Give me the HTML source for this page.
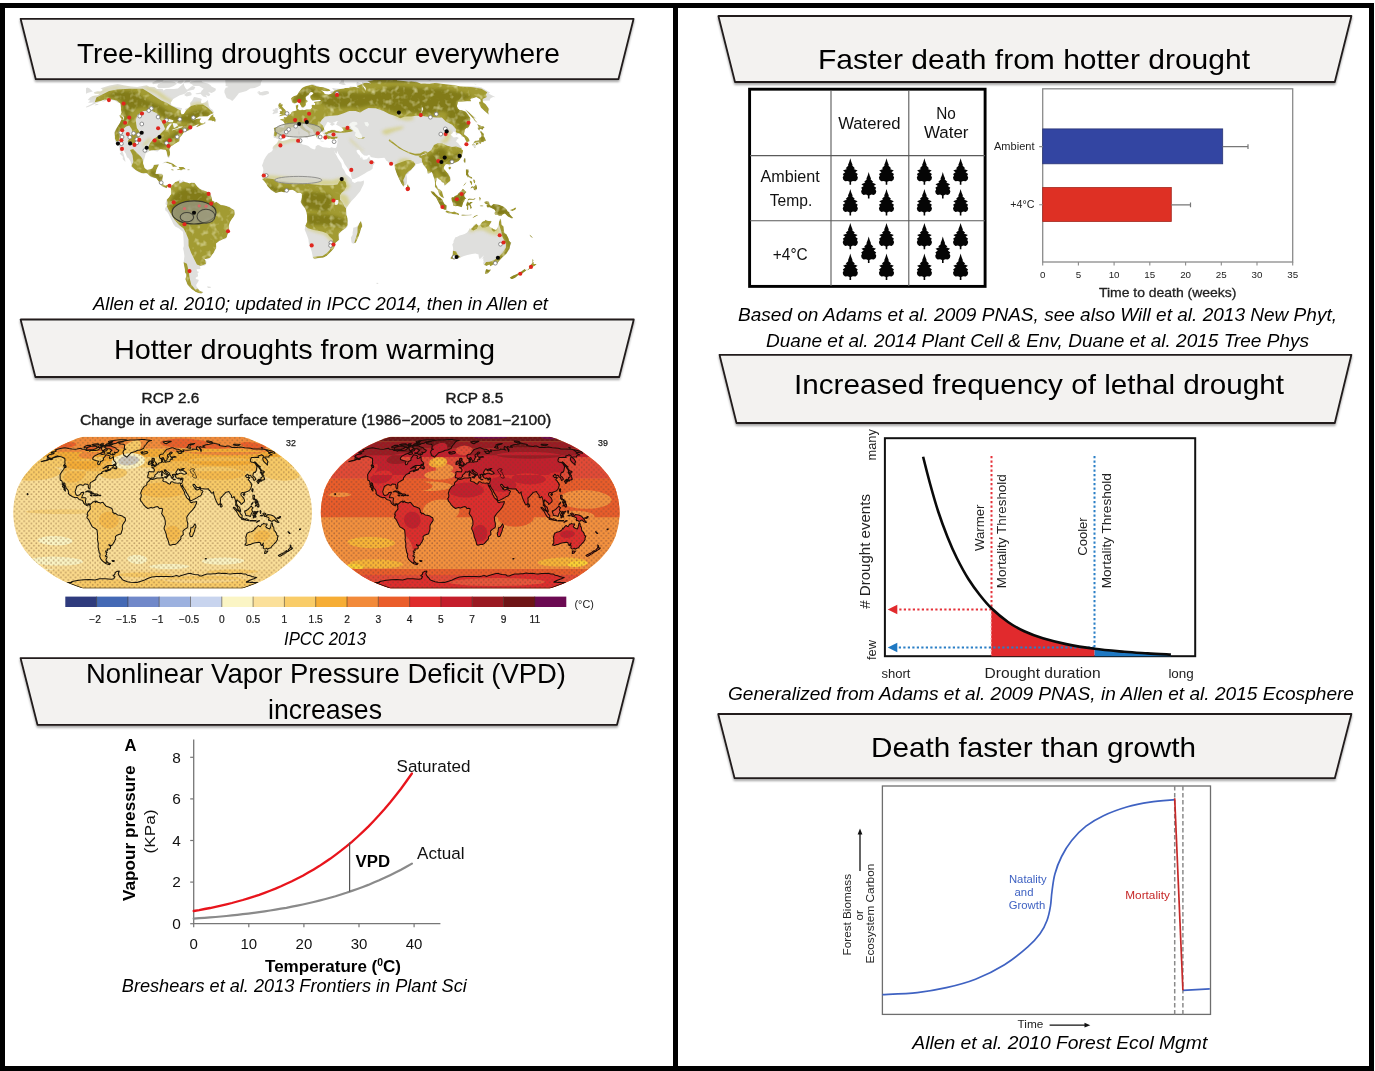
<!DOCTYPE html>
<html lang="en"><head><meta charset="utf-8"><title>Hotter drought and tree mortality</title>
<style>
html,body{margin:0;padding:0;background:#fff;}
body{width:1375px;height:1071px;overflow:hidden;font-family:"Liberation Sans",sans-serif;}
svg{display:block;font-family:"Liberation Sans",sans-serif;}
</style></head><body>
<svg width="1375" height="1071" viewBox="0 0 1375 1071">
<defs>
<filter id="sh" x="-5%" y="-20%" width="110%" height="150%"><feDropShadow dx="0" dy="2" stdDeviation="1.2" flood-color="#000" flood-opacity="0.35"/></filter>
<clipPath id="m1land"><path d="M100.5 88.3L109.5 85.6L117.7 84.1L124.8 85.4L131.1 86.4L137.2 86.9L139.7 86.6L146.7 85.2L149.3 86.7L154.5 87L157 89L162.6 88.9L163.5 90.5L166 88.9L173.6 89L177.9 88.4L183.8 83.3L184.2 85.8L185.4 88L187 89.7L192.2 86.1L195.4 87L194.1 89.5L187.9 90.9L184.8 93.8L179.3 95.6L173.2 99.1L170.8 102.5L171.4 105.3L176.3 106.9L182.2 108.3L180.5 111.7L181.6 114.6L183.8 114L185.6 110.4L185.1 109.1L188 108L190.5 106.1L190.1 103L192.2 100.6L194 96.9L196 97.3L199.8 98.2L201.7 99.1L200.9 102.2L201.8 103.3L205 102.5L207.9 100L208.9 106.1L210.2 108.2L212.8 110.1L214.2 113L210.1 114.5L207.6 116.2L199.3 116.2L195.9 118.2L191.4 121.6L196.3 119L201.3 118.4L199.9 120.2L199.7 121.5L200.4 122.8L203.5 123.6L205.7 121.6L205.6 123.5L200.3 125.4L197 127.3L196.4 126.4L199.3 124.3L197.2 124.4L195.7 125.3L192.6 126.4L190.8 127.1L189.1 129.3L190.2 130.1L188.4 130.6L184.1 132.1L182.1 135L179.7 138.1L179.6 141.2L175.8 143.2L172.4 145.4L170.6 146.6L169.3 149.4L170.1 152.6L169.9 157L168.4 158.2L167.5 156.5L166.7 153.6L166.6 151.4L165.5 149.8L163 149.8L161 149.3L159.8 149.4L157.7 151.4L155.8 151.3L153.8 150.6L151.2 150.4L149.6 151.1L145.6 153.6L144.9 156.8L143.1 162.9L144.8 168.1L147.1 169.8L150.8 169.1L153.3 167L153.7 165.1L154.9 164.6L158.8 164.1L159 164.9L157.6 167.6L156.7 169.3L156.2 171L155.3 173.7L156.9 173.9L159.2 173.7L162.1 173.7L163.2 175.2L162.5 178.6L161.9 182L162.9 183.6L164 185.3L165.8 185.7L167.5 184.7L169.6 184.7L171.2 185.8L170.3 188.4L169.9 186.5L168 185.5L166.6 188.2L164.6 187.7L162.9 186.7L161.8 186.2L160.3 184.3L158.7 183.5L158.9 181.8L156.8 178.9L156.2 178.2L153.9 177.9L150.7 176.9L149.6 175.9L147.3 173.4L145.5 173.2L143.5 174L138.7 172.2L135.8 170.3L132.7 168.3L130.9 166.1L131.6 165.6L130.6 161.4L128.8 158.4L127 157.3L125.7 153.5L124.3 151.6L124 148.2L122 146.9L121.4 149.1L122.8 152L123.8 155L125.2 159.7L125.4 161.9L122.7 158.9L122.9 156.7L120.9 154.7L119.7 153.6L121.2 152.3L119.6 150.3L119.2 146.9L119 145.4L117.9 143.5L115.4 142.3L114.8 138.8L114.9 136.8L114.2 132.4L116.2 128.4L120.1 122.8L121.3 119.2L123.9 119.8L124.2 117.7L123.1 115.7L120.5 114.9L121.6 112.5L120.9 109.6L120.9 107.7L120.5 105.3L120 103.2L118 102.7L116.4 101.4L114.4 100.6L110.8 99.9L108.5 99.4L105.1 101L101.4 101.9L106.8 98.8L103.3 99.9L99.5 101.7L93.5 104.6L88 106.9L83.5 108.2L77.7 109.1L82.5 107.4L86.6 106.4L91.6 104.1L93.7 102.7L92.8 102.4L90 102.7L88 102.8L90.4 100.6L87.7 99.9L89.9 97.6L92.6 96.1L97.9 95.3L99.7 93.8L94.6 93.8L93.8 92.2L97.4 91.2L100.4 91.5L102.7 90.2L102.2 89.3ZM171.2 185.8L174.1 183L175.3 182L176.2 181.5L180 179.6L180.6 180.6L180 182.3L182.2 180.9L182.6 179.9L184.8 182.1L186.9 182.6L189.8 183.5L191.4 182.6L194.4 182.5L195.8 184.5L197.2 186.2L199.9 189L204.3 190.6L208.6 192.2L210.3 193.1L212 197.5L212 200.5L214.3 201.3L214.3 202.9L216.5 201.7L220.6 204.7L224.1 205.2L229.4 206.7L231.6 208.6L234.4 209.8L235 212.5L234.9 214.2L233.7 216.9L231.8 219L229.7 222.4L229 225.4L229.2 228.1L229 230.7L227.5 234.7L226.7 237.6L225.3 239.3L223.5 239.3L219.1 241L216 243.5L216.4 247L216.1 248.7L214.9 249.9L214.1 252.8L212.1 254.8L210.6 257.3L208.7 259.3L206.9 259.3L204.5 258.7L203.5 257.8L203.7 258.8L205.7 260.3L206.6 261.7L206 264.5L204.6 265.5L200.1 266L200.4 268.9L196.6 269.2L197.2 271.2L199.3 272.1L197.6 272.9L198.1 276.2L195.6 277.7L195.9 278.9L198.6 279.8L198.7 280.8L197.2 283.3L196.1 284.9L196.7 287L197.9 288.2L198.5 289.3L200.1 290.9L203.4 292L201.5 293.9L199.1 293.3L196.2 292.2L192.8 290.1L189.9 287.7L187.2 284.5L186.1 281.2L185.2 279.2L186.3 276.2L186.3 273.7L185.1 272.9L184.7 270.9L185 270.4L184.6 267.7L183.6 262.9L183.9 260.3L184.4 256.1L183.7 251.1L183.1 248.5L183.8 246L183.6 240.3L183.3 234.5L182.9 231.7L181.2 230.2L179.1 228.6L175.2 226.5L173.3 223.9L171.9 220.7L169.4 215.8L168.7 214.2L167.3 212.1L165.4 210.6L165 208.4L166.2 206.4L167.1 204.9L166.5 205.1L165.4 204.2L165.8 202.2L166.7 199.3L167.3 198.8L168.7 197.5L171.3 193.9L170.8 191.2L171.2 189.4L170.3 188.4ZM278.3 140.2L279.2 140L282.4 141L285.8 140.3L290.8 138.5L293.6 138.5L297.6 138.3L300.3 137.6L302.1 138.1L301.1 138.5L301.6 139.2L302 142L301.1 143.4L302.6 144.5L305.6 145L308.4 145.9L310.7 147.9L312.8 149.1L314.6 149.4L315.6 148.2L315.6 146.4L317.7 145L319.1 145.2L321.2 146.4L323 147.2L325.9 147.6L329.9 147.9L331.4 147.2L333.3 147.7L333.8 149.9L334.3 151.6L336.2 154.7L338.1 158.4L339.3 160.2L341.4 163.4L342.2 167.5L344.2 170.2L346 174.2L348.3 175.9L351 178.6L351.9 179.3L351.9 180.9L352.2 181.5L354.6 183L357.6 181.6L360.9 181.5L363.9 180.6L363.9 183L363.4 184.7L362 187.4L360.2 191.2L355.4 197.1L351.3 201.2L349 204.2L347 207.2L346.1 209.1L346.3 212L346.5 214.8L347.5 217.9L347.9 220.7L347.7 222.4L347.8 225.8L346.7 227.8L342 230.7L338.7 233.9L339.1 236.7L339.2 240.1L336.1 242.6L334.6 244.3L334.8 246.9L333.4 249L331.7 250.9L326.6 256.1L323.2 257.8L319.5 258L315.1 259.2L312.9 258.1L312.5 255.6L311.8 251.9L310.8 248.7L309.1 245.3L308.4 239.3L306.9 235.1L304.7 229.7L305.2 226.1L307.2 221.7L307 215.3L305.7 210.6L305 208.6L302.3 205.2L300.4 201.7L301.4 199.8L301.9 197.3L301.9 193.8L300.7 192.9L299.8 192.7L297.8 193.1L296.3 193.3L294.8 190.9L292.4 189.7L290.9 189.9L289.1 190.2L287 191.2L284.3 192.4L281.3 191.6L278.3 192.2L275.7 193.1L271 189.9L269.2 188L267.4 186.2L266.7 184.5L265.1 182.3L263.6 180.6L262.3 179.6L262.4 177.9L261.1 175.7L262.6 173.5L263.4 170L263 167.8L262 165.4L263.5 161.7L263.7 160.6L265.8 156.7L268.2 153.5L270.9 152.1L272.1 150.9L273 149.3L272.6 148.9L272.7 147.4L273.6 146.1L275.9 143.9L277 143.2ZM333.8 149.9L335.1 152.5L336.7 153.8L337.5 150.8L338.1 153.3L340.3 156.7L342.8 160L344.7 164.3L347 167.6L349.6 171.8L350.3 172L351.1 175.6L351.7 178.1L352.2 179.1L354.4 178.9L358.8 176.9L360.4 176.1L364.8 173.5L367.4 171.8L369.1 171L370.7 170.2L372.7 168.5L372.8 166.1L375.1 162.6L373.1 160.7L370.2 159.4L369.6 158.2L369.2 156.2L368.8 157L367.9 157.9L366.8 159.2L364.2 159.7L362.7 159.5L362.6 158.4L361.9 156.5L361.3 157.5L361.5 158.7L360.4 157.5L360.1 156L359.2 155L357.9 153.8L356.4 151.1L357 149.9L358.4 149.8L359.4 149.9L360.5 151.8L361.8 153.6L364.2 155.5L367 155.7L368.9 154.7L370.1 155.5L370.7 157L371.5 157.3L375.7 157.9L378.2 158.2L381.4 158L384.3 157.7L385.2 158.7L386.1 160.4L387.7 161.4L388.7 162.9L390.4 165.1L391.9 165.6L393.7 164.3L394.1 163.1L394.4 164.9L394.9 168.5L397.1 174.5L399 178.8L401.4 183.6L403.5 186.8L404.5 185.5L406.1 184.8L406.9 183.1L407.1 178.4L406.5 174.4L408 173.9L409.4 171.8L410.8 170.7L412.9 168L414 167.1L415.5 165.4L415.5 164.3L417 164.1L419 163.8L420.3 163.1L422.2 162.9L422.8 164.4L424.5 166.6L427 169.8L427.4 173.5L429 173.9L430.4 172.7L431.3 171.8L432.3 172.9L433.6 176.9L434.6 179.6L435 183.6L434.8 187L436.7 188.7L438 190.4L438 191.4L438.9 193.8L439.7 195.4L441.1 196.8L443.5 198.3L444.3 198.1L443.6 196.3L442.8 194.1L442.2 191.6L440.8 190L439.4 188.9L438.3 188.4L437.3 186.2L436.1 184.8L435.8 182.8L436.5 180.6L436.5 178.1L437.4 177.7L438 179.1L439.7 179.8L441 180.6L442.2 182.6L443.8 183L444.4 186L445.5 185.3L447.2 184L447.7 183.1L449.4 182.1L450.5 180.4L450.6 178.6L450.3 177.2L448.3 173.4L447.1 172.5L445.5 170.7L443.9 169L443.9 167.1L444.8 165.4L446.3 164.3L448 164.4L449.7 166.3L450.1 164.8L451.9 164.1L454.2 163.1L455.2 162.9L458.5 161.2L460.2 159.2L461.7 156.7L462.6 153.3L463.1 150.1L461.4 149.4L462.2 147.9L460.1 145.7L458 142.9L456.1 141.8L456.8 139.8L458.9 138.1L456.9 137.1L453.7 137.6L450.7 134.8L452.5 133.3L453.5 131.6L455.4 132.1L456.1 135L459 133.3L461.3 135.3L461.3 136.5L464.2 137.3L464.8 139L466.1 141.8L466.7 142.7L469.8 141.3L469.6 139.8L468 137.3L464.1 134.4L464.4 132.6L464.7 130.1L466.3 127.9L468 128.4L469.6 125.6L469.9 121.5L470.5 118.2L467.7 114.1L465.8 111.4L461.7 110.1L459.6 110.1L457.8 108.5L456.9 106.1L458.3 101.6L461.9 101.7L467.2 101.3L471.2 101.4L470.2 99.1L474.4 97.8L476.2 96.9L480.3 99.3L480.9 101.4L479.1 102.1L479.4 104.1L480.6 107.5L485.5 112L489.2 115.1L488.3 111.7L489.4 109.3L487.6 106.6L485.6 104.1L483 102.2L483.1 100.8L489.9 100.6L489.9 99.1L491.1 97.9L493.2 96.9L495.6 97.2L488.4 93.5L490.2 92.8L481.6 87.4L478.3 86.7L469.2 86.3L465.9 86.4L459.9 86.4L454.8 84.9L443.8 84.1L436.4 82.7L429.6 83.8L424.8 83.4L420.9 83.7L415.5 81.2L411.2 81.1L408.9 81.8L401.5 80.8L396.9 80.4L397.4 78.4L388.7 76.5L384.9 75.7L382.7 77.2L378.5 77.8L372.6 78.7L367.2 81.1L371.4 83.4L368.5 83.1L365 82.7L362.3 82L361.7 83.8L365.9 88L365.6 90.9L363.9 87.6L361.4 83.8L356.9 81.8L356.4 83.8L357.1 86.6L360 88.3L355.4 87L350 86.3L349.2 87.7L345 88L344.1 88.4L339.8 88.7L335.8 88.4L333.1 88L332 87.9L333.8 90.2L334.3 91.3L331.9 91L330 91.9L331.3 93.7L328.7 94.6L326.3 94.3L324.8 93.8L324.4 93.1L320.9 90L324 90.9L327.6 91.5L330.8 90.5L328.9 89L323.7 87L320.4 86.9L318 86.1L316.7 85.7L313.8 84.3L311.7 84.3L309 85.2L305 86.3L302 87.9L300.6 89.7L298.9 92.3L297 95.3L295.4 95.8L293.9 95.9L292.2 96.9L291 98.4L291.5 100L292 102.2L293.9 103.8L295.1 103.6L296.8 102.4L298 101.6L298.8 102.2L300 104.2L301.3 106.6L301.8 107.7L303.4 107.7L304.9 106.8L305.7 105.8L305.8 104.1L305.7 102.8L307.6 101.7L307.7 100.3L305.8 99.6L305.5 97L308.6 94.9L309.9 92.2L312 91.9L313.8 93.1L312.6 94.6L310 95.9L310.5 98.4L311.5 100L312.9 101L315.2 100.5L319.2 99.7L321.5 100.8L319 101.3L315 101.4L313.6 101.9L315.2 103.3L315 105.3L313.1 104.4L311.8 104.7L311.5 106.1L311.9 107.4L310.8 109L309.2 109.5L306.4 109.3L303.8 110.3L302.6 109.3L300.9 109.9L299.4 110.1L298.5 109.5L297.5 108.8L298.3 106.6L298.4 104.2L295.5 105.3L295.9 107.7L296.4 109.3L296.8 110.3L295.8 110.7L294.6 111.1L291.8 111.7L291.2 113.2L290.3 114.3L289.6 114.6L288.2 115.1L286.1 117.4L283.8 117L284 118.8L279.8 119.2L280.3 120.2L283.1 121.2L284.5 123L284.7 123.9L284.5 125.4L284.1 127.4L281.1 127.3L278.5 127.3L275.8 126.9L274.8 127.4L273.6 128.3L274.3 129.4L274.4 131.3L273.3 135.3L273.9 138.1L275.5 138.1L277.7 139L279 139.7L280.4 138.6L283.2 138.5L283.7 138.6L285.2 137.1L285.8 136L286.8 135.3L286.1 133.9L287.7 131.9L289.4 130.8L290.9 129.3L291.6 127.3L293.6 127.6L294.5 127.9L296.2 126.9L298.3 125.8L299.5 126.3L300.3 127.3L300.6 128.3L302.5 129.6L303.3 130.3L305.1 131.1L306 131.8L306.9 132.1L308.1 133.1L308.8 134.8L308.4 136.5L309 136.6L310.3 134.8L309.4 133.4L309.8 132.4L310.2 132.3L312 133.4L312.1 132.9L311.3 132.1L309.7 131.3L308.6 129.9L306.9 129.8L305.8 128.9L304.6 127.1L303.3 126.3L303.1 124.8L302.7 124.1L304.7 123.8L304.5 124.6L305 125.1L305.6 124.3L306.9 126.3L308.6 127.3L311.1 128.8L312.5 129.6L313.1 130.9L313.3 132.4L314.3 133.6L315.4 134.8L316.3 136L316.1 136.8L317 138.5L318.4 139.2L319.3 139L318.6 137.3L319.6 137.5L319.8 136.6L320.2 137L320.3 136.1L318.5 134.3L318 133.1L318.1 132.1L319.5 133.1L320.3 132.8L320.1 131.6L322.2 131.8L322.8 132.9L323.4 132.4L324.4 131.4L326.4 131.4L325.2 130.4L324 128.9L324.3 127.8L325.1 126.1L326.2 124.4L327.1 122.3L328.2 122.1L329.6 122.8L331.2 123L329.9 124.3L331.5 125.4L332.5 125.8L334 124.8L335.3 124.1L332.7 122.8L335.2 122L336.1 121.3L337.8 121.2L338.5 121.3L337.2 122L336.8 123.1L336.5 124.3L335.6 124.4L336.6 124.9L337.3 125.3L339.3 126.3L340.3 127.1L342.2 128.1L343.6 130.4L341.2 131.4L339.4 131.6L336.4 130.9L334.7 129.8L331.6 129.8L330.1 130.6L327.8 131.3L326.5 131.1L327.8 131.9L325.2 132.4L323.1 132.9L322.8 133.9L323.9 133.9L323.8 135.3L324.4 135.8L323.3 136L324.8 136.6L325.1 138.1L326.4 138.5L327.6 138.8L329 139.5L329.8 138.3L331.7 139L333 139.8L334.6 139.3L335.3 138.5L337.6 138.8L337.4 140L337.4 140.7L337.6 142.5L337.3 143.4L336.8 145.2L336.7 146.4L336.1 147.6L335.5 148.1L333.3 147.7ZM500.6 218.5L501.7 221.6L501.7 224.8L503.6 226.6L503.8 229L504.4 233L506.4 234.2L507.3 236.1L508.9 238.9L508.6 240.1L509.1 240.8L510.3 242.3L511.4 242.6L509.8 246.7L509.8 248.7L507.9 251.6L506.7 253.4L503.9 256L502.3 257.6L499.1 260.8L497.1 263.7L493.9 264.4L490.5 266.4L489.4 264.5L486.6 266L484.4 265.2L483.1 263.7L483.7 261.2L483.3 260.5L483.3 259.3L483.2 258.1L480.9 259.8L482.6 257.8L484.1 255.3L483.3 256.1L479.7 259.2L479 257.8L478.6 256.1L478.6 254.6L475.4 253.6L472 253.9L467.4 254.9L464 256.1L460.4 257.6L457.7 257.8L454 259.5L450.4 258.5L450.9 257L451.8 256.6L452.8 254.4L452.8 251.9L453.1 249L453 247.2L452.3 244.5L453.6 242.5L453.5 241L455.4 237.2L456.8 236.9L459.6 235.4L462.4 234.7L464.6 234L467.1 232.5L468.4 230.8L469.9 228.1L470.7 229.7L470.9 228.3L472.4 227.5L473.5 225.8L475.2 224.1L476.6 223.6L478 225.4L479.5 225.6L480.6 224.1L481.7 222.4L482.7 221.4L484.6 221.1L485.5 219.5L486.9 220.4L489 221.1L490.6 220.7L491.7 221.1L491 223.3L490 224.1L489.1 225.8L490.3 227.3L492.1 228.1L493.7 229.2L496.2 230L497.6 227.5L498.4 224.9L499 221.7L499.8 219ZM486.4 269.1L488.4 269.7L491.2 269.4L489.9 271.2L488 273.2L485.9 273.9L484.9 273.7L485.4 271.6L485.7 270.1ZM532.4 258.5L532.9 259.5L533.7 260L532.8 262.5L534 262L533.7 263.9L536.8 264L535 265.7L532.6 267.1L527.5 270.6L527.2 270.1L529.4 267.7L528.4 266.7L529.2 266.2L531 264.5L532.3 262.5L532.3 259.8ZM525.4 268.7L525.1 270.1L526.9 269.6L526 270.7L524.2 271.9L521.3 274.2L518.1 275.2L515.2 277.7L512.5 278.9L510.9 278.9L510.4 278.2L509.7 277.5L513.1 275.6L515.7 274.4L520.7 271.9L522.2 270.7L524.2 269.2ZM484.5 201.8L486.8 201.2L489 201.8L489.6 204.7L491.1 206.1L493.4 203.9L499 204.7L503.3 206.4L506.4 209.3L508 211.8L509.2 211.8L509.6 214L511.1 215.8L513.3 217.9L511.9 218.4L507.9 216.5L504.9 213.6L502.5 214.5L501.7 215.8L498.7 215.8L497.9 214.8L495 214.7L494.4 212.8L495.7 212L494.7 209.8L491.8 208.3L489.5 207.2L487.3 207.4L486.3 205.4L488.1 204.7L485.9 204L484.4 203ZM451.3 198L451.7 200.5L452.8 203L453.1 205.4L455.3 206.2L457.2 206.1L459.5 206.4L461.7 207.2L462.5 205.2L463.1 202.7L464.2 201.3L464.9 199L466.4 198.8L464.5 196.8L464.2 194.8L465.5 193.1L466.5 191.9L464.7 190.6L463.4 188.9L462.6 188.7L461.6 190.4L460 192.1L458.7 193.1L457.3 195.1L454.9 196.1L453.3 197.6L452.2 197.1ZM430.5 191.1L433.8 191.7L435.7 194.1L438.5 196.8L440 197.6L442.3 199.5L443.5 202.2L444.5 203.9L446.7 205.6L446.5 208.1L446.3 210.3L445.5 209.8L444 209.8L441.1 206.9L438.4 202.2L436 197.6L434 195.8L431.8 193.6ZM445.2 212L446.5 210.4L447.7 210.8L450.4 211.8L453 212.1L454 211.3L456.5 212.6L458.9 213.6L459 215.2L456.8 214.5L453.8 214.3L450.8 213.5L448.6 213.5L447 212.8ZM466.8 209.1L467 206.4L466 205.2L466.8 202.5L467.6 201.8L467.9 199.3L469.1 198.6L471.7 198.8L473.2 199L475.1 198L475.7 198.1L474.4 199.8L472.4 199.7L469.4 199.8L468.2 200.2L468.1 202L469.1 202.9L470.3 202L472.1 202L473 202L471.3 203.5L470.3 203.9L471.2 205.9L471.7 207.2L472.1 208.1L470.7 208.8L470.1 208.6L470.1 207.2L469.3 205.1L468.1 205.6L468.3 207.2L468.2 209.8L467.3 209.9ZM465.9 169.3L467.4 169.5L468.4 169.3L468.7 171.8L468.1 173.5L468.8 175.6L470.2 176.4L472.1 177.2L472.1 178.4L472.7 179.3L471.4 178.6L470.3 178.2L468.8 177.1L467.8 177.4L467.1 176.6L467.5 175.9L466.9 176.1L466 174.7L466 173.4L465.9 171.8L465.9 170.8ZM470.6 188.9L470.8 187.4L472.2 186L473 186.8L473.6 186.7L474.3 186.2L475.4 185.3L475.3 184L476.5 185.3L477.1 187.9L476.9 188.9L476.8 189.9L475.9 188.7L475.6 189.7L475.7 191.1L475.4 190.2L473.9 190L473.7 188.4L472.6 187.5L471.6 188ZM473 179.4L474.5 179.4L475.4 181.6L474.8 183.3L474.2 183.3L473.4 181.5ZM469.7 180.6L471.4 181.1L472.2 182.3L472.1 184.8L471 184.7L470.6 183L469.8 182.6ZM463.1 186.3L464.9 184.8L466.2 182.8L466.4 181.5L465.8 182.6L464.4 184L463.2 185.7ZM473.2 143.2L474.2 141.7L475 140.7L476.7 140.7L478.2 140.5L479.1 140.3L479.1 138.8L479.3 137.3L479.8 138.5L481.3 136.6L481.6 135.1L481 133.6L480 132.1L479.8 131.1L481.1 130.8L482.2 132.3L483.9 133.8L483.7 136L484.9 138.1L486 140.3L485.4 141.5L484.5 140.5L484.1 142.2L483.1 142.2L481.1 141.8L481.5 142.7L480.5 144L479 142.9L479.2 142.2L477.2 142.2L475.2 142.7L474 143.2ZM473.3 143.4L474.6 143.9L474.9 144.5L475.6 145.2L475.6 146.7L475.4 147.7L475.1 148.2L474.1 147.7L473.5 146.2L472.5 145.4L471.8 144.4L472.8 143.9ZM475.6 143.2L477.4 142.7L478.7 143.5L478.4 144.4L477.3 144L477.1 145.4L475.8 144.4ZM479.3 130.8L479.7 130.1L479.5 129.3L480 128.8L482.9 129.8L483.3 128.1L484.8 127.4L483.1 125.9L482.1 126.4L477 123.9L477.8 125.6L478.5 126.6L478.9 127.8L477.6 127.6L477.8 128.9ZM465.1 109.6L465.8 109.5L468.7 111.7L470.8 114.1L474.1 116.5L476.7 118.7L473.8 117.9L475.7 120.7L478.3 122.8L476.8 122.1L476.5 123.1L474.6 120.7L472.8 118.2L469.7 114.9L467.5 112.5ZM464.8 157.9L465.7 158.4L465.5 160.9L465.2 163.4L463.9 162.1L463.4 160.7L464.2 158.2ZM448.1 168.1L449.5 169.8L450.8 168.8L451.3 167.3L450.5 166.6L448.8 167ZM407 184.1L408.4 184.8L409.2 186.2L410.2 188.2L410 189.7L408.4 190.6L407.4 190L407.2 188.9L407 186.7ZM360.9 220.7L362.2 224.1L362.4 226.5L361.1 228.3L360.4 231.2L359.2 235.1L357.7 238.4L356.2 241.8L355.8 242.8L353.1 243.7L351.5 242.6L351.2 239.9L350.9 237.6L352.6 234.7L352.6 232.5L353.1 230L353.2 227.8L356.1 227L358 225.4L359.3 223.1L360.3 221.4ZM278.4 116.4L279.1 116.5L280.5 116.1L281.2 116.2L282.7 115.7L284.2 115.6L285.7 115.3L287.6 114.8L287.6 114.3L286.7 114.1L287.1 113.6L288 112.5L287.4 111.9L286.1 111.9L285.8 110.9L285.5 109.9L284.8 109.3L283.8 108.5L283 107.2L281.7 106.9L282.2 106.4L282.8 105.2L283.1 104.6L282.9 104.2L280.2 104.6L281.5 103.2L281.6 102.8L279.2 102.8L278.8 103.5L278.2 104.6L278.4 105.7L278.6 106.3L278.3 108L279.2 107.4L279.4 107.1L279.8 107.7L279.1 108.6L279.4 109.1L281.2 108.6L281 109.3L281.9 109.9L281.8 110.9L281.5 111.2L279.8 111.2L279.7 112L280.5 112.5L279.7 113.2L278.9 113.5L279.2 113.8L280.6 114L281.7 114.1L282.3 114L281.9 114.6L280.5 114.6L280 114.9ZM276.2 107.9L277.8 108.2L278.4 109.1L278.6 109.6L277.6 110.1L277.9 111.2L277.6 113L276.8 113.2L275.1 113.6L273.1 114.3L272.4 113.2L273.5 112.4L273 112.4L274.2 111.4L272.7 111.1L272.8 110.1L273.1 109.6L274.9 109.6L275.2 109.1L275.1 108.2ZM256.8 92.3L259.3 91L260.5 92.3L261.7 92.1L264.1 91.3L266.4 90.9L268.2 91.2L269.2 92.8L268.7 93.8L267.3 94.3L265.2 94.9L262.8 95.5L261.1 95.3L258.6 94.9L259.5 94.3L257.3 93.2L259.6 92.9ZM232.3 101L230.2 99.6L227.6 98.4L226.4 97.6L225.2 94.3L224.4 92.5L224.5 90.2L225.7 87.7L228.7 87L225.4 85.8L225.7 84.7L225.4 82L225.1 79L222.9 77.8L218 77.7L215.6 77.2L213.9 75.9L213.5 74.9L218.7 74L222.5 72.8L222.3 72L227.7 71L233.5 70.5L241.9 70L253.8 69.2L259 69.5L263.3 70.1L272.2 71.3L268.4 72.3L266.4 73.4L265.2 75.3L264.4 76.8L263.7 78.4L262.4 80.1L261.1 82L260.6 85.2L258.3 86.6L254.7 88L250.2 88.6L246.4 90.9L242 92.2L239 93.1L237.3 95.3L234.7 98.4ZM215.6 90.6L215.9 88.7L211.5 86.6L210.6 85.2L207.9 83.5L202.6 82.2L201.5 80.8L196.4 80.7L191.1 81.5L189.2 83.1L192.4 84.5L192.9 85.8L195.4 86.1L199.2 86.1L201.2 87.3L203.7 88.7L201.4 90.9L200.9 92.6L195.3 93.5L196.6 94.3L200.7 94.1L203.1 96.4L207.2 97.6L205.5 95L209 96.2L210.3 94.6L208.2 91.9L211.6 93.1L214.5 91.6ZM158.4 83.8L164.8 81.3L171.9 81.5L174.6 81.9L177 83.8L173.7 86.1L169.1 87.7L163.5 87.9L158.7 88.3L157.1 86.6ZM152.1 82.8L157 80L163.2 80L163.6 81.5L157.7 83.5L153 84.3ZM195.2 76.5L199.1 74.7L199.7 72.3L203.7 71.3L213.5 69.8L224.2 69.8L227.3 70.4L223.4 71.8L217.8 72.8L212.1 74L209.5 75.9L204.5 77.2L198.5 77.2ZM203.3 78.4L196.2 79.6L190.4 79.3L192.6 77.2L199.3 77.4L203.9 77.8ZM176.9 79L169.5 79.8L165.6 78.8L169.7 77.3L176.1 76.9L178.5 77.8ZM181 84.1L177.1 83.1L178.5 81.1L183.3 80.4L183.6 81.8ZM189.6 82L183.7 82.8L185.8 80.4L190.5 80.4ZM200.8 74.9L195.2 74.7L194.4 72.8L199.8 71.5L202.5 72.3ZM185.5 79L180.8 78.8L182.7 77.2L186.9 76.9ZM191.4 95.3L186.7 96.4L184.1 94.9L186.9 92.3L190.1 91.8L191.7 93.8ZM207.3 120.5L208.8 119L209.5 117.4L211.8 115.3L214.1 114L212.8 116.2L215.1 117.4L215.4 119L216.1 118.7L216.1 120.7L215.2 122.1L214.1 121.8L214.1 120.7L212.1 121.6L211.7 120.5ZM123.1 119.2L121 118.5L119.1 115.4L120.6 115.1L122.3 116.5L123.3 117.9ZM162 163.6L165 161.7L165.9 161.6L167.2 161.6L169.4 161.9L172.2 162.9L173.5 164.1L175.3 165.4L177.4 166.5L175.9 167L175 166.8L172.2 167.1L173.1 165.8L171.2 165.6L171.6 164.3L169.1 163.9L168.5 163.4L166.6 163.1L166 162.2L164.1 163.1ZM176.7 169.5L179.8 169.1L178.5 167.1L180.6 167L182.5 167.1L183.7 167.3L184.7 168L185.8 169.1L185.4 169.8L183.5 169.3L181.7 169.8L181.2 170.8L180.6 170.2L179.6 169.8L177.7 170.2ZM170.9 169.5L173 169.3L174.1 170.2L172.6 170.5L171 170ZM187.5 169.3L189.9 169.5L189.5 170.2L187.4 170.2ZM293.7 73.4L298.3 72.8L301.9 72.5L308.5 72.6L306.1 73.8L303.6 74.7L301.6 75.9L300.2 77L297.2 75.9L294.4 74.3ZM338.8 83.8L339.6 82.4L341.4 81.1L340.6 79L344.3 77.4L350.9 76.5L351.5 76.7L349.6 77.8L344.7 79L344 81.1L344.1 82.8L345.9 84.9L343.3 85L340.7 84.2ZM373.8 74L379.2 75.3L383.2 74.7L382.4 73.4L375.3 71.8L372.3 72.3ZM422.7 79L430.2 80.7L433.8 79L434.6 78.4L428.4 77.8L422.4 77.8ZM473.6 83.8L475.7 84.1L476.8 84.6L475.5 84.6ZM79.3 92.8L82.4 92.2L84.2 93.4L85.5 94.1L88.1 92.8L92.8 91.5L91.2 90L89.3 88.3L87.2 87.4ZM96 103.9L98.8 103.9L97.3 105L94.4 105.5ZM304.1 136.5L305.4 136.1L308.4 136.1L307.9 138.6L304.8 137.5ZM297.9 131.6L299.2 131.1L299.9 133.1L299.7 134.4L298.4 134.8L298.1 133.1ZM298.2 128.9L299.1 128.1L299.4 129.9L299.1 130.8L298.3 130.1ZM320.1 140.7L322.1 140.8L324 141.2L323.7 141.5L321.5 141.5L320.1 141ZM332.5 141.5L333.4 141L335.5 140.5L334.9 141.5L333.6 142.2ZM472.3 217.9L474.7 215.7L477.8 214.7L478 215.2L475.4 216.7L473 217.9ZM461.3 214.7L462.8 214.5L465.8 214.7L468.8 214.7L471.8 214.5L471.4 215.3L467.2 215.5L462.7 215.7L461.2 215.5ZM479.1 197.5L479.9 196.8L481 198.8L480.3 200L480 201.8L479.4 199.7ZM479.8 205.6L482.1 205.2L484 206.1L482.1 206.4L479.8 206.2ZM510.2 209.8L512.8 209.1L515.1 207.6L516.3 207.7L515.4 209.8L512.6 211L510.3 210.4ZM550.4 230L552.2 229.8L552 231L550.2 231.2ZM529.5 234.5L531.4 235.9L532.9 238.1L532.2 238.1L529.9 235.9ZM56.5 166.5L57.9 167L58 167.6L56.7 168.5L56.3 167.5ZM206.9 286.5L208.8 286.5L211.2 287L210.2 288L208 288ZM197.9 288.8L198.6 289.6L200 291.1L203.4 292L202.1 292.8L199.7 293.1L197.7 292.8L194.6 291.5L196.1 290.4L196.2 289.1ZM376.7 282.8L378.6 283L377.8 284L376.3 283.8Z"/></clipPath><clipPath id="m1box"><rect x="86" y="78" width="452" height="219"/></clipPath><filter id="b1" x="-10%" y="-10%" width="120%" height="120%"><feGaussianBlur stdDeviation="0.65"/></filter><filter id="b2" x="-10%" y="-10%" width="120%" height="120%"><feGaussianBlur stdDeviation="1.6"/></filter><filter id="tx" x="0" y="0" width="100%" height="100%"><feTurbulence type="fractalNoise" baseFrequency="0.17" numOctaves="2" seed="7" result="n"/><feColorMatrix in="n" type="matrix" values="0 0 0 0 1  0 0 0 0 1  0 0 0 0 0.75  0 0 0 3.0 -1.55" result="m"/><feComposite in="m" in2="SourceGraphic" operator="in"/></filter><clipPath id="gl"><path d="M-79.5 75.8L-85.5 74L-92.8 71.2L-100.6 67.7L-107.4 63.9L-113.5 59.9L-119.3 55.7L-124.7 51.3L-129.7 46.8L-133.9 42.2L-137.7 37.6L-140.8 32.9L-143.4 28.2L-145.4 23.5L-146.7 18.8L-147.9 14.1L-148.7 9.4L-149.2 4.7L-149.4 -0L-149.2 -4.7L-148.7 -9.4L-147.9 -14.1L-146.7 -18.8L-145.4 -23.5L-143.4 -28.2L-140.8 -32.9L-137.7 -37.6L-133.9 -42.2L-129.7 -46.8L-124.7 -51.3L-119.3 -55.7L-113.5 -59.9L-107.4 -63.9L-100.6 -67.7L-92.8 -71.2L-85.5 -74L-79.5 -75.8L79.5 -75.8L85.5 -74L92.8 -71.2L100.6 -67.7L107.4 -63.9L113.5 -59.9L119.3 -55.7L124.7 -51.3L129.7 -46.8L133.9 -42.2L137.7 -37.6L140.8 -32.9L143.4 -28.2L145.4 -23.5L146.7 -18.8L147.9 -14.1L148.7 -9.4L149.2 -4.7L149.4 -0L149.2 4.7L148.7 9.4L147.9 14.1L146.7 18.8L145.4 23.5L143.4 28.2L140.8 32.9L137.7 37.6L133.9 42.2L129.7 46.8L124.7 51.3L119.3 55.7L113.5 59.9L107.4 63.9L100.6 67.7L92.8 71.2L85.5 74L79.5 75.8Z"/></clipPath><path id="ipland" d="M-107.5 -62.5L-102.3 -64.1L-97.7 -64.9L-93.9 -64.1L-90.5 -63.6L-87.2 -63.4L-85.8 -63.5L-81.8 -64.3L-80.5 -63.4L-77.6 -63.3L-76.4 -62.1L-73.3 -62.2L-73 -61.3L-71.5 -62.2L-67.3 -62.1L-64.8 -62.5L-61.1 -65.4L-61.1 -63.9L-60.7 -62.7L-59.9 -61.7L-56.8 -63.8L-55.1 -63.3L-56 -61.9L-59.6 -61.1L-61.5 -59.5L-64.6 -58.4L-68.3 -56.5L-69.8 -54.6L-69.7 -53L-67.1 -52.2L-63.9 -51.4L-65 -49.5L-64.6 -47.9L-63.3 -48.2L-62.1 -50.2L-62.4 -50.9L-60.7 -51.6L-59.2 -52.6L-59.2 -54.4L-57.9 -55.7L-56.6 -57.8L-55.5 -57.5L-53.5 -57L-52.5 -56.5L-53.2 -54.8L-52.8 -54.2L-50.9 -54.6L-49.2 -56L-49 -52.6L-48.4 -51.5L-47.1 -50.4L-46.5 -48.8L-48.9 -48L-50.3 -47L-55 -47L-56.9 -45.9L-59.5 -44L-56.7 -45.4L-53.9 -45.8L-54.8 -44.8L-54.9 -44L-54.6 -43.3L-52.9 -42.9L-51.7 -44L-51.8 -42.9L-54.8 -41.8L-56.7 -40.8L-57 -41.3L-55.3 -42.5L-56.5 -42.4L-57.4 -41.9L-59.1 -41.3L-60.1 -40.9L-61.2 -39.7L-60.6 -39.2L-61.6 -39L-64 -38.1L-65.3 -36.5L-66.7 -34.8L-66.8 -33.1L-69 -31.9L-70.9 -30.7L-72 -30.1L-72.7 -28.5L-72.4 -26.7L-72.6 -24.2L-73.5 -23.6L-73.9 -24.5L-74.3 -26.1L-74.3 -27.3L-74.9 -28.3L-76.2 -28.3L-77.3 -28.6L-78 -28.5L-79.2 -27.3L-80.3 -27.4L-81.4 -27.8L-82.8 -27.9L-83.7 -27.5L-85.9 -26.1L-86.4 -24.3L-87.5 -21L-86.6 -18L-85.4 -17.1L-83.3 -17.5L-81.9 -18.7L-81.7 -19.7L-81 -20L-78.8 -20.3L-78.8 -19.8L-79.5 -18.3L-80.1 -17.4L-80.4 -16.4L-80.9 -14.9L-80 -14.8L-78.8 -14.9L-77.1 -14.9L-76.6 -14.1L-77 -12.2L-77.3 -10.3L-76.8 -9.4L-76.2 -8.5L-75.2 -8.3L-74.3 -8.8L-73.1 -8.8L-72.3 -8.2L-72.8 -6.8L-72.9 -7.8L-74 -8.4L-74.8 -6.9L-75.9 -7.1L-76.8 -7.7L-77.4 -8L-78.3 -9L-79.1 -9.5L-79 -10.4L-80.1 -12L-80.4 -12.4L-81.7 -12.6L-83.5 -13.2L-84.1 -13.7L-85.3 -15.1L-86.3 -15.2L-87.4 -14.8L-90 -15.8L-91.6 -16.8L-93.3 -17.9L-94.3 -19.2L-93.9 -19.4L-94.3 -21.8L-95.3 -23.5L-96.3 -24.1L-96.9 -26.2L-97.6 -27.2L-97.7 -29.1L-98.8 -29.9L-99.2 -28.7L-98.5 -27.1L-98 -25.4L-97.3 -22.7L-97.2 -21.5L-98.7 -23.2L-98.5 -24.4L-99.6 -25.6L-100.2 -26.1L-99.3 -26.9L-100.2 -28L-100.3 -29.9L-100.4 -30.7L-100.9 -31.8L-102.3 -32.4L-102.5 -34.4L-102.4 -35.5L-102.6 -37.9L-101.3 -40.2L-98.9 -43.3L-98 -45.3L-96.7 -45L-96.4 -46.2L-96.9 -47.2L-98.3 -47.7L-97.5 -49L-97.8 -50.7L-97.6 -51.7L-97.7 -53L-97.8 -54.3L-98.9 -54.5L-99.7 -55.2L-100.8 -55.7L-102.7 -56.1L-103.9 -56.3L-105.9 -55.5L-108 -55L-104.8 -56.7L-106.9 -56.1L-109.1 -55.1L-112.5 -53.5L-115.8 -52.2L-118.3 -51.5L-121.5 -50.9L-118.8 -51.9L-116.5 -52.4L-113.6 -53.7L-112.3 -54.5L-112.8 -54.7L-114.4 -54.5L-115.5 -54.4L-114 -55.7L-115.4 -56.1L-114.1 -57.4L-112.5 -58.2L-109.5 -58.6L-108.4 -59.5L-111.2 -59.5L-111.5 -60.4L-109.4 -60.9L-107.8 -60.8L-106.4 -61.5L-106.6 -62ZM-72.3 -8.2L-70.6 -9.8L-70 -10.3L-69.5 -10.6L-67.3 -11.7L-67 -11.1L-67.4 -10.1L-66.1 -10.9L-65.9 -11.5L-64.7 -10.2L-63.6 -10L-62 -9.5L-61.1 -10L-59.4 -10.1L-58.7 -8.9L-57.9 -8L-56.5 -6.4L-54 -5.5L-51.6 -4.6L-50.7 -4.1L-49.8 -1.7L-49.8 -0L-48.5 0.5L-48.5 1.3L-47.3 0.7L-45 2.3L-43.1 2.6L-40.2 3.5L-39 4.5L-37.5 5.2L-37.1 6.7L-37.1 7.6L-37.8 9.1L-38.8 10.3L-39.9 12.2L-40.3 13.9L-40.2 15.4L-40.2 16.8L-41 19.1L-41.4 20.7L-42.2 21.6L-43.1 21.6L-45.6 22.6L-47.2 24L-46.9 25.9L-47 26.9L-47.7 27.5L-48 29.1L-49.1 30.3L-49.8 31.7L-50.8 32.8L-51.8 32.8L-53.1 32.4L-53.7 31.9L-53.6 32.5L-52.5 33.4L-51.9 34.1L-52.1 35.7L-52.9 36.3L-55.4 36.5L-55 38.1L-57.1 38.3L-56.7 39.4L-55.5 39.9L-56.4 40.4L-56 42.2L-57.3 43L-57.1 43.7L-55.5 44.2L-55.5 44.8L-56.2 46.2L-56.7 47.1L-56.2 48.2L-55.5 48.9L-55.1 49.5L-54.1 50.4L-52.2 51L-53.2 52.1L-54.5 51.7L-56.2 51.1L-58.2 49.9L-59.9 48.6L-61.6 46.8L-62.4 45L-62.9 43.9L-62.5 42.2L-62.6 40.8L-63.3 40.4L-63.6 39.2L-63.5 39L-63.8 37.5L-64.5 34.8L-64.5 33.4L-64.3 31L-64.9 28.2L-65.2 26.8L-64.9 25.4L-65.1 22.2L-65.4 19L-65.6 17.4L-66.6 16.5L-67.8 15.7L-70 14.5L-71 13.1L-71.8 11.3L-73.2 8.6L-73.6 7.6L-74.4 6.5L-75.5 5.6L-75.7 4.4L-75 3.3L-74.6 2.4L-74.9 2.5L-75.5 2.1L-75.3 0.9L-74.8 -0.7L-74.4 -0.9L-73.7 -1.7L-72.2 -3.7L-72.5 -5.2L-72.3 -6.2L-72.8 -6.8ZM-12.4 -33.6L-11.9 -33.7L-10.2 -33.2L-8.3 -33.5L-5.4 -34.6L-3.9 -34.6L-1.7 -34.7L-0.2 -35L0.8 -34.8L0.2 -34.6L0.5 -34.2L0.6 -32.6L0.1 -31.9L0.9 -31.2L2.5 -30.9L4 -30.4L5.2 -29.3L6.4 -28.7L7.3 -28.5L7.9 -29.1L8 -30.2L9.1 -30.9L9.9 -30.8L11.1 -30.2L12 -29.7L13.6 -29.5L15.8 -29.3L16.6 -29.7L17.7 -29.4L17.9 -28.2L18.1 -27.2L19.1 -25.6L20.1 -23.5L20.7 -22.5L21.8 -20.7L22.2 -18.4L23.3 -16.9L24.2 -14.7L25.5 -13.7L26.9 -12.2L27.4 -11.8L27.4 -10.9L27.6 -10.6L28.9 -9.8L30.5 -10.5L32.3 -10.6L34.1 -11.1L34 -9.8L33.7 -8.8L32.9 -7.3L31.9 -5.2L29.3 -1.9L27 0.4L25.7 2.1L24.6 3.8L24.1 4.8L24.3 6.4L24.4 8L24.9 9.7L25.2 11.3L25.1 12.2L25.2 14.1L24.6 15.2L22.1 16.8L20.3 18.6L20.6 20.2L20.7 22.1L19 23.5L18.2 24.4L18.4 25.8L17.7 27.1L16.7 28.1L14.1 31L12.3 31.9L10.2 32L7.8 32.7L6.6 32.1L6.3 30.7L5.8 28.7L5.2 26.9L4.2 25L3.6 21.6L2.8 19.3L1.5 16.3L1.7 14.3L2.8 11.8L2.6 8.3L1.9 5.6L1.5 4.5L0 2.6L-1.1 0.7L-0.5 -0.4L-0.2 -1.8L-0.2 -3.8L-0.9 -4.2L-1.4 -4.3L-2.5 -4.1L-3.3 -4L-4.1 -5.4L-5.5 -6L-6.3 -5.9L-7.3 -5.7L-8.5 -5.2L-9.9 -4.5L-11.6 -5L-13.3 -4.6L-14.7 -4.1L-17.2 -5.9L-18.2 -7L-19.2 -8L-19.6 -8.9L-20.5 -10.1L-21.3 -11.1L-22 -11.7L-21.9 -12.6L-22.6 -13.8L-21.7 -15L-21.3 -17L-21.5 -18.2L-22 -19.5L-21.1 -21.6L-21 -22.3L-19.7 -24.4L-18.4 -26.2L-16.8 -27L-16.1 -27.6L-15.6 -28.6L-15.8 -28.8L-15.7 -29.6L-15.2 -30.3L-13.8 -31.6L-13.2 -31.9ZM17.9 -28.2L18.6 -26.8L19.4 -26L19.9 -27.7L20.2 -26.3L21.3 -24.4L22.7 -22.6L23.7 -20.2L24.9 -18.3L26.2 -16L26.6 -15.9L27 -13.9L27.3 -12.5L27.6 -11.9L28.8 -12L31.3 -13.2L32.1 -13.6L34.6 -15L36 -16L37 -16.4L37.9 -16.9L39 -17.9L39.1 -19.2L40.4 -21.1L39.4 -22.2L37.8 -22.9L37.5 -23.6L37.3 -24.7L37.1 -24.2L36.6 -23.8L35.9 -23L34.5 -22.7L33.6 -22.8L33.6 -23.5L33.3 -24.5L32.9 -24L33 -23.3L32.4 -24L32.3 -24.8L31.8 -25.4L31.1 -26L30.3 -27.5L30.7 -28.2L31.5 -28.3L32 -28.2L32.6 -27.2L33.3 -26.1L34.6 -25.1L36.1 -25L37.2 -25.6L37.8 -25.1L38.1 -24.2L38.5 -24.1L40.8 -23.8L42.2 -23.6L44 -23.7L45.6 -23.9L46.1 -23.3L46.5 -22.4L47.4 -21.8L47.9 -21L48.8 -19.7L49.7 -19.4L50.6 -20.2L50.9 -20.9L51 -19.8L51.3 -17.9L52.4 -14.5L53.4 -12.1L54.7 -9.4L55.8 -7.6L56.4 -8.4L57.3 -8.7L57.7 -9.7L57.9 -12.3L57.6 -14.6L58.4 -14.8L59.2 -16L60 -16.6L61.2 -18.1L61.8 -18.6L62.7 -19.5L62.7 -20.2L63.5 -20.3L64.6 -20.5L65.4 -20.9L66.4 -21L66.7 -20.1L67.6 -18.9L68.9 -17.1L69.1 -15L70 -14.8L70.7 -15.5L71.3 -16L71.8 -15.4L72.5 -13.2L73 -11.7L73.2 -9.4L73 -7.5L74.1 -6.6L74.8 -5.6L74.8 -5.1L75.3 -3.8L75.7 -2.8L76.5 -2.1L77.8 -1.2L78.2 -1.3L77.9 -2.3L77.4 -3.6L77.1 -5L76.4 -5.8L75.6 -6.5L75 -6.8L74.4 -8L73.8 -8.7L73.7 -9.9L74 -11.1L74.1 -12.5L74.6 -12.7L74.9 -11.9L75.8 -11.6L76.5 -11.1L77.2 -10L78 -9.8L78.4 -8.1L79 -8.5L79.9 -9.2L80.2 -9.7L81.1 -10.2L81.8 -11.2L81.9 -12.2L81.7 -13L80.6 -15.1L80 -15.6L79.1 -16.6L78.3 -17.6L78.3 -18.6L78.8 -19.5L79.7 -20.2L80.6 -20.1L81.5 -19.1L81.7 -19.9L82.7 -20.3L84 -20.9L84.6 -21L86.4 -21.9L87.4 -23L88.3 -24.4L88.8 -26.3L89.2 -28.1L88.3 -28.5L88.8 -29.3L87.6 -30.5L86.6 -32.1L85.6 -32.7L86 -33.8L87.2 -34.8L86.1 -35.3L84.4 -35L82.8 -36.6L83.9 -37.5L84.5 -38.4L85.5 -38.1L85.8 -36.5L87.5 -37.5L88.6 -36.4L88.6 -35.7L90.2 -35.2L90.5 -34.3L91.1 -32.7L91.4 -32.2L93.1 -33L93.1 -33.8L92.3 -35.2L90.2 -36.8L90.5 -37.8L90.7 -39.2L91.7 -40.4L92.6 -40.2L93.6 -41.7L94 -44L94.5 -45.9L93.2 -48.1L92.3 -49.7L90.1 -50.4L88.9 -50.4L88 -51.3L87.7 -52.6L88.8 -55.1L90.7 -55.1L93.7 -55.3L95.9 -55.2L95.5 -56.5L97.9 -57.3L98.9 -57.8L101.1 -56.4L101.2 -55.2L100.2 -54.9L100.2 -53.7L100.7 -51.8L103.1 -49.3L105 -47.6L104.7 -49.5L105.4 -50.8L104.6 -52.3L103.7 -53.7L102.3 -54.8L102.5 -55.6L106.3 -55.7L106.3 -56.5L107.1 -57.2L108.3 -57.8L109.6 -57.6L105.9 -59.6L107 -60L102.7 -63L100.9 -63.4L95.9 -63.7L94.1 -63.6L90.8 -63.6L88.1 -64.4L82.1 -64.9L78.2 -65.7L74.3 -65.1L71.7 -65.3L69.5 -65.1L66.8 -66.5L64.4 -66.6L63.1 -66.2L59.1 -66.7L56.6 -67L57.1 -68.1L52.5 -69.1L50.5 -69.6L49.1 -68.8L46.8 -68.4L43.4 -67.9L40.2 -66.6L42.3 -65.3L40.7 -65.4L38.8 -65.7L37.4 -66L36.9 -65.1L38.8 -62.7L38.5 -61.1L37.8 -62.9L36.7 -65.1L34.4 -66.2L33.9 -65.1L34.1 -63.5L35.6 -62.5L33.1 -63.3L30.2 -63.7L29.7 -62.9L27.3 -62.7L26.8 -62.5L24.4 -62.3L22.2 -62.5L20.7 -62.7L20.2 -62.8L21 -61.5L21.2 -60.9L19.9 -61L18.8 -60.5L19.3 -59.5L17.8 -59L16.5 -59.2L15.7 -59.5L15.6 -59.9L13.9 -61.6L15.5 -61.1L17.4 -60.8L19.3 -61.3L18.3 -62.1L15.6 -63.3L13.8 -63.4L12.6 -63.8L11.9 -64L10.4 -64.8L9.3 -64.8L7.7 -64.3L5.4 -63.7L3.6 -62.8L2.7 -61.7L1.6 -60.3L0.3 -58.6L-0.6 -58.4L-1.5 -58.3L-2.5 -57.8L-3.3 -56.9L-3.1 -56L-2.9 -54.8L-2 -53.9L-1.3 -54L-0.3 -54.7L0.4 -55.1L0.8 -54.8L1.3 -53.7L1.9 -52.3L2.1 -51.7L3 -51.7L3.8 -52.3L4.4 -52.8L4.5 -53.7L4.6 -54.4L5.7 -55.1L5.8 -55.8L4.8 -56.3L4.9 -57.7L6.7 -58.9L7.6 -60.4L8.8 -60.5L9.7 -59.9L8.9 -59L7.4 -58.3L7.5 -56.9L7.9 -56L8.6 -55.5L9.9 -55.7L12.2 -56.2L13.4 -55.6L12 -55.3L9.8 -55.2L8.9 -55L9.8 -54.2L9.5 -53L8.5 -53.6L7.8 -53.4L7.5 -52.6L7.6 -51.9L6.9 -51L6.1 -50.8L4.5 -50.8L3 -50.3L2.4 -50.8L1.5 -50.5L0.6 -50.4L0.1 -50.8L-0.3 -51.1L0.2 -52.3L0.4 -53.7L-1.2 -53L-1.2 -51.7L-1 -50.8L-0.8 -50.3L-1.4 -50L-2.1 -49.9L-3.7 -49.5L-4.1 -48.7L-4.6 -48.1L-5.1 -47.9L-5.9 -47.6L-7.2 -46.3L-8.4 -46.5L-8.4 -45.5L-10.7 -45.3L-10.4 -44.8L-8.9 -44.2L-8.3 -43.2L-8.2 -42.7L-8.4 -41.8L-8.7 -40.7L-10.4 -40.8L-11.8 -40.8L-13.3 -41L-13.8 -40.7L-14.5 -40.3L-14.2 -39.6L-14.2 -38.6L-15 -36.4L-14.7 -34.8L-13.9 -34.8L-12.7 -34.3L-12 -33.9L-11.2 -34.5L-9.6 -34.6L-9.4 -34.5L-8.5 -35.3L-8.1 -36L-7.5 -36.4L-7.9 -37.1L-6.9 -38.2L-5.9 -38.9L-5.1 -39.7L-4.6 -40.8L-3.5 -40.6L-3 -40.4L-2 -41L-0.8 -41.7L-0.1 -41.4L0.2 -40.8L0.4 -40.3L1.4 -39.5L1.7 -39.1L2.7 -38.7L3.2 -38.3L3.7 -38.1L4.3 -37.6L4.6 -36.6L4.3 -35.7L4.6 -35.6L5.5 -36.6L5 -37.4L5.3 -37.9L5.5 -38L6.4 -37.4L6.5 -37.7L6.1 -38.1L5.2 -38.6L4.7 -39.3L3.8 -39.4L3.2 -39.9L2.6 -40.9L1.9 -41.4L1.9 -42.2L1.7 -42.6L2.8 -42.8L2.7 -42.3L2.9 -42L3.3 -42.5L3.9 -41.4L4.8 -40.8L6.1 -40L6.9 -39.5L7.1 -38.8L7.2 -37.9L7.7 -37.3L8.2 -36.6L8.7 -36L8.6 -35.5L9 -34.6L9.7 -34.2L10.3 -34.3L9.9 -35.2L10.4 -35.1L10.6 -35.6L10.8 -35.4L10.9 -35.9L10 -36.9L9.7 -37.6L9.8 -38.1L10.6 -37.6L11 -37.8L11 -38.4L12.1 -38.3L12.4 -37.7L12.7 -37.9L13.3 -38.5L14.5 -38.5L13.8 -39.1L13.2 -39.9L13.5 -40.5L14 -41.5L14.6 -42.4L15.3 -43.6L15.8 -43.7L16.6 -43.3L17.4 -43.2L16.7 -42.5L17.5 -41.8L18.1 -41.7L18.9 -42.2L19.7 -42.6L18.3 -43.3L19.7 -43.8L20.3 -44.1L21.2 -44.2L21.6 -44.1L20.8 -43.8L20.5 -43.1L20.3 -42.5L19.8 -42.4L20.3 -42.1L20.7 -41.9L21.8 -41.4L22.3 -40.9L23.3 -40.4L24 -39.1L22.6 -38.5L21.6 -38.4L20 -38.8L19.1 -39.4L17.4 -39.4L16.5 -39L15.2 -38.6L14.5 -38.7L15.2 -38.2L13.7 -37.9L12.5 -37.7L12.3 -37.1L13 -37.1L12.9 -36.4L13.2 -36.1L12.6 -36L13.4 -35.6L13.5 -34.8L14.2 -34.6L14.8 -34.4L15.6 -34L16.1 -34.7L17.1 -34.3L17.8 -33.8L18.7 -34.1L19.1 -34.6L20.4 -34.4L20.2 -33.7L20.1 -33.4L20.2 -32.3L20 -31.9L19.7 -30.8L19.6 -30.2L19.3 -29.5L18.9 -29.2L17.7 -29.4ZM109.4 10.1L110 11.7L110 13.5L111.1 14.6L111.3 15.9L111.6 18.1L112.7 18.8L113.2 19.8L114.2 21.4L114 22.1L114.3 22.5L115 23.3L115.6 23.5L114.8 25.7L114.9 26.9L113.9 28.5L113.3 29.5L111.8 30.9L111 31.9L109.3 33.6L108.3 35.2L106.6 35.6L104.8 36.7L104.1 35.7L102.6 36.5L101.4 36.1L100.6 35.2L100.9 33.8L100.6 33.4L100.6 32.8L100.4 32.1L99.3 33.1L100.1 31.9L100.9 30.5L100.5 31L98.6 32.7L98.2 31.9L97.9 31L97.8 30.2L96.1 29.6L94.2 29.8L91.7 30.3L89.9 31L87.9 31.9L86.4 31.9L84.4 32.9L82.4 32.3L82.6 31.5L83.1 31.3L83.6 30.1L83.5 28.7L83.6 27.1L83.5 26L83.1 24.5L83.8 23.4L83.7 22.6L84.7 20.5L85.4 20.3L87 19.4L88.5 19.1L89.7 18.7L91 17.9L91.8 16.9L92.6 15.4L93 16.3L93.1 15.5L93.9 15L94.5 14.1L95.4 13.2L96.2 12.9L97 13.9L97.8 14L98.4 13.2L99 12.2L99.5 11.7L100.6 11.5L101.1 10.6L101.8 11.1L103 11.5L103.9 11.3L104.5 11.5L104.1 12.7L103.6 13.2L103.1 14.1L103.8 14.9L104.8 15.4L105.7 16L107.1 16.4L107.8 15L108.2 13.6L108.5 11.8L108.9 10.3ZM102.6 38.2L103.8 38.6L105.3 38.4L104.6 39.4L103.7 40.5L102.6 40.9L102 40.8L102.2 39.6L102.3 38.8ZM127.6 32.3L127.9 32.9L128.4 33.2L128 34.6L128.6 34.3L128.5 35.3L130.2 35.4L129.3 36.4L128 37.1L125.3 39.1L125.2 38.8L126.3 37.5L125.7 36.9L126.1 36.6L127.1 35.7L127.7 34.6L127.6 33.1ZM124.1 38L124 38.8L125 38.5L124.5 39.1L123.6 39.8L122.1 41.1L120.4 41.7L118.9 43L117.4 43.7L116.6 43.7L116.3 43.3L115.8 42.9L117.6 41.8L119 41.2L121.7 39.8L122.5 39.1L123.4 38.3ZM100.4 0.8L101.7 0.4L102.9 0.8L103.3 2.3L104.1 3.1L105.4 1.9L108.4 2.3L110.8 3.3L112.5 4.9L113.4 6.3L114.1 6.3L114.3 7.5L115.2 8.6L116.4 9.7L115.6 10L113.4 8.9L111.7 7.3L110.4 7.8L109.9 8.6L108.3 8.6L107.8 8L106.3 7.9L105.9 6.9L106.6 6.4L106.1 5.2L104.4 4.3L103.2 3.8L102 3.9L101.4 2.7L102.4 2.3L101.2 2L100.4 1.4ZM82.1 -1.4L82.3 -0L83 1.4L83.1 2.7L84.3 3.2L85.4 3.1L86.6 3.3L87.9 3.8L88.3 2.6L88.6 1.2L89.2 0.5L89.6 -0.8L90.4 -0.9L89.4 -2.1L89.2 -3.2L89.9 -4.1L90.5 -4.8L89.5 -5.5L88.8 -6.5L88.4 -6.6L87.8 -5.6L86.9 -4.7L86.2 -4.1L85.4 -3L84.1 -2.4L83.2 -1.6L82.6 -1.9ZM70.7 -5.3L72.5 -4.9L73.5 -3.6L75.1 -2.1L75.9 -1.6L77.2 -0.6L77.8 0.9L78.4 1.9L79.6 2.8L79.5 4.2L79.4 5.4L79 5.2L78.1 5.2L76.5 3.6L75 0.9L73.7 -1.6L72.6 -2.6L71.4 -3.9ZM78.8 6.4L79.5 5.5L80.2 5.7L81.6 6.3L83.1 6.5L83.6 6L85 6.8L86.4 7.3L86.4 8.2L85.2 7.8L83.5 7.7L81.9 7.2L80.7 7.2L79.8 6.9ZM90.7 4.8L90.8 3.3L90.2 2.6L90.7 1.1L91.1 0.8L91.3 -0.7L91.9 -1L93.3 -0.9L94.2 -0.8L95.2 -1.4L95.6 -1.3L94.9 -0.4L93.8 -0.5L92.1 -0.4L91.5 -0.2L91.4 0.8L91.9 1.3L92.6 0.8L93.6 0.8L94.1 0.8L93.2 1.7L92.6 1.9L93.1 3L93.4 3.8L93.6 4.2L92.8 4.6L92.5 4.5L92.5 3.8L92.1 2.5L91.4 2.8L91.5 3.8L91.5 5.2L91 5.3ZM90.4 -17.4L91.2 -17.3L91.8 -17.4L91.9 -16L91.6 -15L91.9 -13.9L92.7 -13.4L93.7 -13L93.7 -12.3L94 -11.8L93.3 -12.2L92.7 -12.4L91.9 -13.1L91.3 -12.9L91 -13.3L91.2 -13.7L90.8 -13.6L90.3 -14.4L90.4 -15.1L90.3 -16L90.3 -16.5ZM92.8 -6.5L92.9 -7.3L93.7 -8.1L94.1 -7.6L94.5 -7.7L94.9 -8L95.5 -8.5L95.4 -9.2L96.1 -8.5L96.4 -7L96.3 -6.5L96.2 -5.9L95.7 -6.6L95.6 -6L95.6 -5.3L95.4 -5.7L94.6 -5.8L94.5 -6.8L93.9 -7.2L93.3 -7ZM94.2 -11.7L95 -11.7L95.5 -10.5L95.2 -9.6L94.8 -9.6L94.4 -10.6ZM92.4 -11.1L93.3 -10.8L93.7 -10.1L93.6 -8.7L93.1 -8.8L92.8 -9.8L92.4 -10ZM88.7 -7.9L89.7 -8.7L90.4 -9.9L90.5 -10.6L90.2 -10L89.4 -9.2L88.7 -8.3ZM94.9 -31.9L95.6 -32.8L96 -33.4L97 -33.4L97.8 -33.4L98.3 -33.5L98.3 -34.4L98.5 -35.2L98.7 -34.6L99.6 -35.6L99.8 -36.4L99.6 -37.3L99.1 -38.1L99 -38.7L99.7 -38.9L100.3 -38L101.2 -37.2L101 -36L101.6 -34.8L102.1 -33.5L101.7 -32.9L101.3 -33.4L101 -32.5L100.5 -32.5L99.4 -32.7L99.5 -32.2L99 -31.5L98.2 -32.1L98.3 -32.5L97.2 -32.5L96.1 -32.2L95.4 -31.9ZM95 -31.9L95.7 -31.6L95.9 -31.2L96.2 -30.8L96.1 -30L96 -29.4L95.8 -29.1L95.3 -29.4L95 -30.3L94.5 -30.7L94.2 -31.3L94.7 -31.6ZM96.3 -31.9L97.3 -32.2L98 -31.8L97.8 -31.3L97.2 -31.5L97.1 -30.7L96.4 -31.3ZM98.7 -38.9L99 -39.2L98.9 -39.7L99.2 -40L100.8 -39.4L101.1 -40.4L101.9 -40.7L101 -41.6L100.5 -41.3L97.8 -42.7L98.2 -41.7L98.5 -41.2L98.7 -40.5L97.9 -40.6L98 -39.9ZM92 -50.7L92.4 -50.8L93.8 -49.5L94.9 -48.1L96.5 -46.8L97.9 -45.6L96.3 -46.1L97.2 -44.5L98.6 -43.3L97.8 -43.7L97.6 -43.1L96.6 -44.5L95.8 -45.9L94.2 -47.7L93.1 -49ZM90 -23.8L90.5 -23.5L90.3 -22.1L90.1 -20.7L89.4 -21.4L89.2 -22.2L89.6 -23.6ZM80.6 -18L81.3 -17.1L82.1 -17.7L82.4 -18.5L81.9 -18.9L81 -18.7ZM57.8 -9.1L58.5 -8.7L59 -8L59.5 -6.9L59.4 -6L58.5 -5.5L58 -5.8L57.8 -6.5L57.7 -7.7ZM32.4 11.3L33.2 13.2L33.3 14.5L32.5 15.5L32.2 17.1L31.6 19.3L30.8 21.1L30.1 23L29.9 23.6L28.4 24.1L27.5 23.5L27.3 22L27 20.7L27.9 19.1L27.9 17.9L28.2 16.4L28.2 15.2L29.8 14.8L30.8 13.9L31.5 12.6L32.1 11.7ZM-11.3 -46.9L-10.9 -46.8L-10.1 -47.1L-9.8 -47L-8.9 -47.2L-8.1 -47.3L-7.2 -47.5L-6.1 -47.8L-6.1 -48.1L-6.6 -48.1L-6.4 -48.4L-5.8 -49L-6.1 -49.4L-6.8 -49.4L-6.9 -49.9L-7 -50.5L-7.4 -50.8L-7.9 -51.3L-8.3 -52L-8.9 -52.2L-8.6 -52.4L-8.2 -53.1L-8 -53.5L-8.1 -53.7L-9.6 -53.5L-8.8 -54.3L-8.7 -54.4L-10.1 -54.4L-10.3 -54.1L-10.7 -53.5L-10.7 -52.9L-10.6 -52.5L-10.9 -51.6L-10.3 -51.9L-10.2 -52.1L-10.1 -51.7L-10.5 -51.2L-10.4 -50.9L-9.4 -51.2L-9.5 -50.8L-9 -50.5L-9.1 -49.9L-9.3 -49.8L-10.3 -49.8L-10.4 -49.3L-10 -49L-10.4 -48.7L-10.9 -48.5L-10.7 -48.3L-10 -48.2L-9.4 -48.1L-9 -48.2L-9.3 -47.9L-10.1 -47.9L-10.4 -47.7ZM-12 -51.6L-11.2 -51.5L-10.9 -50.9L-10.8 -50.7L-11.4 -50.4L-11.3 -49.8L-11.5 -48.8L-12.1 -48.7L-13 -48.4L-14.1 -48.1L-14.5 -48.7L-13.8 -49.1L-14.1 -49.1L-13.4 -49.7L-14.2 -49.9L-14 -50.4L-13.9 -50.7L-12.9 -50.7L-12.7 -50.9L-12.7 -51.5ZM-21.6 -60.3L-20.2 -61L-19.6 -60.3L-19 -60.4L-17.6 -60.9L-16.3 -61.1L-15.3 -60.9L-14.8 -60L-15.2 -59.5L-16 -59.2L-17.2 -58.9L-18.6 -58.5L-19.5 -58.6L-20.9 -58.9L-20.3 -59.2L-21.5 -59.8L-20.2 -60ZM-35.8 -55.5L-36.9 -56.3L-38.2 -56.9L-38.8 -57.4L-39.2 -59.2L-39.6 -60.2L-39.3 -61.5L-38.4 -62.9L-36.7 -63.3L-38.5 -63.9L-38.2 -64.5L-38.1 -66L-38 -67.7L-39.1 -68.4L-41.7 -68.5L-43 -68.8L-43.8 -69.4L-43.9 -70L-40.9 -70.5L-38.7 -71.2L-38.7 -71.6L-35.6 -72.2L-32.3 -72.5L-27.6 -72.7L-20.9 -73.2L-18.1 -73L-15.8 -72.7L-11.1 -72L-13.3 -71.5L-14.6 -70.8L-15.5 -69.8L-16 -69L-16.6 -68.1L-17.5 -67.1L-18.4 -66L-19 -64.3L-20.4 -63.5L-22.4 -62.7L-25 -62.4L-27.3 -61.1L-29.8 -60.4L-31.5 -59.9L-32.7 -58.6L-34.3 -56.9ZM-44.3 -61.3L-43.9 -62.3L-46.2 -63.5L-46.5 -64.3L-47.9 -65.2L-50.7 -66L-51.2 -66.7L-53.9 -66.8L-56.9 -66.3L-58.1 -65.4L-56.5 -64.7L-56.4 -63.9L-55 -63.8L-52.9 -63.8L-51.9 -63.1L-50.6 -62.3L-52.1 -61.1L-52.5 -60.1L-55.7 -59.6L-55 -59.2L-52.7 -59.3L-51.6 -58L-49.4 -57.4L-50.2 -58.8L-48.3 -58.1L-47.5 -59L-48.4 -60.5L-46.7 -59.9L-44.9 -60.7ZM-75.2 -65.1L-71.4 -66.4L-67.5 -66.3L-66.1 -66.1L-64.9 -65.1L-67 -63.8L-69.6 -62.9L-72.7 -62.8L-75.4 -62.5L-76.2 -63.5ZM-78.6 -65.6L-75.6 -67.2L-72.2 -67.2L-72.1 -66.3L-75.6 -65.2L-78.2 -64.8ZM-54.2 -69.1L-51.8 -70.1L-51.2 -71.5L-48.8 -72L-43.2 -72.9L-37.3 -72.9L-35.7 -72.5L-38.1 -71.7L-41.3 -71.2L-44.6 -70.5L-46.2 -69.4L-49.1 -68.8L-52.4 -68.8ZM-49.9 -68.1L-53.9 -67.4L-57.1 -67.6L-55.7 -68.8L-52 -68.6L-49.5 -68.4ZM-64.5 -67.7L-68.7 -67.3L-70.7 -67.9L-68.3 -68.7L-64.7 -68.9L-63.5 -68.4ZM-62.8 -64.9L-64.8 -65.4L-63.8 -66.6L-61.2 -67L-61.1 -66.2ZM-57.8 -66L-61.2 -65.6L-59.7 -67L-57.2 -67ZM-50.9 -70L-53.9 -70.1L-54.1 -71.2L-51 -71.9L-49.6 -71.5ZM-59.8 -67.7L-62.4 -67.9L-61.1 -68.8L-58.8 -68.9ZM-57.9 -58.6L-60.6 -58L-61.9 -58.9L-60.2 -60.3L-58.4 -60.6L-57.7 -59.5ZM-50.7 -44.6L-49.8 -45.4L-49.4 -46.3L-48 -47.5L-46.6 -48.2L-47.5 -47L-46.3 -46.3L-46.2 -45.4L-45.8 -45.6L-45.9 -44.5L-46.5 -43.7L-47.1 -43.9L-47 -44.5L-48.1 -44L-48.3 -44.6ZM-97.1 -45.3L-98.2 -45.7L-99.1 -47.4L-98.2 -47.6L-97.4 -46.8L-96.9 -46.1ZM-77.1 -20.6L-75.4 -21.6L-74.9 -21.7L-74.2 -21.7L-73 -21.5L-71.4 -21L-70.7 -20.3L-69.8 -19.5L-68.6 -19L-69.5 -18.7L-69.9 -18.8L-71.5 -18.6L-71 -19.4L-72.1 -19.4L-71.8 -20.2L-73.1 -20.4L-73.5 -20.7L-74.5 -20.9L-74.9 -21.3L-75.9 -20.9ZM-69.1 -17.3L-67.3 -17.5L-68 -18.6L-66.9 -18.7L-65.8 -18.6L-65.2 -18.5L-64.6 -18.1L-64.1 -17.5L-64.3 -17.1L-65.3 -17.4L-66.3 -17.1L-66.6 -16.5L-66.9 -16.9L-67.4 -17.1L-68.5 -16.9ZM-72.2 -17.3L-71.1 -17.4L-70.5 -16.9L-71.3 -16.7L-72.2 -17ZM-63.1 -17.4L-61.8 -17.3L-62 -16.9L-63.1 -16.9ZM0.5 -70.8L3.1 -71.2L5.1 -71.3L8.7 -71.3L7.3 -70.6L5.8 -70.1L4.6 -69.4L3.7 -68.8L2.1 -69.4L0.8 -70.3ZM24.3 -65.1L24.8 -65.8L25.9 -66.6L25.7 -67.7L27.9 -68.6L31.7 -69.1L32 -69L30.8 -68.4L27.9 -67.7L27.4 -66.6L27.3 -65.6L28.1 -64.4L26.6 -64.4L25.3 -64.8ZM44.6 -70.5L47.4 -69.8L49.7 -70.1L49.4 -70.8L45.7 -71.7L44 -71.5ZM71 -67.7L74.9 -66.8L77.1 -67.7L77.6 -68.1L74.3 -68.4L71 -68.4ZM98.6 -65.1L99.7 -64.9L100.2 -64.6L99.5 -64.6ZM107 -60L107.8 -60.4L110.6 -59.7L112.4 -59.3L111.8 -60L112.3 -60.8L109.1 -61.6L105.2 -62.5L102.7 -63ZM-111.1 -53.8L-109.6 -53.8L-110.5 -53.2L-112.1 -53ZM1.9 -35.7L2.7 -35.9L4.3 -35.9L4 -34.5L2.3 -35.1ZM-1.3 -38.4L-0.5 -38.7L-0.2 -37.6L-0.4 -36.8L-1.2 -36.6L-1.2 -37.6ZM-1 -39.9L-0.5 -40.4L-0.4 -39.3L-0.6 -38.9L-1 -39.2ZM10.6 -33.4L11.7 -33.3L12.7 -33.1L12.6 -32.9L11.3 -32.9L10.6 -33.2ZM17.4 -32.9L18 -33.2L19.1 -33.4L18.8 -32.9L18 -32.5ZM93.7 9.7L95.1 8.5L96.8 7.9L96.9 8.2L95.4 9L94.2 9.7ZM87.7 7.9L88.5 7.8L90.1 7.9L91.8 7.9L93.5 7.8L93.3 8.3L90.9 8.4L88.5 8.5L87.6 8.4ZM97.5 -1.7L97.9 -2.1L98.5 -0.9L98.1 -0.3L97.9 0.8L97.6 -0.5ZM97.9 2.8L99.1 2.6L100.2 3.1L99.1 3.3L97.8 3.2ZM114.6 5.2L116 4.8L117.3 3.9L118 4L117.5 5.2L115.9 5.8L114.6 5.5ZM136.9 16.4L137.9 16.3L137.9 17L136.9 17.1ZM125.5 19L126.5 19.7L127.4 21L127 21L125.7 19.7ZM-135.3 -19L-134.5 -18.7L-134.5 -18.3L-135.2 -17.9L-135.4 -18.4ZM-50.6 48L-49.6 48L-48.2 48.2L-48.7 48.8L-49.9 48.8ZM-55.5 49.2L-55 49.7L-54.2 50.5L-52.2 51L-52.9 51.5L-54.2 51.6L-55.3 51.5L-57.1 50.8L-56.4 50.1L-56.4 49.4ZM42.8 45.9L43.8 46L43.5 46.5L42.6 46.4ZM-95.5 70L-95.5 70L-90.6 69.8L-91 69.1L-88 68.4L-83.8 67.7L-79 67.2L-73.6 67L-67.5 67.3L-63.1 66.2L-57.4 66.2L-51.3 66.6L-48.8 66.2L-47.7 63.9L-49.5 63.1L-47.9 61.9L-47.3 59.9L-45.9 59L-43.3 58.4L-43.7 59.5L-44.3 60.7L-43.9 62.3L-42.9 63.9L-41.3 65.4L-40.2 67L-39.1 67.7L-35.2 69.1L-32.1 69.7L-27.7 69.8L-25.6 69.8L-24.2 69.4L-20.9 68.4L-18 67.3L-15.5 66.2L-12.9 65.1L-10.7 64.3L-6 63.9L-3 63.9L0 63.9L3 63.8L6 63.9L8.9 64.1L12 63.5L13.9 62.9L16.7 63.8L18.1 63.1L21.4 62.1L24.8 61.1L28.1 60.7L29.6 61.5L31.9 61.9L35.5 62.1L36.4 62.7L37.2 63.5L39 63.5L41.3 62.5L44.4 61.5L48.2 61.3L50.9 61.1L52.7 61.1L56.3 60.5L59.1 60.9L62.4 60.7L65.1 61.1L68 61.3L71.5 60.9L74.7 60.9L78 60.7L80.5 61.3L83.3 61.5L84.9 62.7L87.5 63.1L89.5 63.9L91.5 64.5L94 64.9L91.2 66.2L87.2 67.7L83.9 69.1L83.7 69.7L86 69.4L87.9 69.8L90.6 69.8L90.6 69.8L95.5 70L79.5 75.8L-79.5 75.8Z"/><clipPath id="ipl"><use href="#ipland"/></clipPath><pattern id="stA" width="4.9" height="4.9" patternUnits="userSpaceOnUse"><circle cx="1.2" cy="1.2" r="0.9" fill="#8a663a" fill-opacity="0.55"/><circle cx="3.65" cy="3.65" r="0.9" fill="#8a663a" fill-opacity="0.55"/></pattern><pattern id="stB" width="4.9" height="4.9" patternUnits="userSpaceOnUse"><circle cx="1.2" cy="1.2" r="0.9" fill="#6f4034" fill-opacity="0.5"/><circle cx="3.65" cy="3.65" r="0.9" fill="#6f4034" fill-opacity="0.5"/></pattern><filter id="bi" x="-5%" y="-5%" width="110%" height="110%"><feGaussianBlur stdDeviation="0.7"/></filter><path id="tree" d="M0,0 L1.0,3.4 L2.3,6.6 L1.9,7.3 L4.6,9.9 L3.3,10.6 L7.3,12.2 L5.0,13.9 L7.5,15.8 L6.6,17.2 L7.6,19.2 L7.0,21.4 L5.2,23.0 L2.6,22.6 L0.8,23.5 L0.8,26.4 L-0.8,26.4 L-0.8,23.5 L-2.6,22.6 L-5.2,23.0 L-7.0,21.4 L-7.6,19.2 L-6.6,17.2 L-7.5,15.8 L-5.0,13.9 L-7.3,12.2 L-3.3,10.6 L-4.6,9.9 L-1.9,7.3 L-2.3,6.6 L-1.0,3.4 L0,0Z" fill="#050505"/>
</defs>
<rect x="0" y="3" width="1374" height="1068" fill="#000"/>
<rect x="5" y="8" width="668" height="1058" fill="#fff"/>
<rect x="678" y="8" width="691" height="1058" fill="#fff"/>
<g clip-path="url(#m1box)">
<path d="M100.5 88.3L109.5 85.6L117.7 84.1L124.8 85.4L131.1 86.4L137.2 86.9L139.7 86.6L146.7 85.2L149.3 86.7L154.5 87L157 89L162.6 88.9L163.5 90.5L166 88.9L173.6 89L177.9 88.4L183.8 83.3L184.2 85.8L185.4 88L187 89.7L192.2 86.1L195.4 87L194.1 89.5L187.9 90.9L184.8 93.8L179.3 95.6L173.2 99.1L170.8 102.5L171.4 105.3L176.3 106.9L182.2 108.3L180.5 111.7L181.6 114.6L183.8 114L185.6 110.4L185.1 109.1L188 108L190.5 106.1L190.1 103L192.2 100.6L194 96.9L196 97.3L199.8 98.2L201.7 99.1L200.9 102.2L201.8 103.3L205 102.5L207.9 100L208.9 106.1L210.2 108.2L212.8 110.1L214.2 113L210.1 114.5L207.6 116.2L199.3 116.2L195.9 118.2L191.4 121.6L196.3 119L201.3 118.4L199.9 120.2L199.7 121.5L200.4 122.8L203.5 123.6L205.7 121.6L205.6 123.5L200.3 125.4L197 127.3L196.4 126.4L199.3 124.3L197.2 124.4L195.7 125.3L192.6 126.4L190.8 127.1L189.1 129.3L190.2 130.1L188.4 130.6L184.1 132.1L182.1 135L179.7 138.1L179.6 141.2L175.8 143.2L172.4 145.4L170.6 146.6L169.3 149.4L170.1 152.6L169.9 157L168.4 158.2L167.5 156.5L166.7 153.6L166.6 151.4L165.5 149.8L163 149.8L161 149.3L159.8 149.4L157.7 151.4L155.8 151.3L153.8 150.6L151.2 150.4L149.6 151.1L145.6 153.6L144.9 156.8L143.1 162.9L144.8 168.1L147.1 169.8L150.8 169.1L153.3 167L153.7 165.1L154.9 164.6L158.8 164.1L159 164.9L157.6 167.6L156.7 169.3L156.2 171L155.3 173.7L156.9 173.9L159.2 173.7L162.1 173.7L163.2 175.2L162.5 178.6L161.9 182L162.9 183.6L164 185.3L165.8 185.7L167.5 184.7L169.6 184.7L171.2 185.8L170.3 188.4L169.9 186.5L168 185.5L166.6 188.2L164.6 187.7L162.9 186.7L161.8 186.2L160.3 184.3L158.7 183.5L158.9 181.8L156.8 178.9L156.2 178.2L153.9 177.9L150.7 176.9L149.6 175.9L147.3 173.4L145.5 173.2L143.5 174L138.7 172.2L135.8 170.3L132.7 168.3L130.9 166.1L131.6 165.6L130.6 161.4L128.8 158.4L127 157.3L125.7 153.5L124.3 151.6L124 148.2L122 146.9L121.4 149.1L122.8 152L123.8 155L125.2 159.7L125.4 161.9L122.7 158.9L122.9 156.7L120.9 154.7L119.7 153.6L121.2 152.3L119.6 150.3L119.2 146.9L119 145.4L117.9 143.5L115.4 142.3L114.8 138.8L114.9 136.8L114.2 132.4L116.2 128.4L120.1 122.8L121.3 119.2L123.9 119.8L124.2 117.7L123.1 115.7L120.5 114.9L121.6 112.5L120.9 109.6L120.9 107.7L120.5 105.3L120 103.2L118 102.7L116.4 101.4L114.4 100.6L110.8 99.9L108.5 99.4L105.1 101L101.4 101.9L106.8 98.8L103.3 99.9L99.5 101.7L93.5 104.6L88 106.9L83.5 108.2L77.7 109.1L82.5 107.4L86.6 106.4L91.6 104.1L93.7 102.7L92.8 102.4L90 102.7L88 102.8L90.4 100.6L87.7 99.9L89.9 97.6L92.6 96.1L97.9 95.3L99.7 93.8L94.6 93.8L93.8 92.2L97.4 91.2L100.4 91.5L102.7 90.2L102.2 89.3ZM171.2 185.8L174.1 183L175.3 182L176.2 181.5L180 179.6L180.6 180.6L180 182.3L182.2 180.9L182.6 179.9L184.8 182.1L186.9 182.6L189.8 183.5L191.4 182.6L194.4 182.5L195.8 184.5L197.2 186.2L199.9 189L204.3 190.6L208.6 192.2L210.3 193.1L212 197.5L212 200.5L214.3 201.3L214.3 202.9L216.5 201.7L220.6 204.7L224.1 205.2L229.4 206.7L231.6 208.6L234.4 209.8L235 212.5L234.9 214.2L233.7 216.9L231.8 219L229.7 222.4L229 225.4L229.2 228.1L229 230.7L227.5 234.7L226.7 237.6L225.3 239.3L223.5 239.3L219.1 241L216 243.5L216.4 247L216.1 248.7L214.9 249.9L214.1 252.8L212.1 254.8L210.6 257.3L208.7 259.3L206.9 259.3L204.5 258.7L203.5 257.8L203.7 258.8L205.7 260.3L206.6 261.7L206 264.5L204.6 265.5L200.1 266L200.4 268.9L196.6 269.2L197.2 271.2L199.3 272.1L197.6 272.9L198.1 276.2L195.6 277.7L195.9 278.9L198.6 279.8L198.7 280.8L197.2 283.3L196.1 284.9L196.7 287L197.9 288.2L198.5 289.3L200.1 290.9L203.4 292L201.5 293.9L199.1 293.3L196.2 292.2L192.8 290.1L189.9 287.7L187.2 284.5L186.1 281.2L185.2 279.2L186.3 276.2L186.3 273.7L185.1 272.9L184.7 270.9L185 270.4L184.6 267.7L183.6 262.9L183.9 260.3L184.4 256.1L183.7 251.1L183.1 248.5L183.8 246L183.6 240.3L183.3 234.5L182.9 231.7L181.2 230.2L179.1 228.6L175.2 226.5L173.3 223.9L171.9 220.7L169.4 215.8L168.7 214.2L167.3 212.1L165.4 210.6L165 208.4L166.2 206.4L167.1 204.9L166.5 205.1L165.4 204.2L165.8 202.2L166.7 199.3L167.3 198.8L168.7 197.5L171.3 193.9L170.8 191.2L171.2 189.4L170.3 188.4ZM278.3 140.2L279.2 140L282.4 141L285.8 140.3L290.8 138.5L293.6 138.5L297.6 138.3L300.3 137.6L302.1 138.1L301.1 138.5L301.6 139.2L302 142L301.1 143.4L302.6 144.5L305.6 145L308.4 145.9L310.7 147.9L312.8 149.1L314.6 149.4L315.6 148.2L315.6 146.4L317.7 145L319.1 145.2L321.2 146.4L323 147.2L325.9 147.6L329.9 147.9L331.4 147.2L333.3 147.7L333.8 149.9L334.3 151.6L336.2 154.7L338.1 158.4L339.3 160.2L341.4 163.4L342.2 167.5L344.2 170.2L346 174.2L348.3 175.9L351 178.6L351.9 179.3L351.9 180.9L352.2 181.5L354.6 183L357.6 181.6L360.9 181.5L363.9 180.6L363.9 183L363.4 184.7L362 187.4L360.2 191.2L355.4 197.1L351.3 201.2L349 204.2L347 207.2L346.1 209.1L346.3 212L346.5 214.8L347.5 217.9L347.9 220.7L347.7 222.4L347.8 225.8L346.7 227.8L342 230.7L338.7 233.9L339.1 236.7L339.2 240.1L336.1 242.6L334.6 244.3L334.8 246.9L333.4 249L331.7 250.9L326.6 256.1L323.2 257.8L319.5 258L315.1 259.2L312.9 258.1L312.5 255.6L311.8 251.9L310.8 248.7L309.1 245.3L308.4 239.3L306.9 235.1L304.7 229.7L305.2 226.1L307.2 221.7L307 215.3L305.7 210.6L305 208.6L302.3 205.2L300.4 201.7L301.4 199.8L301.9 197.3L301.9 193.8L300.7 192.9L299.8 192.7L297.8 193.1L296.3 193.3L294.8 190.9L292.4 189.7L290.9 189.9L289.1 190.2L287 191.2L284.3 192.4L281.3 191.6L278.3 192.2L275.7 193.1L271 189.9L269.2 188L267.4 186.2L266.7 184.5L265.1 182.3L263.6 180.6L262.3 179.6L262.4 177.9L261.1 175.7L262.6 173.5L263.4 170L263 167.8L262 165.4L263.5 161.7L263.7 160.6L265.8 156.7L268.2 153.5L270.9 152.1L272.1 150.9L273 149.3L272.6 148.9L272.7 147.4L273.6 146.1L275.9 143.9L277 143.2ZM333.8 149.9L335.1 152.5L336.7 153.8L337.5 150.8L338.1 153.3L340.3 156.7L342.8 160L344.7 164.3L347 167.6L349.6 171.8L350.3 172L351.1 175.6L351.7 178.1L352.2 179.1L354.4 178.9L358.8 176.9L360.4 176.1L364.8 173.5L367.4 171.8L369.1 171L370.7 170.2L372.7 168.5L372.8 166.1L375.1 162.6L373.1 160.7L370.2 159.4L369.6 158.2L369.2 156.2L368.8 157L367.9 157.9L366.8 159.2L364.2 159.7L362.7 159.5L362.6 158.4L361.9 156.5L361.3 157.5L361.5 158.7L360.4 157.5L360.1 156L359.2 155L357.9 153.8L356.4 151.1L357 149.9L358.4 149.8L359.4 149.9L360.5 151.8L361.8 153.6L364.2 155.5L367 155.7L368.9 154.7L370.1 155.5L370.7 157L371.5 157.3L375.7 157.9L378.2 158.2L381.4 158L384.3 157.7L385.2 158.7L386.1 160.4L387.7 161.4L388.7 162.9L390.4 165.1L391.9 165.6L393.7 164.3L394.1 163.1L394.4 164.9L394.9 168.5L397.1 174.5L399 178.8L401.4 183.6L403.5 186.8L404.5 185.5L406.1 184.8L406.9 183.1L407.1 178.4L406.5 174.4L408 173.9L409.4 171.8L410.8 170.7L412.9 168L414 167.1L415.5 165.4L415.5 164.3L417 164.1L419 163.8L420.3 163.1L422.2 162.9L422.8 164.4L424.5 166.6L427 169.8L427.4 173.5L429 173.9L430.4 172.7L431.3 171.8L432.3 172.9L433.6 176.9L434.6 179.6L435 183.6L434.8 187L436.7 188.7L438 190.4L438 191.4L438.9 193.8L439.7 195.4L441.1 196.8L443.5 198.3L444.3 198.1L443.6 196.3L442.8 194.1L442.2 191.6L440.8 190L439.4 188.9L438.3 188.4L437.3 186.2L436.1 184.8L435.8 182.8L436.5 180.6L436.5 178.1L437.4 177.7L438 179.1L439.7 179.8L441 180.6L442.2 182.6L443.8 183L444.4 186L445.5 185.3L447.2 184L447.7 183.1L449.4 182.1L450.5 180.4L450.6 178.6L450.3 177.2L448.3 173.4L447.1 172.5L445.5 170.7L443.9 169L443.9 167.1L444.8 165.4L446.3 164.3L448 164.4L449.7 166.3L450.1 164.8L451.9 164.1L454.2 163.1L455.2 162.9L458.5 161.2L460.2 159.2L461.7 156.7L462.6 153.3L463.1 150.1L461.4 149.4L462.2 147.9L460.1 145.7L458 142.9L456.1 141.8L456.8 139.8L458.9 138.1L456.9 137.1L453.7 137.6L450.7 134.8L452.5 133.3L453.5 131.6L455.4 132.1L456.1 135L459 133.3L461.3 135.3L461.3 136.5L464.2 137.3L464.8 139L466.1 141.8L466.7 142.7L469.8 141.3L469.6 139.8L468 137.3L464.1 134.4L464.4 132.6L464.7 130.1L466.3 127.9L468 128.4L469.6 125.6L469.9 121.5L470.5 118.2L467.7 114.1L465.8 111.4L461.7 110.1L459.6 110.1L457.8 108.5L456.9 106.1L458.3 101.6L461.9 101.7L467.2 101.3L471.2 101.4L470.2 99.1L474.4 97.8L476.2 96.9L480.3 99.3L480.9 101.4L479.1 102.1L479.4 104.1L480.6 107.5L485.5 112L489.2 115.1L488.3 111.7L489.4 109.3L487.6 106.6L485.6 104.1L483 102.2L483.1 100.8L489.9 100.6L489.9 99.1L491.1 97.9L493.2 96.9L495.6 97.2L488.4 93.5L490.2 92.8L481.6 87.4L478.3 86.7L469.2 86.3L465.9 86.4L459.9 86.4L454.8 84.9L443.8 84.1L436.4 82.7L429.6 83.8L424.8 83.4L420.9 83.7L415.5 81.2L411.2 81.1L408.9 81.8L401.5 80.8L396.9 80.4L397.4 78.4L388.7 76.5L384.9 75.7L382.7 77.2L378.5 77.8L372.6 78.7L367.2 81.1L371.4 83.4L368.5 83.1L365 82.7L362.3 82L361.7 83.8L365.9 88L365.6 90.9L363.9 87.6L361.4 83.8L356.9 81.8L356.4 83.8L357.1 86.6L360 88.3L355.4 87L350 86.3L349.2 87.7L345 88L344.1 88.4L339.8 88.7L335.8 88.4L333.1 88L332 87.9L333.8 90.2L334.3 91.3L331.9 91L330 91.9L331.3 93.7L328.7 94.6L326.3 94.3L324.8 93.8L324.4 93.1L320.9 90L324 90.9L327.6 91.5L330.8 90.5L328.9 89L323.7 87L320.4 86.9L318 86.1L316.7 85.7L313.8 84.3L311.7 84.3L309 85.2L305 86.3L302 87.9L300.6 89.7L298.9 92.3L297 95.3L295.4 95.8L293.9 95.9L292.2 96.9L291 98.4L291.5 100L292 102.2L293.9 103.8L295.1 103.6L296.8 102.4L298 101.6L298.8 102.2L300 104.2L301.3 106.6L301.8 107.7L303.4 107.7L304.9 106.8L305.7 105.8L305.8 104.1L305.7 102.8L307.6 101.7L307.7 100.3L305.8 99.6L305.5 97L308.6 94.9L309.9 92.2L312 91.9L313.8 93.1L312.6 94.6L310 95.9L310.5 98.4L311.5 100L312.9 101L315.2 100.5L319.2 99.7L321.5 100.8L319 101.3L315 101.4L313.6 101.9L315.2 103.3L315 105.3L313.1 104.4L311.8 104.7L311.5 106.1L311.9 107.4L310.8 109L309.2 109.5L306.4 109.3L303.8 110.3L302.6 109.3L300.9 109.9L299.4 110.1L298.5 109.5L297.5 108.8L298.3 106.6L298.4 104.2L295.5 105.3L295.9 107.7L296.4 109.3L296.8 110.3L295.8 110.7L294.6 111.1L291.8 111.7L291.2 113.2L290.3 114.3L289.6 114.6L288.2 115.1L286.1 117.4L283.8 117L284 118.8L279.8 119.2L280.3 120.2L283.1 121.2L284.5 123L284.7 123.9L284.5 125.4L284.1 127.4L281.1 127.3L278.5 127.3L275.8 126.9L274.8 127.4L273.6 128.3L274.3 129.4L274.4 131.3L273.3 135.3L273.9 138.1L275.5 138.1L277.7 139L279 139.7L280.4 138.6L283.2 138.5L283.7 138.6L285.2 137.1L285.8 136L286.8 135.3L286.1 133.9L287.7 131.9L289.4 130.8L290.9 129.3L291.6 127.3L293.6 127.6L294.5 127.9L296.2 126.9L298.3 125.8L299.5 126.3L300.3 127.3L300.6 128.3L302.5 129.6L303.3 130.3L305.1 131.1L306 131.8L306.9 132.1L308.1 133.1L308.8 134.8L308.4 136.5L309 136.6L310.3 134.8L309.4 133.4L309.8 132.4L310.2 132.3L312 133.4L312.1 132.9L311.3 132.1L309.7 131.3L308.6 129.9L306.9 129.8L305.8 128.9L304.6 127.1L303.3 126.3L303.1 124.8L302.7 124.1L304.7 123.8L304.5 124.6L305 125.1L305.6 124.3L306.9 126.3L308.6 127.3L311.1 128.8L312.5 129.6L313.1 130.9L313.3 132.4L314.3 133.6L315.4 134.8L316.3 136L316.1 136.8L317 138.5L318.4 139.2L319.3 139L318.6 137.3L319.6 137.5L319.8 136.6L320.2 137L320.3 136.1L318.5 134.3L318 133.1L318.1 132.1L319.5 133.1L320.3 132.8L320.1 131.6L322.2 131.8L322.8 132.9L323.4 132.4L324.4 131.4L326.4 131.4L325.2 130.4L324 128.9L324.3 127.8L325.1 126.1L326.2 124.4L327.1 122.3L328.2 122.1L329.6 122.8L331.2 123L329.9 124.3L331.5 125.4L332.5 125.8L334 124.8L335.3 124.1L332.7 122.8L335.2 122L336.1 121.3L337.8 121.2L338.5 121.3L337.2 122L336.8 123.1L336.5 124.3L335.6 124.4L336.6 124.9L337.3 125.3L339.3 126.3L340.3 127.1L342.2 128.1L343.6 130.4L341.2 131.4L339.4 131.6L336.4 130.9L334.7 129.8L331.6 129.8L330.1 130.6L327.8 131.3L326.5 131.1L327.8 131.9L325.2 132.4L323.1 132.9L322.8 133.9L323.9 133.9L323.8 135.3L324.4 135.8L323.3 136L324.8 136.6L325.1 138.1L326.4 138.5L327.6 138.8L329 139.5L329.8 138.3L331.7 139L333 139.8L334.6 139.3L335.3 138.5L337.6 138.8L337.4 140L337.4 140.7L337.6 142.5L337.3 143.4L336.8 145.2L336.7 146.4L336.1 147.6L335.5 148.1L333.3 147.7ZM500.6 218.5L501.7 221.6L501.7 224.8L503.6 226.6L503.8 229L504.4 233L506.4 234.2L507.3 236.1L508.9 238.9L508.6 240.1L509.1 240.8L510.3 242.3L511.4 242.6L509.8 246.7L509.8 248.7L507.9 251.6L506.7 253.4L503.9 256L502.3 257.6L499.1 260.8L497.1 263.7L493.9 264.4L490.5 266.4L489.4 264.5L486.6 266L484.4 265.2L483.1 263.7L483.7 261.2L483.3 260.5L483.3 259.3L483.2 258.1L480.9 259.8L482.6 257.8L484.1 255.3L483.3 256.1L479.7 259.2L479 257.8L478.6 256.1L478.6 254.6L475.4 253.6L472 253.9L467.4 254.9L464 256.1L460.4 257.6L457.7 257.8L454 259.5L450.4 258.5L450.9 257L451.8 256.6L452.8 254.4L452.8 251.9L453.1 249L453 247.2L452.3 244.5L453.6 242.5L453.5 241L455.4 237.2L456.8 236.9L459.6 235.4L462.4 234.7L464.6 234L467.1 232.5L468.4 230.8L469.9 228.1L470.7 229.7L470.9 228.3L472.4 227.5L473.5 225.8L475.2 224.1L476.6 223.6L478 225.4L479.5 225.6L480.6 224.1L481.7 222.4L482.7 221.4L484.6 221.1L485.5 219.5L486.9 220.4L489 221.1L490.6 220.7L491.7 221.1L491 223.3L490 224.1L489.1 225.8L490.3 227.3L492.1 228.1L493.7 229.2L496.2 230L497.6 227.5L498.4 224.9L499 221.7L499.8 219ZM486.4 269.1L488.4 269.7L491.2 269.4L489.9 271.2L488 273.2L485.9 273.9L484.9 273.7L485.4 271.6L485.7 270.1ZM532.4 258.5L532.9 259.5L533.7 260L532.8 262.5L534 262L533.7 263.9L536.8 264L535 265.7L532.6 267.1L527.5 270.6L527.2 270.1L529.4 267.7L528.4 266.7L529.2 266.2L531 264.5L532.3 262.5L532.3 259.8ZM525.4 268.7L525.1 270.1L526.9 269.6L526 270.7L524.2 271.9L521.3 274.2L518.1 275.2L515.2 277.7L512.5 278.9L510.9 278.9L510.4 278.2L509.7 277.5L513.1 275.6L515.7 274.4L520.7 271.9L522.2 270.7L524.2 269.2ZM484.5 201.8L486.8 201.2L489 201.8L489.6 204.7L491.1 206.1L493.4 203.9L499 204.7L503.3 206.4L506.4 209.3L508 211.8L509.2 211.8L509.6 214L511.1 215.8L513.3 217.9L511.9 218.4L507.9 216.5L504.9 213.6L502.5 214.5L501.7 215.8L498.7 215.8L497.9 214.8L495 214.7L494.4 212.8L495.7 212L494.7 209.8L491.8 208.3L489.5 207.2L487.3 207.4L486.3 205.4L488.1 204.7L485.9 204L484.4 203ZM451.3 198L451.7 200.5L452.8 203L453.1 205.4L455.3 206.2L457.2 206.1L459.5 206.4L461.7 207.2L462.5 205.2L463.1 202.7L464.2 201.3L464.9 199L466.4 198.8L464.5 196.8L464.2 194.8L465.5 193.1L466.5 191.9L464.7 190.6L463.4 188.9L462.6 188.7L461.6 190.4L460 192.1L458.7 193.1L457.3 195.1L454.9 196.1L453.3 197.6L452.2 197.1ZM430.5 191.1L433.8 191.7L435.7 194.1L438.5 196.8L440 197.6L442.3 199.5L443.5 202.2L444.5 203.9L446.7 205.6L446.5 208.1L446.3 210.3L445.5 209.8L444 209.8L441.1 206.9L438.4 202.2L436 197.6L434 195.8L431.8 193.6ZM445.2 212L446.5 210.4L447.7 210.8L450.4 211.8L453 212.1L454 211.3L456.5 212.6L458.9 213.6L459 215.2L456.8 214.5L453.8 214.3L450.8 213.5L448.6 213.5L447 212.8ZM466.8 209.1L467 206.4L466 205.2L466.8 202.5L467.6 201.8L467.9 199.3L469.1 198.6L471.7 198.8L473.2 199L475.1 198L475.7 198.1L474.4 199.8L472.4 199.7L469.4 199.8L468.2 200.2L468.1 202L469.1 202.9L470.3 202L472.1 202L473 202L471.3 203.5L470.3 203.9L471.2 205.9L471.7 207.2L472.1 208.1L470.7 208.8L470.1 208.6L470.1 207.2L469.3 205.1L468.1 205.6L468.3 207.2L468.2 209.8L467.3 209.9ZM465.9 169.3L467.4 169.5L468.4 169.3L468.7 171.8L468.1 173.5L468.8 175.6L470.2 176.4L472.1 177.2L472.1 178.4L472.7 179.3L471.4 178.6L470.3 178.2L468.8 177.1L467.8 177.4L467.1 176.6L467.5 175.9L466.9 176.1L466 174.7L466 173.4L465.9 171.8L465.9 170.8ZM470.6 188.9L470.8 187.4L472.2 186L473 186.8L473.6 186.7L474.3 186.2L475.4 185.3L475.3 184L476.5 185.3L477.1 187.9L476.9 188.9L476.8 189.9L475.9 188.7L475.6 189.7L475.7 191.1L475.4 190.2L473.9 190L473.7 188.4L472.6 187.5L471.6 188ZM473 179.4L474.5 179.4L475.4 181.6L474.8 183.3L474.2 183.3L473.4 181.5ZM469.7 180.6L471.4 181.1L472.2 182.3L472.1 184.8L471 184.7L470.6 183L469.8 182.6ZM463.1 186.3L464.9 184.8L466.2 182.8L466.4 181.5L465.8 182.6L464.4 184L463.2 185.7ZM473.2 143.2L474.2 141.7L475 140.7L476.7 140.7L478.2 140.5L479.1 140.3L479.1 138.8L479.3 137.3L479.8 138.5L481.3 136.6L481.6 135.1L481 133.6L480 132.1L479.8 131.1L481.1 130.8L482.2 132.3L483.9 133.8L483.7 136L484.9 138.1L486 140.3L485.4 141.5L484.5 140.5L484.1 142.2L483.1 142.2L481.1 141.8L481.5 142.7L480.5 144L479 142.9L479.2 142.2L477.2 142.2L475.2 142.7L474 143.2ZM473.3 143.4L474.6 143.9L474.9 144.5L475.6 145.2L475.6 146.7L475.4 147.7L475.1 148.2L474.1 147.7L473.5 146.2L472.5 145.4L471.8 144.4L472.8 143.9ZM475.6 143.2L477.4 142.7L478.7 143.5L478.4 144.4L477.3 144L477.1 145.4L475.8 144.4ZM479.3 130.8L479.7 130.1L479.5 129.3L480 128.8L482.9 129.8L483.3 128.1L484.8 127.4L483.1 125.9L482.1 126.4L477 123.9L477.8 125.6L478.5 126.6L478.9 127.8L477.6 127.6L477.8 128.9ZM465.1 109.6L465.8 109.5L468.7 111.7L470.8 114.1L474.1 116.5L476.7 118.7L473.8 117.9L475.7 120.7L478.3 122.8L476.8 122.1L476.5 123.1L474.6 120.7L472.8 118.2L469.7 114.9L467.5 112.5ZM464.8 157.9L465.7 158.4L465.5 160.9L465.2 163.4L463.9 162.1L463.4 160.7L464.2 158.2ZM448.1 168.1L449.5 169.8L450.8 168.8L451.3 167.3L450.5 166.6L448.8 167ZM407 184.1L408.4 184.8L409.2 186.2L410.2 188.2L410 189.7L408.4 190.6L407.4 190L407.2 188.9L407 186.7ZM360.9 220.7L362.2 224.1L362.4 226.5L361.1 228.3L360.4 231.2L359.2 235.1L357.7 238.4L356.2 241.8L355.8 242.8L353.1 243.7L351.5 242.6L351.2 239.9L350.9 237.6L352.6 234.7L352.6 232.5L353.1 230L353.2 227.8L356.1 227L358 225.4L359.3 223.1L360.3 221.4ZM278.4 116.4L279.1 116.5L280.5 116.1L281.2 116.2L282.7 115.7L284.2 115.6L285.7 115.3L287.6 114.8L287.6 114.3L286.7 114.1L287.1 113.6L288 112.5L287.4 111.9L286.1 111.9L285.8 110.9L285.5 109.9L284.8 109.3L283.8 108.5L283 107.2L281.7 106.9L282.2 106.4L282.8 105.2L283.1 104.6L282.9 104.2L280.2 104.6L281.5 103.2L281.6 102.8L279.2 102.8L278.8 103.5L278.2 104.6L278.4 105.7L278.6 106.3L278.3 108L279.2 107.4L279.4 107.1L279.8 107.7L279.1 108.6L279.4 109.1L281.2 108.6L281 109.3L281.9 109.9L281.8 110.9L281.5 111.2L279.8 111.2L279.7 112L280.5 112.5L279.7 113.2L278.9 113.5L279.2 113.8L280.6 114L281.7 114.1L282.3 114L281.9 114.6L280.5 114.6L280 114.9ZM276.2 107.9L277.8 108.2L278.4 109.1L278.6 109.6L277.6 110.1L277.9 111.2L277.6 113L276.8 113.2L275.1 113.6L273.1 114.3L272.4 113.2L273.5 112.4L273 112.4L274.2 111.4L272.7 111.1L272.8 110.1L273.1 109.6L274.9 109.6L275.2 109.1L275.1 108.2ZM256.8 92.3L259.3 91L260.5 92.3L261.7 92.1L264.1 91.3L266.4 90.9L268.2 91.2L269.2 92.8L268.7 93.8L267.3 94.3L265.2 94.9L262.8 95.5L261.1 95.3L258.6 94.9L259.5 94.3L257.3 93.2L259.6 92.9ZM232.3 101L230.2 99.6L227.6 98.4L226.4 97.6L225.2 94.3L224.4 92.5L224.5 90.2L225.7 87.7L228.7 87L225.4 85.8L225.7 84.7L225.4 82L225.1 79L222.9 77.8L218 77.7L215.6 77.2L213.9 75.9L213.5 74.9L218.7 74L222.5 72.8L222.3 72L227.7 71L233.5 70.5L241.9 70L253.8 69.2L259 69.5L263.3 70.1L272.2 71.3L268.4 72.3L266.4 73.4L265.2 75.3L264.4 76.8L263.7 78.4L262.4 80.1L261.1 82L260.6 85.2L258.3 86.6L254.7 88L250.2 88.6L246.4 90.9L242 92.2L239 93.1L237.3 95.3L234.7 98.4ZM215.6 90.6L215.9 88.7L211.5 86.6L210.6 85.2L207.9 83.5L202.6 82.2L201.5 80.8L196.4 80.7L191.1 81.5L189.2 83.1L192.4 84.5L192.9 85.8L195.4 86.1L199.2 86.1L201.2 87.3L203.7 88.7L201.4 90.9L200.9 92.6L195.3 93.5L196.6 94.3L200.7 94.1L203.1 96.4L207.2 97.6L205.5 95L209 96.2L210.3 94.6L208.2 91.9L211.6 93.1L214.5 91.6ZM158.4 83.8L164.8 81.3L171.9 81.5L174.6 81.9L177 83.8L173.7 86.1L169.1 87.7L163.5 87.9L158.7 88.3L157.1 86.6ZM152.1 82.8L157 80L163.2 80L163.6 81.5L157.7 83.5L153 84.3ZM195.2 76.5L199.1 74.7L199.7 72.3L203.7 71.3L213.5 69.8L224.2 69.8L227.3 70.4L223.4 71.8L217.8 72.8L212.1 74L209.5 75.9L204.5 77.2L198.5 77.2ZM203.3 78.4L196.2 79.6L190.4 79.3L192.6 77.2L199.3 77.4L203.9 77.8ZM176.9 79L169.5 79.8L165.6 78.8L169.7 77.3L176.1 76.9L178.5 77.8ZM181 84.1L177.1 83.1L178.5 81.1L183.3 80.4L183.6 81.8ZM189.6 82L183.7 82.8L185.8 80.4L190.5 80.4ZM200.8 74.9L195.2 74.7L194.4 72.8L199.8 71.5L202.5 72.3ZM185.5 79L180.8 78.8L182.7 77.2L186.9 76.9ZM191.4 95.3L186.7 96.4L184.1 94.9L186.9 92.3L190.1 91.8L191.7 93.8ZM207.3 120.5L208.8 119L209.5 117.4L211.8 115.3L214.1 114L212.8 116.2L215.1 117.4L215.4 119L216.1 118.7L216.1 120.7L215.2 122.1L214.1 121.8L214.1 120.7L212.1 121.6L211.7 120.5ZM123.1 119.2L121 118.5L119.1 115.4L120.6 115.1L122.3 116.5L123.3 117.9ZM162 163.6L165 161.7L165.9 161.6L167.2 161.6L169.4 161.9L172.2 162.9L173.5 164.1L175.3 165.4L177.4 166.5L175.9 167L175 166.8L172.2 167.1L173.1 165.8L171.2 165.6L171.6 164.3L169.1 163.9L168.5 163.4L166.6 163.1L166 162.2L164.1 163.1ZM176.7 169.5L179.8 169.1L178.5 167.1L180.6 167L182.5 167.1L183.7 167.3L184.7 168L185.8 169.1L185.4 169.8L183.5 169.3L181.7 169.8L181.2 170.8L180.6 170.2L179.6 169.8L177.7 170.2ZM170.9 169.5L173 169.3L174.1 170.2L172.6 170.5L171 170ZM187.5 169.3L189.9 169.5L189.5 170.2L187.4 170.2ZM293.7 73.4L298.3 72.8L301.9 72.5L308.5 72.6L306.1 73.8L303.6 74.7L301.6 75.9L300.2 77L297.2 75.9L294.4 74.3ZM338.8 83.8L339.6 82.4L341.4 81.1L340.6 79L344.3 77.4L350.9 76.5L351.5 76.7L349.6 77.8L344.7 79L344 81.1L344.1 82.8L345.9 84.9L343.3 85L340.7 84.2ZM373.8 74L379.2 75.3L383.2 74.7L382.4 73.4L375.3 71.8L372.3 72.3ZM422.7 79L430.2 80.7L433.8 79L434.6 78.4L428.4 77.8L422.4 77.8ZM473.6 83.8L475.7 84.1L476.8 84.6L475.5 84.6ZM79.3 92.8L82.4 92.2L84.2 93.4L85.5 94.1L88.1 92.8L92.8 91.5L91.2 90L89.3 88.3L87.2 87.4ZM96 103.9L98.8 103.9L97.3 105L94.4 105.5ZM304.1 136.5L305.4 136.1L308.4 136.1L307.9 138.6L304.8 137.5ZM297.9 131.6L299.2 131.1L299.9 133.1L299.7 134.4L298.4 134.8L298.1 133.1ZM298.2 128.9L299.1 128.1L299.4 129.9L299.1 130.8L298.3 130.1ZM320.1 140.7L322.1 140.8L324 141.2L323.7 141.5L321.5 141.5L320.1 141ZM332.5 141.5L333.4 141L335.5 140.5L334.9 141.5L333.6 142.2ZM472.3 217.9L474.7 215.7L477.8 214.7L478 215.2L475.4 216.7L473 217.9ZM461.3 214.7L462.8 214.5L465.8 214.7L468.8 214.7L471.8 214.5L471.4 215.3L467.2 215.5L462.7 215.7L461.2 215.5ZM479.1 197.5L479.9 196.8L481 198.8L480.3 200L480 201.8L479.4 199.7ZM479.8 205.6L482.1 205.2L484 206.1L482.1 206.4L479.8 206.2ZM510.2 209.8L512.8 209.1L515.1 207.6L516.3 207.7L515.4 209.8L512.6 211L510.3 210.4ZM550.4 230L552.2 229.8L552 231L550.2 231.2ZM529.5 234.5L531.4 235.9L532.9 238.1L532.2 238.1L529.9 235.9ZM56.5 166.5L57.9 167L58 167.6L56.7 168.5L56.3 167.5ZM206.9 286.5L208.8 286.5L211.2 287L210.2 288L208 288ZM197.9 288.8L198.6 289.6L200 291.1L203.4 292L202.1 292.8L199.7 293.1L197.7 292.8L194.6 291.5L196.1 290.4L196.2 289.1ZM376.7 282.8L378.6 283L377.8 284L376.3 283.8Z" fill="#dfdfdd" filter="url(#b1)"/>
<g clip-path="url(#m1land)">
<path d="M261.8 175.6L272.3 175.6L287.2 176.9L302.1 178.2L317.1 179.4L332.1 180.3L340.9 177.7L342.5 179.8L337.5 185L324.7 185.7L309.7 184.5L294.7 182.8L279.7 181.1L264.8 178.6ZM338.4 193.8L342.9 193.8L347.5 196.3L349.7 203L347.1 207.2L344.4 206.4L342.2 202.2L340 199.7ZM339.6 180.3L343.1 176.9L346.2 177.7L347.2 183.6L350.2 185.3L348.1 188.7L344.4 191.2L340.6 189.5L339 185.3ZM305 227.5L309.4 230L316.7 232.5L324.1 234.2L328.3 238.4L331 241.8L333 244.3L334 241L331.4 235.9L327.1 232.5L319.8 230L311 228.3ZM218.2 210.6L224.1 207.2L230.1 208.9L233.2 214L229.6 220.7L226.1 225.8L224.2 232.5L219.2 235.9L213.2 234.2L209.8 227.5L212.4 220.7L216 215.7ZM193.7 230.8L201.2 232.5L203.4 241L201.9 247.7L197.5 252.8L193.4 249.4L192.2 239.3ZM381.6 131.4L386.2 128.9L392.7 128.1L399 126.8L404.3 126.4L401.4 129.3L395.2 130.9L390.5 133.1L386.9 134.8L383.8 133.9ZM393 116.5L397.3 114.9L402.5 114.9L408.2 115.7L414 116.5L413.1 119.8L406.9 120.7L399.5 119ZM440 141.5L444.5 139L445.4 134.8L447.9 131.4L451 129.8L450.9 133.1L449.8 138.1L447.4 142.3L443.4 143.2ZM396.8 163.4L399.9 159.2L404.9 158.4L410.2 159.2L408.1 165.1L405.1 170.2L403.4 175.2L401.3 176.9L399.3 171.8L398 166.8ZM349 137.3L352.5 140.7L356 144L360.3 148.2L363.6 150.8L363 151.6L358 147.4L353.8 144L350.4 140.7ZM143.3 146.6L147.8 143.2L151.3 139L149.5 138.1L145.5 141.5L142.4 144.9ZM276.8 136.5L282.3 135.6L285.1 133.1L282.3 131.4L277.4 132.3ZM278.9 141L283.8 141.5L289.4 139L296.5 138.5L300 139L298 141L290.9 141.2L285.3 143.2L279.6 144L276 146.6L273.9 148.2L273.2 146.6L276.8 143.5ZM469 230L475.1 224.9L481.4 222.4L487.4 222.4L491.2 226.6L495.8 229.7L498.8 225.8L500.4 229.2L500 234.2L495.4 235.1L489.9 233.4L483.1 230L476.4 230L470.8 232.5ZM90.7 98.4L100.6 93.1L109.8 89.5L119 88.3L130.7 87.7L141.9 87.6L148.1 90.2L156 93.8L161.8 98.4L168 101.4L171.5 103.8L172.1 100.6L167.1 97.6L161.2 93.1L155.5 89.5L148.1 86.9L137 87L126.6 86.6L115.7 86.6L105.2 88.7L95.1 93.8ZM187.5 108.5L191.7 103.8L197.9 102.2L203.6 103L207.3 103L208.5 106.1L203.9 105.3L196.5 105.3L190.8 106.9ZM351.3 89.5L362.2 89L370.9 85.8L379 83.1L388.1 81.8L400.6 81.8L415 82.4L427.9 84.1L438.1 83.8L451.4 85.4L465 87.3L475.9 89.5L484.9 92.3L484.6 95.3L476.9 93.1L463.6 90.2L449.5 88L437.6 87.3L425.8 86.6L414.2 85.8L400.4 85.2L388.2 85.8L379.1 88L370.1 90.9L359.3 91.6Z" fill="#d3cd7c" opacity="0.75" filter="url(#b2)"/>
<path d="M96.4 97.6L109.1 90.9L117.6 89.5L129.6 88.7L142.8 88.7L149.8 93.1L155.9 96.9L161.3 100.6L167.1 103L170.5 105.3L175.4 107.7L181.4 110.9L184.1 113.3L187.1 109.3L191.1 106.1L196.8 104.6L203 104.6L207.9 107.7L212.7 112.5L213 115.7L207.3 117.4L201.7 118.5L205.2 122.3L204 124.3L196.8 127.1L191 127.4L189.5 130.1L183.9 132.6L180 138.1L179.2 141.2L173.8 144.9L170.2 148.2L169.9 155L167.8 157.5L167 153.3L165.5 149.9L159.8 149.4L153.8 150.3L149.4 150.8L147.9 148.2L150 143.2L153.4 139L157.7 136.5L161.9 132.3L165.2 128.9L163.4 124.8L161.2 120.7L158.8 117.4L157.1 113.3L151.1 110.4L143.2 110.9L137.3 114.9L135.8 119.8L136.2 123.9L136.9 128.1L139.8 132.3L139.5 136.5L137 141.5L132.3 144.9L129 144L127.7 141.5L130.1 137.3L132.4 133.1L131.7 128.9L129.3 125.6L126.1 126.4L119.7 132.3L119.6 137.3L118.9 140.7L116.4 141.5L114.6 138.1L114.7 132.6L117.6 126.4L121.5 119.3L120.5 114.9L120.9 109.3L120.7 103.8L116.8 100.6L110.1 99.1L102.4 100.6L94.8 102.2L96.4 97.6ZM207.8 120.3L211.8 115.3L213.6 114.5L215.4 119L215.4 121.8L211.7 120.7ZM130 149.9L132.5 155L133.4 161.7L131.5 165.9L135.8 170.2L141.4 173L146.6 173.2L150 175.9L155.8 178.2L158.9 182L161.9 186L166.4 187.9L170.8 187.9L171 185.7L167.3 184.8L163.6 184.8L162.1 181.1L163 175.2L159.2 173.7L155.4 173.7L156.7 169.3L158.8 164.4L153.8 165.1L152.3 168.8L147 169.7L144.6 168L143.1 162.9L142.6 159.2L140.9 156.7L137.2 153.3L133.2 149.1ZM162.6 163.4L167.2 161.7L173.5 164.1L177.3 166.5L172.5 167L171.6 164.4L166.3 162.7ZM177 169.3L179.1 167.1L183.6 167.1L185.6 169.1L183.4 169.5L181 170.5L178.1 170ZM171.3 186.2L174.9 182.3L178.7 181.1L179.6 183.6L184 181.5L191.4 182.8L195.1 183.3L197.2 186.5L201.6 190L209.1 192.2L211.6 198L212.8 201.3L216.5 202L221.1 205.1L224.9 205.6L230.1 207.6L234.1 210.3L234.7 214.8L231.6 219.9L229 224.9L228.8 230.8L226.7 237.6L222.4 239.6L216.4 244L216.1 248.5L212.8 254.1L210.5 257.5L205 259.2L205.9 263.7L200.7 265.9L196.9 264.5L194.4 259.5L191.1 252.8L188.6 246L188.5 239.3L185.7 232.5L183.4 228.3L179.1 224.9L174.7 219.9L171 214L168.5 209.8L167 206.4L167.6 203L166.9 199.7L169.2 197.1L171 192.9L171 188.7ZM183.3 262L186.9 263.7L188.7 271.2L189.6 277.9L191.2 284.5L195 289.3L199.8 291.7L201.7 293.3L197.8 293L191.8 289.3L187.5 284.5L185.4 279.2L185.3 272.9L184.2 267.9ZM262.1 179.4L264.8 178.1L272.3 178.9L279.7 180.6L287.2 181.5L294.7 182.3L302.2 183.3L309.7 184L317.2 184.8L324.7 185.3L332.2 185.3L337.5 184.5L339.6 181.1L342.5 179.4L345.6 182L346.5 186.2L344.4 190.4L341.4 192.9L339.9 195.4L340 199.7L342.2 202.2L344.4 206.4L346.5 208.9L346.4 214.8L347.6 218.2L347.6 224.9L345.1 228.5L340.5 232.2L338.5 235.1L338.9 240.1L335.3 243.1L334.6 245.7L333 244.3L332.6 239.3L329.8 236.7L327.1 233.4L322.7 231.7L318.3 230.8L313.9 230L308 228.3L305.1 225.8L307 219L306.5 212.3L305 208.1L301.3 203L301.4 198L301.6 194.1L297.8 193.1L294.8 191.1L290.3 190L284.3 192.2L279.8 191.9L275.8 193.1L270.7 189.5L267.3 186L264.8 182.3ZM334.7 246L333.7 249L331.3 251.6L326.8 256.1L323 257.8L318 258.1L313.7 258.8L313.1 257L316.7 256.6L322.5 256.1L326.3 253.6L329.6 250.2L331.3 246.9L332.6 243.5ZM360.9 220.9L362.3 226.3L360.6 230.8L358.6 236.7L356.1 242.6L354.3 243L356 237.6L357.5 232.5L357.6 227.5L359.2 223.4ZM280.1 119.3L284 117.2L288.4 114.9L291.4 111.7L296.1 109.3L295.7 105.7L298.3 104.4L298.4 107.7L300.2 109.8L303.4 110.1L308.3 109L311.8 107.7L311.5 104.9L315 105L313.7 101.9L318.9 101.1L321.2 100.6L316.3 100L312.2 100.6L310.1 97.6L312.9 93.4L309.7 92.1L306.5 96.1L305.7 99.4L307.9 101.4L305.8 105.3L303.4 107.5L301.5 107.2L299 102.5L295.1 103.6L291.7 102.2L290.9 97.9L295.3 95.3L299.3 90.9L302.5 87.6L307 85.8L312.1 84.7L317 86.6L322.7 87.3L329.6 89.5L330.9 91.2L324.1 91.2L324.4 93.7L328.7 94.6L331.9 93.8L334.1 90.9L338 89.5L345 88L352.3 87.3L357.9 85.8L362.7 83.8L367.3 81.8L372.3 80.4L377.1 79L383.5 77.8L393.3 79L402.4 80.7L410.7 81.5L418.2 82.4L426.9 83.4L433.9 83.1L443.8 84.1L454.1 85.2L463.9 86.6L472.6 87.3L481.5 88.7L487.2 92.3L485.9 94.6L486.7 96.9L482.7 99.1L482.7 101.4L485.8 104.6L488.6 108.5L488.4 112L488.5 114.5L481.7 108.5L478.8 103.8L477.8 99.9L471.1 98.4L471 101.3L465.2 101.4L458.4 101.9L457.3 106.1L459.6 109.8L465.7 111.7L470.1 117.4L470.2 121.8L469.6 126.1L467.1 128.1L465.1 129.3L465.1 131.4L464 133.4L468.5 138.1L469.5 141L466.7 142.3L464.5 138.1L460.3 133.9L455.9 132.3L456 128.9L452.2 124.8L445.9 121.5L441.9 117.4L436.7 117.4L429.8 116.9L422.8 116.1L416 115.7L411.3 116.5L404.8 116.5L400.4 118.2L395.4 116.1L389.1 114.1L383.6 110.9L375.9 108.2L368.3 108L364.2 110.1L360.1 112.5L355.6 110.9L349.3 110.9L343.7 113.3L337.8 115.3L331.4 115.7L325.1 116.5L321.8 119.8L319.7 123.1L322.8 125.6L324.4 129.3L322.3 131.4L319 132.3L317.9 134.8L316.7 137.3L315.8 135.1L313.7 132.3L312.8 129.8L308.5 127.3L305.7 124.4L303.6 123.8L302.9 125.9L305.2 128.4L308.4 130.6L310.7 132.3L309.5 134.8L308.6 136.1L308.2 133.1L304.3 130.9L300.6 128.1L298.1 125.8L295.2 127.8L290.7 127.8L287.7 128.6L283.8 127.4L284.6 123.9L283 121.2ZM273.8 127.8L278.1 126.9L283.8 127.4L287 128.8L290.2 129.8L287.8 131.4L283.6 130.6L280.9 132.3L277.4 133.1L276 136.5L274.2 136L274.3 131.4ZM278.7 116.2L286.5 115.1L287.4 112.2L285 109.6L282.7 106.9L282.7 104.6L279.8 103L278 105.3L278.9 108.5L281.4 109.3L279.7 111.7L279.3 113.6L281.3 114.5ZM323.9 132.8L327.8 131.3L331.6 129.8L335.9 130.6L340.9 131.4L343.6 130.3L341.5 127.6L344.9 127.6L350.7 129.3L353.2 130.9L350.7 131.8L347.3 132.3L343.3 132.8L337.7 132.8L332.2 132.6L328.1 133.4L325.6 135.6L324.9 137.6L328.9 139L332.5 139.3L337 138.5L337.7 136.8L331.4 136.8L327.7 135.6ZM354.7 135.6L356.9 137.8L359.9 139L363.4 138.6L365.2 137.3L361.7 137.6L358.2 137.6L355.9 136.5ZM388.6 140.7L393.9 144.5L399.2 148.6L404.2 151.1L409.8 153.8L415.3 155.5L421.2 155.8L425.9 154.1L427.6 152L424.5 151.1L420 153.6L414.9 153.8L408.7 152.1L403.1 149.4L397.9 146.1L393.3 142.3L389.6 139.3ZM394.4 165.1L394.9 168.5L396.5 173.5L399 178.9L401.6 184.5L403.4 186.7L404.2 184.5L403.1 180.3L404.4 177.7L405.6 174.4L408.2 171.8L411 169.8L413.6 167.1L415.4 164.3L413.4 161.4L410.3 160L407.4 160L404.6 160.9L401.8 162.1L399 162.9L396.9 163.8ZM427.7 152.5L431.4 149.9L434 144.9L437.7 143.2L442.1 143.5L447.2 145.7L451.9 146.9L456.1 146.6L461.1 148.2L463.2 150.8L462.3 154.1L461.7 157L458.9 160.9L454.9 162.7L451.5 164.3L448.5 164.3L445.6 164.3L444.4 167.6L446.9 172.2L449.8 176.9L450.6 180.6L448 182.8L444.7 185.3L444.1 182.8L441.4 182L438.9 179.1L437.3 178.1L436.5 181.1L436.1 184.5L437.9 188.7L439.7 189.5L442.1 191.6L443 195.4L443.8 198L441.5 197.1L439.2 194.6L438 190.7L435.1 187L434.7 182L433.4 176.9L432.1 172.7L429.9 172.7L427.8 173.5L426.9 169.3L423.6 165.1L422 161.7L421.8 158.4L418.5 156.7L422.3 154.5L425.7 153.3ZM407.2 184.5L409.5 187L410 189.5L408.2 190.4L407 187.9ZM473.2 143.2L475 140.7L479 140.2L479.3 137.6L481.6 136.5L480.2 132.3L481 130.9L484 133.9L484.5 137.3L486 140.5L484.5 141.2L481.4 142.2L480.5 143.9L477.3 142.5L474.8 143.2ZM474.1 147.7L475.8 147.4L475 144.4L472.3 144.2ZM476 144.4L478.4 143.4L478.4 144.4L477.1 145.2ZM479.3 130.6L480 128.9L482.9 129.8L484.5 127.6L482.8 126.1L477.3 124.1L478.7 127.3L477.7 128.6ZM465.8 110.1L470.2 113.3L474 117.4L477 122.3L474.6 120.7L470 114.9ZM464.9 158L465.7 161.7L465 163.2L463.8 160.9L464.3 158.4ZM448.2 168.1L449.6 169.7L451.1 168L450.2 166.8L448.8 167.1ZM500.6 218.7L501.5 224.6L503.7 226.6L503.9 232.2L507 234.7L508.6 238.9L510.8 242.6L509.8 247.7L506.5 253.6L502.1 257.8L497.3 263.4L493.1 264.5L490.4 266.2L488.7 264.9L486.7 265.9L484.2 264.9L486.1 262L489.8 261.7L494.1 260.3L498.7 257L502.8 252.8L505.9 247.7L506.1 244.3L504.5 241L502.4 236.7L501.3 231.7L500 227.5L498.8 224.1L499.2 221.2ZM480.5 225.4L481.9 222.1L485.5 219.9L489 221.1L491.7 221.2L490.1 224.1L489.2 226.1L485.1 227.5L482.1 227.5ZM471.1 229.2L473 227L476.4 223.9L478.3 225.8L476.7 228.8L473.4 230.5ZM491.7 228L496.1 229.8L497.6 227.5L497.2 230L493.9 231.7L491.7 230ZM452.9 250.7L456.2 251.6L457.8 254.9L460.7 257.3L457.5 258.1L454.1 259.7L450.4 258.7L451.2 256.1ZM451.3 198L451.7 200.5L452.8 203L453.1 205.4L455.3 206.2L457.2 206.1L459.5 206.4L461.7 207.2L462.5 205.2L463.1 202.7L464.2 201.3L464.9 199L466.4 198.8L464.5 196.8L464.2 194.8L465.5 193.1L466.5 191.9L464.7 190.6L463.4 188.9L462.6 188.7L461.6 190.4L460 192.1L458.7 193.1L457.3 195.1L454.9 196.1L453.3 197.6L452.2 197.1ZM430.5 191.1L433.8 191.7L435.7 194.1L438.5 196.8L440 197.6L442.3 199.5L443.5 202.2L444.5 203.9L446.7 205.6L446.5 208.1L446.3 210.3L445.5 209.8L444 209.8L441.1 206.9L438.4 202.2L436 197.6L434 195.8L431.8 193.6ZM445.2 212L446.5 210.4L447.7 210.8L450.4 211.8L453 212.1L454 211.3L456.5 212.6L458.9 213.6L459 215.2L456.8 214.5L453.8 214.3L450.8 213.5L448.6 213.5L447 212.8ZM466.8 209.1L467 206.4L466 205.2L466.8 202.5L467.6 201.8L467.9 199.3L469.1 198.6L471.7 198.8L473.2 199L475.1 198L475.7 198.1L474.4 199.8L472.4 199.7L469.4 199.8L468.2 200.2L468.1 202L469.1 202.9L470.3 202L472.1 202L473 202L471.3 203.5L470.3 203.9L471.2 205.9L471.7 207.2L472.1 208.1L470.7 208.8L470.1 208.6L470.1 207.2L469.3 205.1L468.1 205.6L468.3 207.2L468.2 209.8L467.3 209.9ZM465.9 169.3L467.4 169.5L468.4 169.3L468.7 171.8L468.1 173.5L468.8 175.6L470.2 176.4L472.1 177.2L472.1 178.4L472.7 179.3L471.4 178.6L470.3 178.2L468.8 177.1L467.8 177.4L467.1 176.6L467.5 175.9L466.9 176.1L466 174.7L466 173.4L465.9 171.8L465.9 170.8ZM470.6 188.9L470.8 187.4L472.2 186L473 186.8L473.6 186.7L474.3 186.2L475.4 185.3L475.3 184L476.5 185.3L477.1 187.9L476.9 188.9L476.8 189.9L475.9 188.7L475.6 189.7L475.7 191.1L475.4 190.2L473.9 190L473.7 188.4L472.6 187.5L471.6 188ZM473 179.4L474.5 179.4L475.4 181.6L474.8 183.3L474.2 183.3L473.4 181.5ZM469.7 180.6L471.4 181.1L472.2 182.3L472.1 184.8L471 184.7L470.6 183L469.8 182.6ZM463.1 186.3L464.9 184.8L466.2 182.8L466.4 181.5L465.8 182.6L464.4 184L463.2 185.7ZM484.5 201.8L486.8 201.2L489 201.8L489.6 204.7L491.1 206.1L493.4 203.9L499 204.7L503.3 206.4L506.4 209.3L508 211.8L509.2 211.8L509.6 214L511.1 215.8L513.3 217.9L511.9 218.4L507.9 216.5L504.9 213.6L502.5 214.5L501.7 215.8L498.7 215.8L497.9 214.8L495 214.7L494.4 212.8L495.7 212L494.7 209.8L491.8 208.3L489.5 207.2L487.3 207.4L486.3 205.4L488.1 204.7L485.9 204L484.4 203ZM486.4 269.1L488.4 269.7L491.2 269.4L489.9 271.2L488 273.2L485.9 273.9L484.9 273.7L485.4 271.6L485.7 270.1ZM532.4 258.5L532.9 259.5L533.7 260L532.8 262.5L534 262L533.7 263.9L536.8 264L535 265.7L532.6 267.1L527.5 270.6L527.2 270.1L529.4 267.7L528.4 266.7L529.2 266.2L531 264.5L532.3 262.5L532.3 259.8ZM525.4 268.7L525.1 270.1L526.9 269.6L526 270.7L524.2 271.9L521.3 274.2L518.1 275.2L515.2 277.7L512.5 278.9L510.9 278.9L510.4 278.2L509.7 277.5L513.1 275.6L515.7 274.4L520.7 271.9L522.2 270.7L524.2 269.2ZM472.3 217.9L474.7 215.7L477.8 214.7L478 215.2L475.4 216.7L473 217.9ZM461.3 214.7L462.8 214.5L465.8 214.7L468.8 214.7L471.8 214.5L471.4 215.3L467.2 215.5L462.7 215.7L461.2 215.5ZM479.1 197.5L479.9 196.8L481 198.8L480.3 200L480 201.8L479.4 199.7ZM479.8 205.6L482.1 205.2L484 206.1L482.1 206.4L479.8 206.2ZM510.2 209.8L512.8 209.1L515.1 207.6L516.3 207.7L515.4 209.8L512.6 211L510.3 210.4ZM550.4 230L552.2 229.8L552 231L550.2 231.2ZM529.5 234.5L531.4 235.9L532.9 238.1L532.2 238.1L529.9 235.9ZM123.1 119.2L121 118.5L119.1 115.4L120.6 115.1L122.3 116.5L123.3 117.9ZM170.9 169.5L173 169.3L174.1 170.2L172.6 170.5L171 170ZM187.5 169.3L189.9 169.5L189.5 170.2L187.4 170.2ZM473.3 143.4L474.6 143.9L474.9 144.5L475.6 145.2L475.6 146.7L475.4 147.7L475.1 148.2L474.1 147.7L473.5 146.2L472.5 145.4L471.8 144.4L472.8 143.9ZM475.6 143.2L477.4 142.7L478.7 143.5L478.4 144.4L477.3 144L477.1 145.4L475.8 144.4ZM197.9 288.8L198.6 289.6L200 291.1L203.4 292L202.1 292.8L199.7 293.1L197.7 292.8L194.6 291.5L196.1 290.4L196.2 289.1Z" fill="#a29b30" filter="url(#b1)"/>
<path d="M173 195.4L179.1 190.4L186.7 187.9L194.2 187L200.1 190.4L206.1 192.9L209.8 197.1L211.3 202.2L215.1 204.7L215.9 208.9L212.3 215.7L206.4 219.9L199 221.6L193 220.7L187.8 221.6L183.4 223.3L177.9 219L174 214L170.7 208.1L169.9 203L171.4 198.8ZM301.9 194.6L305.3 192.1L309.8 192.1L315.8 192.4L321.9 192.9L327.9 193.8L331.7 197.1L331.7 203.9L330.1 208.9L326.3 211.5L320.3 211.5L314.3 209.8L310.6 208.9L306.8 209.3L304.6 207.2L301.6 203L301.7 198ZM307.5 214L312.8 214L320.3 214.8L327.8 214.8L333.7 215.7L339.7 217.4L344.1 219L346.2 222.4L342.3 226.6L336.3 226.6L330.4 225.8L323 224.9L315.5 224.9L309.6 224.4L307 220.7ZM267.3 185.3L270.8 184.5L274.5 187L278.3 188.7L282.8 188.7L287.3 188.7L291 188.7L290.7 189.9L285.8 191.7L280.5 191.7L275.8 192.9L271 189.7ZM115 91.6L127.1 90.9L136.8 92.3L141.8 96.9L148.1 100.6L155.5 103.8L161.4 106.1L165.7 109.3L170.4 112.5L175.2 115.7L181.4 116.5L187.6 114.1L194.1 110.9L200.7 110.1L206.5 111.7L210.9 114.1L207.7 116.1L199.7 116.5L194.7 119.8L197.4 123.9L193.1 124.8L189.6 123.1L184.8 121.5L179.5 121.5L174.5 120.7L170.1 118.5L165 118.2L160.9 115.7L157.2 110.9L151 108.5L143.4 106.9L136 108.5L129.9 111.7L129.1 116.5L131.6 119L131.1 122.3L128.4 122.3L125.8 119.8L125.3 117.4L123.6 113.3L122.8 108.5L122.5 103.8L120 99.9L114.1 97.6L106.7 96.9ZM188.8 125.6L191.5 125.6L187.6 129.8L181.3 132.3L175.7 137.3L170.1 142.3L165.7 145.7L160.3 147.4L154.6 147.4L151.2 146.6L153.8 142.3L158.9 141.5L165.1 139.8L169.6 136.5L175 132.3L181 128.9L185.2 126.4ZM121.8 119.5L126.6 118.5L122.9 124.8L118.9 129.8L118.5 134.8L119.2 138.1L117.8 138.1L116.8 133.9L116 130.6L118.9 124.8ZM292.5 101.4L294.5 98.4L297.7 95.3L300.5 91.6L304.4 88.7L309.8 88L315.7 89.5L319.1 93.1L322.3 96.1L320.8 99.1L315.8 98.4L311.9 96.9L308.7 95.3L305.6 97.6L305.5 99.9L303.4 102.2L300.6 103.8L299.6 100.6L296.2 102.2ZM320.8 99.1L325.5 95.3L331.1 94.6L335.9 92.3L343.5 91.6L353 92.3L362.5 93.1L371.2 92.3L378.6 90.2L385.7 88L393.2 86.6L401.9 86.6L411.3 87.3L420.9 88L430.6 88.7L439.4 88.7L450.2 90.2L461 92.3L470.7 95.3L470.1 97.6L464.6 99.9L457.4 101L456.3 104.6L457.8 108.5L465.2 112.5L469.4 118.2L469.2 122.3L468.2 125.6L465.9 127.3L462.6 126.4L461.2 122.3L460.8 119L455.1 115.7L448.5 113.3L441.5 110.9L437 112.5L431.8 114.1L425.3 114.1L418.3 113.3L411.4 112.5L404.9 112.5L399 113.3L393 111.7L386.6 109.3L378.5 106.1L369.4 105.3L362.7 106.9L356.9 107.7L350.3 106.9L344.3 107.7L338.1 107.7L331.8 107.7L326.4 106.1L322 103.8ZM447.5 119.8L446.6 114.9L449.2 113.3L455.8 116.5L462.7 119.8L466.4 123.9L465.1 128.1L463.2 130.6L460.3 131.4L456.9 128.1L457.6 124.8L452.6 121.5ZM429.7 155L433.7 153.3L436.5 149.9L440.9 148.2L445.9 149.9L447.2 155L452.1 156.7L455.7 154.1L459.6 152.5L461.8 155L459.9 158.4L455.8 160L451 161.7L445.9 161.7L441.6 162.6L440 165.9L442 169.3L445.5 172.7L448.3 176.1L447.9 179.4L444.7 177.7L441.5 175.2L437.8 171L435.8 167.6L434 170.2L434.4 176.1L435 181.1L433.3 175.2L431 170.2L428.8 165.1L426.5 160L428 156.7ZM395.6 167.6L396.7 173.5L398.9 178.6L401.4 183.6L403 186L403 182.8L400.7 178.6L398.5 173.5L397.2 168.5ZM475.3 141.2L479.5 139.8L481.4 138.1L481.6 133.9L481.2 131.8L483.5 134.8L483.9 138.1L483.2 140.2L481.1 141.5L479.5 142.7L475.7 142.2ZM150.6 171L155.1 170.5L155.5 173.5L160.6 174.4L162.2 176.9L161.5 181.1L162.8 184.5L165.8 186L168.8 185L170.2 186.2L164.3 185.7L160.7 182.8L158.7 178.6L155.2 176.4L150.9 174.7ZM503.7 227.5L503.9 232.2L507 235.9L508.9 240.1L510.5 243.5L509.2 248.5L506 253.6L501.8 257.8L497.6 262.9L493.3 264.2L495.8 261.2L501.2 256.1L505.8 251.1L508.1 246.9L507.5 242.6L505.1 237.6L502.9 233.4ZM451.3 198L451.7 200.5L452.8 203L453.1 205.4L455.3 206.2L457.2 206.1L459.5 206.4L461.7 207.2L462.5 205.2L463.1 202.7L464.2 201.3L464.9 199L466.4 198.8L464.5 196.8L464.2 194.8L465.5 193.1L466.5 191.9L464.7 190.6L463.4 188.9L462.6 188.7L461.6 190.4L460 192.1L458.7 193.1L457.3 195.1L454.9 196.1L453.3 197.6L452.2 197.1ZM430.5 191.1L433.8 191.7L435.7 194.1L438.5 196.8L440 197.6L442.3 199.5L443.5 202.2L444.5 203.9L446.7 205.6L446.5 208.1L446.3 210.3L445.5 209.8L444 209.8L441.1 206.9L438.4 202.2L436 197.6L434 195.8L431.8 193.6ZM484.5 201.8L486.8 201.2L489 201.8L489.6 204.7L491.1 206.1L493.4 203.9L499 204.7L503.3 206.4L506.4 209.3L508 211.8L509.2 211.8L509.6 214L511.1 215.8L513.3 217.9L511.9 218.4L507.9 216.5L504.9 213.6L502.5 214.5L501.7 215.8L498.7 215.8L497.9 214.8L495 214.7L494.4 212.8L495.7 212L494.7 209.8L491.8 208.3L489.5 207.2L487.3 207.4L486.3 205.4L488.1 204.7L485.9 204L484.4 203ZM466.8 209.1L467 206.4L466 205.2L466.8 202.5L467.6 201.8L467.9 199.3L469.1 198.6L471.7 198.8L473.2 199L475.1 198L475.7 198.1L474.4 199.8L472.4 199.7L469.4 199.8L468.2 200.2L468.1 202L469.1 202.9L470.3 202L472.1 202L473 202L471.3 203.5L470.3 203.9L471.2 205.9L471.7 207.2L472.1 208.1L470.7 208.8L470.1 208.6L470.1 207.2L469.3 205.1L468.1 205.6L468.3 207.2L468.2 209.8L467.3 209.9ZM470.6 188.9L470.8 187.4L472.2 186L473 186.8L473.6 186.7L474.3 186.2L475.4 185.3L475.3 184L476.5 185.3L477.1 187.9L476.9 188.9L476.8 189.9L475.9 188.7L475.6 189.7L475.7 191.1L475.4 190.2L473.9 190L473.7 188.4L472.6 187.5L471.6 188ZM465.9 169.3L467.4 169.5L468.4 169.3L468.7 171.8L468.1 173.5L468.8 175.6L470.2 176.4L472.1 177.2L472.1 178.4L472.7 179.3L471.4 178.6L470.3 178.2L468.8 177.1L467.8 177.4L467.1 176.6L467.5 175.9L466.9 176.1L466 174.7L466 173.4L465.9 171.8L465.9 170.8ZM486.4 269.1L488.4 269.7L491.2 269.4L489.9 271.2L488 273.2L485.9 273.9L484.9 273.7L485.4 271.6L485.7 270.1ZM525.4 268.7L525.1 270.1L526.9 269.6L526 270.7L524.2 271.9L521.3 274.2L518.1 275.2L515.2 277.7L512.5 278.9L510.9 278.9L510.4 278.2L509.7 277.5L513.1 275.6L515.7 274.4L520.7 271.9L522.2 270.7L524.2 269.2ZM479.3 130.8L479.7 130.1L479.5 129.3L480 128.8L482.9 129.8L483.3 128.1L484.8 127.4L483.1 125.9L482.1 126.4L477 123.9L477.8 125.6L478.5 126.6L478.9 127.8L477.6 127.6L477.8 128.9ZM464.8 157.9L465.7 158.4L465.5 160.9L465.2 163.4L463.9 162.1L463.4 160.7L464.2 158.2Z" fill="#7f7916" opacity="0.92" filter="url(#b2)"/>
<path d="M96.4 97.6L109.1 90.9L117.6 89.5L129.6 88.7L142.8 88.7L149.8 93.1L155.9 96.9L161.3 100.6L167.1 103L170.5 105.3L175.4 107.7L181.4 110.9L184.1 113.3L187.1 109.3L191.1 106.1L196.8 104.6L203 104.6L207.9 107.7L212.7 112.5L213 115.7L207.3 117.4L201.7 118.5L205.2 122.3L204 124.3L196.8 127.1L191 127.4L189.5 130.1L183.9 132.6L180 138.1L179.2 141.2L173.8 144.9L170.2 148.2L169.9 155L167.8 157.5L167 153.3L165.5 149.9L159.8 149.4L153.8 150.3L149.4 150.8L147.9 148.2L150 143.2L153.4 139L157.7 136.5L161.9 132.3L165.2 128.9L163.4 124.8L161.2 120.7L158.8 117.4L157.1 113.3L151.1 110.4L143.2 110.9L137.3 114.9L135.8 119.8L136.2 123.9L136.9 128.1L139.8 132.3L139.5 136.5L137 141.5L132.3 144.9L129 144L127.7 141.5L130.1 137.3L132.4 133.1L131.7 128.9L129.3 125.6L126.1 126.4L119.7 132.3L119.6 137.3L118.9 140.7L116.4 141.5L114.6 138.1L114.7 132.6L117.6 126.4L121.5 119.3L120.5 114.9L120.9 109.3L120.7 103.8L116.8 100.6L110.1 99.1L102.4 100.6L94.8 102.2L96.4 97.6ZM207.8 120.3L211.8 115.3L213.6 114.5L215.4 119L215.4 121.8L211.7 120.7ZM130 149.9L132.5 155L133.4 161.7L131.5 165.9L135.8 170.2L141.4 173L146.6 173.2L150 175.9L155.8 178.2L158.9 182L161.9 186L166.4 187.9L170.8 187.9L171 185.7L167.3 184.8L163.6 184.8L162.1 181.1L163 175.2L159.2 173.7L155.4 173.7L156.7 169.3L158.8 164.4L153.8 165.1L152.3 168.8L147 169.7L144.6 168L143.1 162.9L142.6 159.2L140.9 156.7L137.2 153.3L133.2 149.1ZM162.6 163.4L167.2 161.7L173.5 164.1L177.3 166.5L172.5 167L171.6 164.4L166.3 162.7ZM177 169.3L179.1 167.1L183.6 167.1L185.6 169.1L183.4 169.5L181 170.5L178.1 170ZM171.3 186.2L174.9 182.3L178.7 181.1L179.6 183.6L184 181.5L191.4 182.8L195.1 183.3L197.2 186.5L201.6 190L209.1 192.2L211.6 198L212.8 201.3L216.5 202L221.1 205.1L224.9 205.6L230.1 207.6L234.1 210.3L234.7 214.8L231.6 219.9L229 224.9L228.8 230.8L226.7 237.6L222.4 239.6L216.4 244L216.1 248.5L212.8 254.1L210.5 257.5L205 259.2L205.9 263.7L200.7 265.9L196.9 264.5L194.4 259.5L191.1 252.8L188.6 246L188.5 239.3L185.7 232.5L183.4 228.3L179.1 224.9L174.7 219.9L171 214L168.5 209.8L167 206.4L167.6 203L166.9 199.7L169.2 197.1L171 192.9L171 188.7ZM183.3 262L186.9 263.7L188.7 271.2L189.6 277.9L191.2 284.5L195 289.3L199.8 291.7L201.7 293.3L197.8 293L191.8 289.3L187.5 284.5L185.4 279.2L185.3 272.9L184.2 267.9ZM262.1 179.4L264.8 178.1L272.3 178.9L279.7 180.6L287.2 181.5L294.7 182.3L302.2 183.3L309.7 184L317.2 184.8L324.7 185.3L332.2 185.3L337.5 184.5L339.6 181.1L342.5 179.4L345.6 182L346.5 186.2L344.4 190.4L341.4 192.9L339.9 195.4L340 199.7L342.2 202.2L344.4 206.4L346.5 208.9L346.4 214.8L347.6 218.2L347.6 224.9L345.1 228.5L340.5 232.2L338.5 235.1L338.9 240.1L335.3 243.1L334.6 245.7L333 244.3L332.6 239.3L329.8 236.7L327.1 233.4L322.7 231.7L318.3 230.8L313.9 230L308 228.3L305.1 225.8L307 219L306.5 212.3L305 208.1L301.3 203L301.4 198L301.6 194.1L297.8 193.1L294.8 191.1L290.3 190L284.3 192.2L279.8 191.9L275.8 193.1L270.7 189.5L267.3 186L264.8 182.3ZM334.7 246L333.7 249L331.3 251.6L326.8 256.1L323 257.8L318 258.1L313.7 258.8L313.1 257L316.7 256.6L322.5 256.1L326.3 253.6L329.6 250.2L331.3 246.9L332.6 243.5ZM360.9 220.9L362.3 226.3L360.6 230.8L358.6 236.7L356.1 242.6L354.3 243L356 237.6L357.5 232.5L357.6 227.5L359.2 223.4ZM280.1 119.3L284 117.2L288.4 114.9L291.4 111.7L296.1 109.3L295.7 105.7L298.3 104.4L298.4 107.7L300.2 109.8L303.4 110.1L308.3 109L311.8 107.7L311.5 104.9L315 105L313.7 101.9L318.9 101.1L321.2 100.6L316.3 100L312.2 100.6L310.1 97.6L312.9 93.4L309.7 92.1L306.5 96.1L305.7 99.4L307.9 101.4L305.8 105.3L303.4 107.5L301.5 107.2L299 102.5L295.1 103.6L291.7 102.2L290.9 97.9L295.3 95.3L299.3 90.9L302.5 87.6L307 85.8L312.1 84.7L317 86.6L322.7 87.3L329.6 89.5L330.9 91.2L324.1 91.2L324.4 93.7L328.7 94.6L331.9 93.8L334.1 90.9L338 89.5L345 88L352.3 87.3L357.9 85.8L362.7 83.8L367.3 81.8L372.3 80.4L377.1 79L383.5 77.8L393.3 79L402.4 80.7L410.7 81.5L418.2 82.4L426.9 83.4L433.9 83.1L443.8 84.1L454.1 85.2L463.9 86.6L472.6 87.3L481.5 88.7L487.2 92.3L485.9 94.6L486.7 96.9L482.7 99.1L482.7 101.4L485.8 104.6L488.6 108.5L488.4 112L488.5 114.5L481.7 108.5L478.8 103.8L477.8 99.9L471.1 98.4L471 101.3L465.2 101.4L458.4 101.9L457.3 106.1L459.6 109.8L465.7 111.7L470.1 117.4L470.2 121.8L469.6 126.1L467.1 128.1L465.1 129.3L465.1 131.4L464 133.4L468.5 138.1L469.5 141L466.7 142.3L464.5 138.1L460.3 133.9L455.9 132.3L456 128.9L452.2 124.8L445.9 121.5L441.9 117.4L436.7 117.4L429.8 116.9L422.8 116.1L416 115.7L411.3 116.5L404.8 116.5L400.4 118.2L395.4 116.1L389.1 114.1L383.6 110.9L375.9 108.2L368.3 108L364.2 110.1L360.1 112.5L355.6 110.9L349.3 110.9L343.7 113.3L337.8 115.3L331.4 115.7L325.1 116.5L321.8 119.8L319.7 123.1L322.8 125.6L324.4 129.3L322.3 131.4L319 132.3L317.9 134.8L316.7 137.3L315.8 135.1L313.7 132.3L312.8 129.8L308.5 127.3L305.7 124.4L303.6 123.8L302.9 125.9L305.2 128.4L308.4 130.6L310.7 132.3L309.5 134.8L308.6 136.1L308.2 133.1L304.3 130.9L300.6 128.1L298.1 125.8L295.2 127.8L290.7 127.8L287.7 128.6L283.8 127.4L284.6 123.9L283 121.2ZM273.8 127.8L278.1 126.9L283.8 127.4L287 128.8L290.2 129.8L287.8 131.4L283.6 130.6L280.9 132.3L277.4 133.1L276 136.5L274.2 136L274.3 131.4ZM278.7 116.2L286.5 115.1L287.4 112.2L285 109.6L282.7 106.9L282.7 104.6L279.8 103L278 105.3L278.9 108.5L281.4 109.3L279.7 111.7L279.3 113.6L281.3 114.5ZM323.9 132.8L327.8 131.3L331.6 129.8L335.9 130.6L340.9 131.4L343.6 130.3L341.5 127.6L344.9 127.6L350.7 129.3L353.2 130.9L350.7 131.8L347.3 132.3L343.3 132.8L337.7 132.8L332.2 132.6L328.1 133.4L325.6 135.6L324.9 137.6L328.9 139L332.5 139.3L337 138.5L337.7 136.8L331.4 136.8L327.7 135.6ZM354.7 135.6L356.9 137.8L359.9 139L363.4 138.6L365.2 137.3L361.7 137.6L358.2 137.6L355.9 136.5ZM388.6 140.7L393.9 144.5L399.2 148.6L404.2 151.1L409.8 153.8L415.3 155.5L421.2 155.8L425.9 154.1L427.6 152L424.5 151.1L420 153.6L414.9 153.8L408.7 152.1L403.1 149.4L397.9 146.1L393.3 142.3L389.6 139.3ZM394.4 165.1L394.9 168.5L396.5 173.5L399 178.9L401.6 184.5L403.4 186.7L404.2 184.5L403.1 180.3L404.4 177.7L405.6 174.4L408.2 171.8L411 169.8L413.6 167.1L415.4 164.3L413.4 161.4L410.3 160L407.4 160L404.6 160.9L401.8 162.1L399 162.9L396.9 163.8ZM427.7 152.5L431.4 149.9L434 144.9L437.7 143.2L442.1 143.5L447.2 145.7L451.9 146.9L456.1 146.6L461.1 148.2L463.2 150.8L462.3 154.1L461.7 157L458.9 160.9L454.9 162.7L451.5 164.3L448.5 164.3L445.6 164.3L444.4 167.6L446.9 172.2L449.8 176.9L450.6 180.6L448 182.8L444.7 185.3L444.1 182.8L441.4 182L438.9 179.1L437.3 178.1L436.5 181.1L436.1 184.5L437.9 188.7L439.7 189.5L442.1 191.6L443 195.4L443.8 198L441.5 197.1L439.2 194.6L438 190.7L435.1 187L434.7 182L433.4 176.9L432.1 172.7L429.9 172.7L427.8 173.5L426.9 169.3L423.6 165.1L422 161.7L421.8 158.4L418.5 156.7L422.3 154.5L425.7 153.3ZM407.2 184.5L409.5 187L410 189.5L408.2 190.4L407 187.9ZM473.2 143.2L475 140.7L479 140.2L479.3 137.6L481.6 136.5L480.2 132.3L481 130.9L484 133.9L484.5 137.3L486 140.5L484.5 141.2L481.4 142.2L480.5 143.9L477.3 142.5L474.8 143.2ZM474.1 147.7L475.8 147.4L475 144.4L472.3 144.2ZM476 144.4L478.4 143.4L478.4 144.4L477.1 145.2ZM479.3 130.6L480 128.9L482.9 129.8L484.5 127.6L482.8 126.1L477.3 124.1L478.7 127.3L477.7 128.6ZM465.8 110.1L470.2 113.3L474 117.4L477 122.3L474.6 120.7L470 114.9ZM464.9 158L465.7 161.7L465 163.2L463.8 160.9L464.3 158.4ZM448.2 168.1L449.6 169.7L451.1 168L450.2 166.8L448.8 167.1ZM500.6 218.7L501.5 224.6L503.7 226.6L503.9 232.2L507 234.7L508.6 238.9L510.8 242.6L509.8 247.7L506.5 253.6L502.1 257.8L497.3 263.4L493.1 264.5L490.4 266.2L488.7 264.9L486.7 265.9L484.2 264.9L486.1 262L489.8 261.7L494.1 260.3L498.7 257L502.8 252.8L505.9 247.7L506.1 244.3L504.5 241L502.4 236.7L501.3 231.7L500 227.5L498.8 224.1L499.2 221.2ZM480.5 225.4L481.9 222.1L485.5 219.9L489 221.1L491.7 221.2L490.1 224.1L489.2 226.1L485.1 227.5L482.1 227.5ZM471.1 229.2L473 227L476.4 223.9L478.3 225.8L476.7 228.8L473.4 230.5ZM491.7 228L496.1 229.8L497.6 227.5L497.2 230L493.9 231.7L491.7 230ZM452.9 250.7L456.2 251.6L457.8 254.9L460.7 257.3L457.5 258.1L454.1 259.7L450.4 258.7L451.2 256.1ZM451.3 198L451.7 200.5L452.8 203L453.1 205.4L455.3 206.2L457.2 206.1L459.5 206.4L461.7 207.2L462.5 205.2L463.1 202.7L464.2 201.3L464.9 199L466.4 198.8L464.5 196.8L464.2 194.8L465.5 193.1L466.5 191.9L464.7 190.6L463.4 188.9L462.6 188.7L461.6 190.4L460 192.1L458.7 193.1L457.3 195.1L454.9 196.1L453.3 197.6L452.2 197.1ZM430.5 191.1L433.8 191.7L435.7 194.1L438.5 196.8L440 197.6L442.3 199.5L443.5 202.2L444.5 203.9L446.7 205.6L446.5 208.1L446.3 210.3L445.5 209.8L444 209.8L441.1 206.9L438.4 202.2L436 197.6L434 195.8L431.8 193.6ZM445.2 212L446.5 210.4L447.7 210.8L450.4 211.8L453 212.1L454 211.3L456.5 212.6L458.9 213.6L459 215.2L456.8 214.5L453.8 214.3L450.8 213.5L448.6 213.5L447 212.8ZM466.8 209.1L467 206.4L466 205.2L466.8 202.5L467.6 201.8L467.9 199.3L469.1 198.6L471.7 198.8L473.2 199L475.1 198L475.7 198.1L474.4 199.8L472.4 199.7L469.4 199.8L468.2 200.2L468.1 202L469.1 202.9L470.3 202L472.1 202L473 202L471.3 203.5L470.3 203.9L471.2 205.9L471.7 207.2L472.1 208.1L470.7 208.8L470.1 208.6L470.1 207.2L469.3 205.1L468.1 205.6L468.3 207.2L468.2 209.8L467.3 209.9ZM465.9 169.3L467.4 169.5L468.4 169.3L468.7 171.8L468.1 173.5L468.8 175.6L470.2 176.4L472.1 177.2L472.1 178.4L472.7 179.3L471.4 178.6L470.3 178.2L468.8 177.1L467.8 177.4L467.1 176.6L467.5 175.9L466.9 176.1L466 174.7L466 173.4L465.9 171.8L465.9 170.8ZM470.6 188.9L470.8 187.4L472.2 186L473 186.8L473.6 186.7L474.3 186.2L475.4 185.3L475.3 184L476.5 185.3L477.1 187.9L476.9 188.9L476.8 189.9L475.9 188.7L475.6 189.7L475.7 191.1L475.4 190.2L473.9 190L473.7 188.4L472.6 187.5L471.6 188ZM473 179.4L474.5 179.4L475.4 181.6L474.8 183.3L474.2 183.3L473.4 181.5ZM469.7 180.6L471.4 181.1L472.2 182.3L472.1 184.8L471 184.7L470.6 183L469.8 182.6ZM463.1 186.3L464.9 184.8L466.2 182.8L466.4 181.5L465.8 182.6L464.4 184L463.2 185.7ZM484.5 201.8L486.8 201.2L489 201.8L489.6 204.7L491.1 206.1L493.4 203.9L499 204.7L503.3 206.4L506.4 209.3L508 211.8L509.2 211.8L509.6 214L511.1 215.8L513.3 217.9L511.9 218.4L507.9 216.5L504.9 213.6L502.5 214.5L501.7 215.8L498.7 215.8L497.9 214.8L495 214.7L494.4 212.8L495.7 212L494.7 209.8L491.8 208.3L489.5 207.2L487.3 207.4L486.3 205.4L488.1 204.7L485.9 204L484.4 203ZM486.4 269.1L488.4 269.7L491.2 269.4L489.9 271.2L488 273.2L485.9 273.9L484.9 273.7L485.4 271.6L485.7 270.1ZM532.4 258.5L532.9 259.5L533.7 260L532.8 262.5L534 262L533.7 263.9L536.8 264L535 265.7L532.6 267.1L527.5 270.6L527.2 270.1L529.4 267.7L528.4 266.7L529.2 266.2L531 264.5L532.3 262.5L532.3 259.8ZM525.4 268.7L525.1 270.1L526.9 269.6L526 270.7L524.2 271.9L521.3 274.2L518.1 275.2L515.2 277.7L512.5 278.9L510.9 278.9L510.4 278.2L509.7 277.5L513.1 275.6L515.7 274.4L520.7 271.9L522.2 270.7L524.2 269.2ZM472.3 217.9L474.7 215.7L477.8 214.7L478 215.2L475.4 216.7L473 217.9ZM461.3 214.7L462.8 214.5L465.8 214.7L468.8 214.7L471.8 214.5L471.4 215.3L467.2 215.5L462.7 215.7L461.2 215.5ZM479.1 197.5L479.9 196.8L481 198.8L480.3 200L480 201.8L479.4 199.7ZM479.8 205.6L482.1 205.2L484 206.1L482.1 206.4L479.8 206.2ZM510.2 209.8L512.8 209.1L515.1 207.6L516.3 207.7L515.4 209.8L512.6 211L510.3 210.4ZM550.4 230L552.2 229.8L552 231L550.2 231.2ZM529.5 234.5L531.4 235.9L532.9 238.1L532.2 238.1L529.9 235.9ZM123.1 119.2L121 118.5L119.1 115.4L120.6 115.1L122.3 116.5L123.3 117.9ZM170.9 169.5L173 169.3L174.1 170.2L172.6 170.5L171 170ZM187.5 169.3L189.9 169.5L189.5 170.2L187.4 170.2ZM473.3 143.4L474.6 143.9L474.9 144.5L475.6 145.2L475.6 146.7L475.4 147.7L475.1 148.2L474.1 147.7L473.5 146.2L472.5 145.4L471.8 144.4L472.8 143.9ZM475.6 143.2L477.4 142.7L478.7 143.5L478.4 144.4L477.3 144L477.1 145.4L475.8 144.4ZM197.9 288.8L198.6 289.6L200 291.1L203.4 292L202.1 292.8L199.7 293.1L197.7 292.8L194.6 291.5L196.1 290.4L196.2 289.1Z" fill="#c4bd58" opacity="0.5" filter="url(#tx)"/>
</g>
<path d="M349.4 123.9L350.5 123.1L352.8 121.8L354.8 121.8L356.9 122.3L357.6 124.3L355.2 125.6L354.4 125.9L355.9 127.1L358 128.4L358.9 130.6L360 133.1L361.6 134.8L362.1 137.3L362.4 138.3L359.9 138.8L356.8 137.5L354.9 135.8L355.1 134.3L355.7 132.6L356.2 132.4L354.8 131.9L353.1 130.1L351.1 128.1L350.7 126.4L349.3 125.3ZM364.3 122.3L367.6 122.1L369.1 124.4L367.8 126.8L365.4 125.6ZM163.3 122L169.2 119L173.4 120.2L173 122.3L169.8 122.3L166.7 121.8ZM165.9 129.8L167.9 129.8L171.9 123.8L173.5 123.1L176.7 123.5L178 125.4L174.9 127.8L173.8 127.8L173.2 125.6L172.6 123.6L170 123.6L167.1 126.4ZM171.8 130.4L178.4 128.4L182.4 127.3L182.8 126.3L178.3 126.8L178.3 127.8L174.9 128.8L172.6 129.4ZM335 200L338.3 200L338.5 202.2L337.4 204.7L335.3 204.9L334.8 202.2ZM419.8 114L421.6 112.5L423.2 109.3L422.6 107.2L421.8 107.5L421.8 110.9L420.3 113.5Z" fill="#f4f6f2" filter="url(#b1)"/>
</g>
<ellipse cx="194" cy="212.4" rx="22" ry="11.6" fill="#96957a" fill-opacity="0.86" stroke="#3a3a2c" stroke-width="1.2"/>
<ellipse cx="186.9" cy="217.2" rx="6.7" ry="4.7" fill="#a09f84" fill-opacity="0.6" stroke="#45453a" stroke-width="1.1"/>
<ellipse cx="206" cy="216.2" rx="9" ry="6.9" fill="#a09f84" fill-opacity="0.6" stroke="#45453a" stroke-width="1.1"/>
<ellipse cx="298.3" cy="130" rx="23.3" ry="7.1" fill="#c9c9c0" fill-opacity="0.75" stroke="#7a7a72" stroke-width="0.9"/>
<ellipse cx="298.3" cy="180.1" rx="23.6" ry="3.7" fill="#d4d4d0" fill-opacity="0.8" stroke="#8a8a88" stroke-width="0.9"/>
<circle cx="184.5" cy="208.6" r="1.6" fill="#d86a6a"/>
<circle cx="199.2" cy="205.8" r="1.6" fill="#d86a6a"/>
<circle cx="206.1" cy="206.2" r="1.6" fill="#d86a6a"/>
<circle cx="151.3" cy="108.5" r="1.9" fill="#fff" stroke="#777" stroke-width="0.8"/>
<circle cx="148.8" cy="110.6" r="1.9" fill="#fff" stroke="#777" stroke-width="0.8"/>
<circle cx="139.7" cy="116.1" r="1.9" fill="#fff" stroke="#777" stroke-width="0.8"/>
<circle cx="141.8" cy="124" r="1.9" fill="#fff" stroke="#777" stroke-width="0.8"/>
<circle cx="158.1" cy="117" r="1.9" fill="#fff" stroke="#777" stroke-width="0.8"/>
<circle cx="166.5" cy="120.1" r="1.9" fill="#fff" stroke="#777" stroke-width="0.8"/>
<circle cx="179.8" cy="119.3" r="1.9" fill="#fff" stroke="#777" stroke-width="0.8"/>
<circle cx="193.4" cy="117.6" r="1.9" fill="#fff" stroke="#777" stroke-width="0.8"/>
<circle cx="120.8" cy="132.6" r="1.9" fill="#fff" stroke="#777" stroke-width="0.8"/>
<circle cx="122" cy="137" r="1.9" fill="#fff" stroke="#777" stroke-width="0.8"/>
<circle cx="133.6" cy="133.3" r="1.9" fill="#fff" stroke="#777" stroke-width="0.8"/>
<circle cx="138.5" cy="134.7" r="1.9" fill="#fff" stroke="#777" stroke-width="0.8"/>
<circle cx="129.8" cy="137.2" r="1.9" fill="#fff" stroke="#777" stroke-width="0.8"/>
<circle cx="136.8" cy="139.3" r="1.9" fill="#fff" stroke="#777" stroke-width="0.8"/>
<circle cx="136.8" cy="142.8" r="1.9" fill="#fff" stroke="#777" stroke-width="0.8"/>
<circle cx="121.4" cy="143.6" r="1.9" fill="#fff" stroke="#777" stroke-width="0.8"/>
<circle cx="184.8" cy="130" r="1.9" fill="#fff" stroke="#777" stroke-width="0.8"/>
<circle cx="177.2" cy="136.8" r="1.9" fill="#fff" stroke="#777" stroke-width="0.8"/>
<circle cx="166.5" cy="143.1" r="1.9" fill="#fff" stroke="#777" stroke-width="0.8"/>
<circle cx="144.9" cy="150.4" r="1.9" fill="#fff" stroke="#777" stroke-width="0.8"/>
<circle cx="161.2" cy="182.7" r="1.9" fill="#fff" stroke="#777" stroke-width="0.8"/>
<circle cx="266.2" cy="175.5" r="1.9" fill="#fff" stroke="#777" stroke-width="0.8"/>
<circle cx="286.6" cy="190.4" r="1.9" fill="#fff" stroke="#777" stroke-width="0.8"/>
<circle cx="337" cy="93.5" r="1.9" fill="#fff" stroke="#777" stroke-width="0.8"/>
<circle cx="287" cy="113.5" r="1.9" fill="#fff" stroke="#777" stroke-width="0.8"/>
<circle cx="295.7" cy="126.2" r="1.9" fill="#fff" stroke="#777" stroke-width="0.8"/>
<circle cx="288.7" cy="129.5" r="1.9" fill="#fff" stroke="#777" stroke-width="0.8"/>
<circle cx="286.2" cy="132" r="1.9" fill="#fff" stroke="#777" stroke-width="0.8"/>
<circle cx="280.8" cy="137.2" r="1.9" fill="#fff" stroke="#777" stroke-width="0.8"/>
<circle cx="320.2" cy="137" r="1.9" fill="#fff" stroke="#777" stroke-width="0.8"/>
<circle cx="300.1" cy="140.7" r="1.9" fill="#fff" stroke="#777" stroke-width="0.8"/>
<circle cx="334.1" cy="141.7" r="1.9" fill="#fff" stroke="#777" stroke-width="0.8"/>
<circle cx="436.3" cy="114.1" r="1.9" fill="#fff" stroke="#777" stroke-width="0.8"/>
<circle cx="430.4" cy="117.2" r="1.9" fill="#fff" stroke="#777" stroke-width="0.8"/>
<circle cx="445.3" cy="128.9" r="1.9" fill="#fff" stroke="#777" stroke-width="0.8"/>
<circle cx="440.8" cy="134.1" r="1.9" fill="#fff" stroke="#777" stroke-width="0.8"/>
<circle cx="452" cy="161.8" r="1.9" fill="#fff" stroke="#777" stroke-width="0.8"/>
<circle cx="500.5" cy="244.2" r="1.9" fill="#fff" stroke="#777" stroke-width="0.8"/>
<circle cx="495.3" cy="263.2" r="1.9" fill="#fff" stroke="#777" stroke-width="0.8"/>
<circle cx="454.2" cy="257" r="1.9" fill="#fff" stroke="#777" stroke-width="0.8"/>
<circle cx="330.9" cy="242.7" r="1.9" fill="#fff" stroke="#777" stroke-width="0.8"/>
<circle cx="330.6" cy="245.6" r="1.9" fill="#fff" stroke="#777" stroke-width="0.8"/>
<circle cx="108.9" cy="100.1" r="2.05" fill="#e0261e"/>
<circle cx="123.6" cy="103.6" r="2.05" fill="#e0261e"/>
<circle cx="129.2" cy="117.6" r="2.05" fill="#e0261e"/>
<circle cx="125.1" cy="122.8" r="2.05" fill="#e0261e"/>
<circle cx="122.2" cy="130.3" r="2.05" fill="#e0261e"/>
<circle cx="127.8" cy="134.1" r="2.05" fill="#e0261e"/>
<circle cx="121.4" cy="140.2" r="2.05" fill="#e0261e"/>
<circle cx="122" cy="148.9" r="2.05" fill="#e0261e"/>
<circle cx="134.5" cy="144.9" r="2.05" fill="#e0261e"/>
<circle cx="139.3" cy="139.9" r="2.05" fill="#e0261e"/>
<circle cx="142" cy="113.5" r="2.05" fill="#e0261e"/>
<circle cx="158.1" cy="128.3" r="2.05" fill="#e0261e"/>
<circle cx="164.1" cy="121.7" r="2.05" fill="#e0261e"/>
<circle cx="154.6" cy="140.5" r="2.05" fill="#e0261e"/>
<circle cx="169.7" cy="140.2" r="2.05" fill="#e0261e"/>
<circle cx="168.5" cy="146" r="2.05" fill="#e0261e"/>
<circle cx="180.6" cy="131.4" r="2.05" fill="#e0261e"/>
<circle cx="190.3" cy="127.4" r="2.05" fill="#e0261e"/>
<circle cx="169.5" cy="185.8" r="2.05" fill="#e0261e"/>
<circle cx="208.6" cy="193.9" r="2.05" fill="#e0261e"/>
<circle cx="173.7" cy="202.2" r="2.05" fill="#e0261e"/>
<circle cx="211.2" cy="203.6" r="2.05" fill="#e0261e"/>
<circle cx="184.5" cy="224.2" r="2.05" fill="#e0261e"/>
<circle cx="228" cy="231.3" r="2.05" fill="#e0261e"/>
<circle cx="189.5" cy="271.1" r="2.05" fill="#e0261e"/>
<circle cx="263.8" cy="175.5" r="2.05" fill="#e0261e"/>
<circle cx="299.2" cy="100.9" r="2.05" fill="#e0261e"/>
<circle cx="309.1" cy="113.7" r="2.05" fill="#e0261e"/>
<circle cx="295.1" cy="120.1" r="2.05" fill="#e0261e"/>
<circle cx="305.6" cy="120.1" r="2.05" fill="#e0261e"/>
<circle cx="347.5" cy="127.9" r="2.05" fill="#e0261e"/>
<circle cx="333.5" cy="134.5" r="2.05" fill="#e0261e"/>
<circle cx="325.4" cy="137.6" r="2.05" fill="#e0261e"/>
<circle cx="317.8" cy="133.3" r="2.05" fill="#e0261e"/>
<circle cx="283.5" cy="136.4" r="2.05" fill="#e0261e"/>
<circle cx="280.4" cy="145.4" r="2.05" fill="#e0261e"/>
<circle cx="298.1" cy="140.7" r="2.05" fill="#e0261e"/>
<circle cx="371.4" cy="162.3" r="2.05" fill="#e0261e"/>
<circle cx="391.1" cy="163.8" r="2.05" fill="#e0261e"/>
<circle cx="351.3" cy="169.9" r="2.05" fill="#e0261e"/>
<circle cx="337" cy="94.9" r="2.05" fill="#e0261e"/>
<circle cx="420.8" cy="115.1" r="2.05" fill="#e0261e"/>
<circle cx="468.5" cy="122.7" r="2.05" fill="#e0261e"/>
<circle cx="445.6" cy="134.1" r="2.05" fill="#e0261e"/>
<circle cx="466.4" cy="144.2" r="2.05" fill="#e0261e"/>
<circle cx="438.3" cy="161.1" r="2.05" fill="#e0261e"/>
<circle cx="407.7" cy="188.8" r="2.05" fill="#e0261e"/>
<circle cx="407.7" cy="189.1" r="2.05" fill="#e0261e"/>
<circle cx="461.6" cy="194" r="2.05" fill="#e0261e"/>
<circle cx="456.9" cy="199.2" r="2.05" fill="#e0261e"/>
<circle cx="442.4" cy="207" r="2.05" fill="#e0261e"/>
<circle cx="499.7" cy="235.3" r="2.05" fill="#e0261e"/>
<circle cx="503.5" cy="242.5" r="2.05" fill="#e0261e"/>
<circle cx="531" cy="266.9" r="2.05" fill="#e0261e"/>
<circle cx="520.3" cy="273.7" r="2.05" fill="#e0261e"/>
<circle cx="333.5" cy="200.5" r="2.05" fill="#e0261e"/>
<circle cx="311.7" cy="245.4" r="2.05" fill="#e0261e"/>
<circle cx="333.5" cy="244.5" r="2.05" fill="#e0261e"/>
<circle cx="141.7" cy="132.7" r="2.05" fill="#050505"/>
<circle cx="117.9" cy="143.6" r="2.05" fill="#050505"/>
<circle cx="130.1" cy="143.4" r="2.05" fill="#050505"/>
<circle cx="159.5" cy="137" r="2.05" fill="#050505"/>
<circle cx="146.7" cy="147.7" r="2.05" fill="#050505"/>
<circle cx="299.2" cy="124" r="2.05" fill="#050505"/>
<circle cx="306.8" cy="122.1" r="2.05" fill="#050505"/>
<circle cx="398.9" cy="112.6" r="2.05" fill="#050505"/>
<circle cx="341.7" cy="179.1" r="2.05" fill="#050505"/>
<circle cx="446.7" cy="131.4" r="2.05" fill="#050505"/>
<circle cx="444.7" cy="157.6" r="2.05" fill="#050505"/>
<circle cx="459.6" cy="155.9" r="2.05" fill="#050505"/>
<circle cx="441.4" cy="162" r="2.05" fill="#050505"/>
<circle cx="456.6" cy="257" r="2.05" fill="#050505"/>
<circle cx="497.9" cy="257.7" r="2.05" fill="#050505"/>
<circle cx="194" cy="212.8" r="2.05" fill="#050505"/>
<g transform="translate(162.6 512.6)"><g clip-path="url(#gl)">
<rect x="-151.4" y="-80" width="302.8" height="160" fill="#fbe09a"/>
<path d="M-151.4 -57.4H151.4V-45H-151.4Z" fill="#f9cc68"/>
<path d="M-151.4 -63.9H151.4V-55.7H-151.4Z" fill="#f6ad35"/>
<path d="M-151.4 -75.8H151.4V-63.9H-151.4Z" fill="#f28a3a"/>
<path d="M-102.1 -39.4L-102 -41.7L-104.3 -43.8L-108.7 -45.4L-115 -46.4L-122.5 -46.8L-130 -46.4L-131 -45.4L-132.5 -43.8L-134.3 -41.7L-136.2 -39.4L-138 -37.1L-139.4 -35L-140.5 -33.4L-141.2 -32.3L-133.5 -31.9L-124.8 -32.3L-116.6 -33.4L-109.7 -35L-104.8 -37.1ZM136.2 -39.4L133.4 -41.7L128.9 -43.8L123.5 -45.4L117.5 -46.4L111.7 -46.8L106.4 -46.4L102.1 -45.4L99.2 -43.8L97.9 -41.7L98.3 -39.4L100.6 -37.1L104.4 -35L109.5 -33.4L115.5 -32.3L121.7 -31.9L127.6 -32.3L132.5 -33.4L135.7 -35L137 -37.1ZM-35.6 -39.4L-35.8 -41.1L-37.4 -42.7L-40 -43.9L-43.5 -44.7L-47.4 -45L-51.6 -44.7L-55.6 -43.9L-59 -42.7L-61.5 -41.1L-62.8 -39.4L-62.8 -37.7L-61.3 -36.1L-58.6 -34.9L-54.9 -34.1L-50.6 -33.8L-46.2 -34.1L-42.2 -34.9L-38.9 -36.1L-36.6 -37.7Z" fill="#f9cc68"/>
<path d="M-90 28.2L-91.3 26.7L-94.1 25.4L-98.3 24.4L-103.5 23.7L-109 23.5L-114.4 23.7L-119.2 24.4L-122.7 25.4L-124.8 26.7L-125.1 28.2L-123.5 29.6L-120.5 30.9L-116.2 32L-111 32.7L-105.6 32.9L-100.4 32.7L-95.8 32L-92.4 30.9L-90.4 29.6ZM-79.5 48.6L-81.7 47.2L-86.4 45.9L-93.2 44.9L-101.4 44.3L-110.2 44L-118.6 44.3L-125.8 44.9L-130.5 45.9L-129.2 47.2L-127.7 48.6L-126.2 50L-124.8 51.2L-118.3 52.2L-110.4 52.8L-102.1 53L-94.4 52.8L-87.7 52.2L-82.7 51.2L-79.8 50ZM-15.1 46.8L-15.8 45.4L-17.4 44.1L-19.8 43.1L-22.8 42.4L-26 42.2L-29.2 42.4L-32 43.1L-34 44.1L-35.2 45.4L-35.3 46.8L-34.4 48.2L-32.6 49.4L-30.2 50.4L-27.3 51.1L-24.3 51.3L-21.3 51.1L-18.7 50.4L-16.7 49.4L-15.4 48.2ZM81.6 48.6L81.3 47.5L78.9 46.5L74.5 45.7L68.7 45.1L62 45L55.2 45.1L48.9 45.7L43.8 46.5L40.4 47.5L39 48.6L39.7 49.7L42.3 50.7L46.6 51.5L52.1 52L58.4 52.2L64.9 52L71 51.5L76.1 50.7L79.8 49.7ZM27 53.9L26.2 53.1L23.5 52.4L19.1 51.8L13.3 51.4L6.9 51.3L0.5 51.4L-5.3 51.8L-9.8 52.4L-12.6 53.1L-13.5 53.9L-12.4 54.7L-9.5 55.5L-5 56L0.5 56.4L6.6 56.5L12.7 56.4L18.2 56L22.8 55.5L25.8 54.7ZM-101.9 59L-103.5 58.3L-106.2 57.6L-109.8 57L-113.9 56.6L-118.1 56.5L-118 56.6L-117.5 57L-116.7 57.6L-115.7 58.3L-114.7 59L-113.6 59.8L-112.6 60.5L-111.7 61L-111.2 61.4L-111 61.5L-107.4 61.4L-104.4 61L-102.4 60.5L-101.6 59.8Z" fill="#fbf5c5"/>
<path d="M-151.4 57.4H151.4V75.8H-151.4Z" fill="#fbda8c"/>
<path d="M9.2 62.3L7.9 61.6L4 60.9L-2.2 60.3L-10.1 60L-18.9 59.9L-27.6 60L-35.4 60.3L-41.3 60.9L-44.9 61.6L-45.8 62.3L-44 63.1L-39.7 63.7L-33.5 64.2L-25.9 64.6L-17.7 64.7L-9.5 64.6L-2.1 64.2L3.8 63.7L7.7 63.1ZM95.6 59L95 58.4L92 57.8L86.8 57.3L79.8 57L71.8 56.9L63.7 57L56.2 57.3L50.2 57.8L46.2 58.4L44.6 59L45.5 59.7L48.7 60.3L53.9 60.7L60.6 61L68.2 61.1L76 61L83.3 60.7L89.3 60.3L93.6 59.7Z" fill="#f9cc68"/>
<path d="M45.3 -69.8L42.6 -71.3L38.1 -72.4L32.3 -73.2L25.8 -73.8L19 -74L12.5 -73.8L6.6 -73.2L1.8 -72.4L-1.4 -71.3L-2.7 -69.8L-1.5 -68.3L2 -66.9L7.8 -65.7L15.3 -64.9L23.6 -64.7L31.6 -64.9L38.5 -65.7L43.3 -66.9L45.7 -68.3ZM-87.8 -67L-86.6 -68.1L-86.6 -69.1L-88 -69.8L-90.7 -70.3L-94.4 -70.5L-94.8 -70.3L-95.9 -69.8L-97.6 -69.1L-99.7 -68.1L-101.9 -67L-104 -65.8L-105.9 -64.7L-107.4 -63.9L-108.3 -63.3L-108.6 -63.1L-103.6 -63.3L-98.6 -63.9L-94 -64.7L-90.3 -65.8ZM101.9 -67L99.2 -68.1L95.5 -69.1L91.5 -69.8L87.5 -70.3L83.9 -70.5L81 -70.3L78.9 -69.8L78 -69.1L78.1 -68.1L79.3 -67L81.5 -65.8L84.6 -64.7L88.5 -63.9L92.5 -63.3L96.5 -63.1L100 -63.3L102.5 -63.9L103.7 -64.7L103.5 -65.8Z" fill="#ea5d2a"/>
<path d="M-62.2 -0.9L-64 -1.7L-69.3 -2.3L-77.6 -2.8L-88 -3.2L-99.5 -3.3L-111 -3.2L-121.5 -2.8L-129.7 -2.3L-135.1 -1.7L-136.9 -0.9L-135.1 -0.2L-129.8 0.4L-121.5 1L-111.1 1.3L-99.6 1.4L-88 1.3L-77.6 1L-69.4 0.4L-64.1 -0.2Z" fill="#f9cc68" opacity="0.6"/>
<g clip-path="url(#ipl)">
<rect x="-151.4" y="-80" width="302.8" height="160" fill="#f9cc68"/>
<path d="M-151.4 55.7H151.4V75.8H-151.4Z" fill="#fbd98a"/>
<path d="M-151.4 67H151.4V75.8H-151.4ZM79.3 67L78.9 65.8L74.5 64.7L66.3 63.9L55.1 63.3L42.2 63.1L29.1 63.3L17.2 63.9L7.9 64.7L2 65.8L0 67L1.9 68.1L7.2 69.1L15.4 69.8L25.5 70.3L36.7 70.5L48.2 70.3L59.2 69.8L68.6 69.1L75.7 68.1Z" fill="#f9cc68"/>
<path d="M-151.4 -55.7H151.4V-41.3H-151.4ZM-77.3 -37.6L-76.7 -39.9L-77.2 -41.9L-78.7 -43.6L-81 -44.6L-83.9 -45L-87.3 -44.6L-90.8 -43.6L-94.1 -41.9L-96.8 -39.9L-98.7 -37.6L-99.3 -35.3L-98.7 -33.2L-96.9 -31.5L-94.3 -30.4L-91 -30.1L-87.4 -30.4L-84 -31.5L-81 -33.2L-78.7 -35.3ZM83.2 -39.4L80.7 -41.4L75.6 -43.2L68.4 -44.7L59.8 -45.6L50.8 -45.9L41.9 -45.6L34 -44.7L27.8 -43.2L23.9 -41.4L22.7 -39.4L24.5 -37.4L29.1 -35.6L36.2 -34.1L45 -33.2L54.8 -32.9L64.3 -33.2L72.7 -34.1L79.1 -35.6L82.7 -37.4ZM24.3 -22.6L23 -24.9L19.4 -27L14 -28.6L7.3 -29.7L0 -30.1L-7.3 -29.7L-14 -28.6L-19.4 -27L-23 -24.9L-24.3 -22.6L-23.2 -20.2L-19.8 -18.1L-14.4 -16.5L-7.6 -15.4L-0 -15L7.6 -15.4L14.4 -16.5L19.8 -18.1L23.2 -20.2ZM-43.8 7.5L-44.4 4.9L-45.9 2.5L-48.1 0.7L-50.9 -0.5L-53.9 -0.9L-57 -0.5L-59.8 0.7L-62 2.5L-63.3 4.9L-63.7 7.5L-63.1 10.1L-61.5 12.5L-59.2 14.4L-56.3 15.6L-53.2 16L-50.2 15.6L-47.6 14.4L-45.5 12.5L-44.2 10.1ZM17.9 20.7L17.5 18.3L16.4 16.3L14.7 14.6L12.4 13.5L9.9 13.2L7.3 13.5L5 14.6L3.2 16.3L2 18.3L1.6 20.7L2 23L3.1 25.1L4.9 26.8L7.1 27.8L9.6 28.2L12 27.8L14.3 26.8L16.2 25.1L17.4 23ZM107.4 23.5L107.4 21.7L106.6 20.2L105 18.9L102.9 18.1L100.4 17.9L97.9 18.1L95.5 18.9L93.4 20.2L92 21.7L91.3 23.5L91.2 25.2L91.9 26.8L93.4 28.1L95.3 28.9L97.7 29.1L100.2 28.9L102.7 28.1L104.9 26.8L106.5 25.2Z" fill="#f8bd4e"/>
<path d="M-151.4 -63.9H151.4V-51.3H-151.4ZM-60.3 -48.6L-60.3 -50.3L-61.9 -51.8L-65 -52.9L-69.2 -53.7L-74.2 -53.9L-79.7 -53.7L-85 -52.9L-89.8 -51.8L-93.6 -50.3L-95.8 -48.6L-96.3 -46.9L-94.7 -45.4L-91.5 -44.2L-86.9 -43.4L-81.3 -43.1L-75.5 -43.4L-69.9 -44.2L-65.3 -45.4L-62 -46.9ZM93.6 -51.3L90.6 -52.6L84.7 -53.9L76.5 -54.8L66.7 -55.4L56.3 -55.7L46.2 -55.4L37.2 -54.8L30.1 -53.9L25.6 -52.6L24.3 -51.3L26.3 -49.9L31.6 -48.7L39.8 -47.7L50 -47L61.2 -46.8L72.2 -47L81.8 -47.7L89 -48.7L93 -49.9Z" fill="#f6ad35"/>
<path d="M-151.4 -75.8H151.4V-60.7H-151.4ZM-51.5 -58.2L-51.5 -59.5L-52.9 -60.6L-55.7 -61.5L-59.5 -62.1L-64.1 -62.3L-69 -62.1L-73.8 -61.5L-78.2 -60.6L-81.6 -59.5L-83.7 -58.2L-84.1 -56.9L-83 -55.7L-80.1 -54.7L-75.9 -54.1L-70.9 -53.9L-65.5 -54.1L-60.4 -54.7L-56.2 -55.7L-53.1 -56.9ZM99.8 -60.7L96.6 -61.7L90.3 -62.6L81.4 -63.3L70.9 -63.8L59.6 -63.9L48.7 -63.8L38.9 -63.3L31.3 -62.6L26.4 -61.7L24.9 -60.7L27.1 -59.7L32.9 -58.7L41.8 -58L52.8 -57.5L65 -57.4L76.9 -57.5L87.2 -58L95 -58.7L99.3 -59.7Z" fill="#f28a3a"/>
<path d="M-41.3 -67L-40.9 -68.5L-42.1 -69.9L-44.7 -70.9L-48.5 -71.5L-53.3 -71.7L-58.6 -71.5L-64.2 -70.9L-69.6 -69.9L-74.3 -68.5L-77.6 -67L-78.9 -65.3L-78.2 -63.8L-75.2 -62.6L-70.6 -61.8L-64.8 -61.5L-58.5 -61.8L-52.4 -62.6L-47.2 -63.8L-43.4 -65.3ZM75.4 -67.7L72.4 -68.8L67.4 -69.8L61 -70.5L53.8 -71L46.4 -71.2L39.4 -71L33.3 -70.5L28.6 -69.8L25.7 -68.8L25.1 -67.7L26.9 -66.5L31.1 -65.5L37.4 -64.6L45.2 -64.1L53.7 -63.9L61.8 -64.1L68.6 -64.6L73.4 -65.5L75.7 -66.5Z" fill="#ea5d2a"/>
<path d="M-22.1 -65.4L-21.6 -67.8L-21.7 -69.7L-22.5 -71.2L-24 -72L-26 -72.3L-28.4 -72L-31 -71.2L-33.8 -69.7L-36.4 -67.8L-38.4 -65.4L-39.4 -63L-39.4 -60.8L-38.4 -59L-36.4 -57.8L-33.8 -57.4L-30.8 -57.8L-27.9 -59L-25.3 -60.8L-23.4 -63Z" fill="#f9cc68"/>
</g>
<path d="M-17.6 -51.7L-18 -54.2L-19.8 -56.3L-22.8 -58L-26.8 -59.1L-31.4 -59.5L-36.2 -59.1L-41 -58L-45.3 -56.3L-48.7 -54.2L-50.7 -51.7L-51 -49.2L-49.6 -47L-46.4 -45.2L-41.8 -44L-36.5 -43.6L-30.9 -44L-25.8 -45.2L-21.6 -47L-18.8 -49.2Z" fill="#fbf5c5" filter="url(#bi)"/>
<path d="M-23.7 -52.2L-23.8 -53.7L-24.9 -55L-26.8 -56L-29.4 -56.7L-32.3 -56.9L-35.5 -56.7L-38.5 -56L-41.1 -55L-43.2 -53.7L-44.3 -52.2L-44.4 -50.7L-43.5 -49.3L-41.5 -48.2L-38.8 -47.5L-35.5 -47.2L-32.1 -47.5L-29 -48.2L-26.4 -49.3L-24.6 -50.7Z" fill="#cbc9bf"/>
<rect x="-151.4" y="-80" width="302.8" height="160" fill="url(#stA)"/>
<use href="#ipland" fill="none" stroke="#17130c" stroke-width="1.05" stroke-linejoin="round"/>
<path d="M27.4 -42.7L28.1 -43.1L29.4 -43.9L30.5 -43.9L31.7 -43.6L31.9 -42.5L30.6 -41.7L30.1 -41.6L30.9 -40.9L32 -40.2L32.4 -39L32.9 -37.6L33.7 -36.6L33.9 -35.2L34.1 -34.7L32.6 -34.4L31 -35.1L30 -36.1L30.2 -36.9L30.5 -37.8L30.8 -37.9L30.1 -38.2L29.2 -39.2L28.2 -40.4L28.1 -41.3L27.3 -41.9Z" fill="none" stroke="#17130c" stroke-width="0.7"/>
</g></g>
<g transform="translate(470.2 512.6)"><g clip-path="url(#gl)">
<rect x="-151.4" y="-80" width="302.8" height="160" fill="#f4923e"/>
<path d="M-151.4 -33.8H151.4V4.7H-151.4Z" fill="#ea5d2a"/>
<path d="M-10.8 -1.9L-11.7 -5.4L-14.2 -8.5L-18.2 -11L-23.2 -12.6L-28.8 -13.2L-34.4 -12.6L-39.5 -11L-43.6 -8.5L-46.3 -5.4L-47.3 -1.9L-46.4 1.6L-43.8 4.7L-39.7 7.2L-34.5 8.8L-28.9 9.4L-23.3 8.8L-18.3 7.2L-14.3 4.7L-11.7 1.6ZM141.5 -13.2L139.6 -16.1L135.3 -18.7L129 -20.8L121.4 -22.1L113.3 -22.6L105.4 -22.1L98.4 -20.8L93 -18.7L89.7 -16.1L88.8 -13.2L90.4 -10.3L94.4 -7.6L100.4 -5.6L107.9 -4.2L116.1 -3.8L124.3 -4.2L131.6 -5.6L137.2 -7.6L140.7 -10.3ZM-17.6 -26.3L-18.6 -27.8L-21.7 -29.1L-26.5 -30.1L-32.6 -30.8L-39.4 -31L-46.3 -30.8L-52.6 -30.1L-57.7 -29.1L-61.1 -27.8L-62.5 -26.3L-61.6 -24.9L-58.7 -23.5L-53.8 -22.5L-47.5 -21.8L-40.5 -21.6L-33.5 -21.8L-27.1 -22.5L-22.1 -23.5L-18.8 -24.9ZM124.4 3.8L123.4 2L120.5 0.4L115.9 -0.8L110.1 -1.6L103.7 -1.9L97.3 -1.6L91.5 -0.8L87 0.4L84 2L82.9 3.8L83.9 5.5L86.7 7.1L91.2 8.3L96.9 9.1L103.3 9.4L109.7 9.1L115.5 8.3L120.2 7.1L123.2 5.5ZM-119.2 -17.9L-119.6 -18.6L-121.1 -19.2L-123.5 -19.8L-126.6 -20.1L-130.1 -20.2L-133.6 -20.1L-136.9 -19.8L-139.5 -19.2L-141.3 -18.6L-142.1 -17.9L-141.7 -17.1L-140.2 -16.5L-137.8 -16L-134.7 -15.6L-131.2 -15.5L-127.6 -15.6L-124.3 -16L-121.7 -16.5L-119.9 -17.1Z" fill="#f4923e"/>
<path d="M-37.7 -26.3L-38.2 -27.8L-40.1 -29.1L-43 -30.1L-46.9 -30.8L-51.2 -31L-55.7 -30.8L-59.8 -30.1L-63.2 -29.1L-65.5 -27.8L-66.5 -26.3L-66.1 -24.9L-64.2 -23.5L-61.2 -22.5L-57.2 -21.8L-52.7 -21.6L-48.2 -21.8L-44 -22.5L-40.7 -23.5L-38.5 -24.9ZM63.8 4.7L63 1.8L60.4 -0.8L56.3 -2.9L51.2 -4.2L45.6 -4.7L40 -4.2L34.9 -2.9L30.9 -0.8L28.3 1.8L27.4 4.7L28.2 7.6L30.7 10.2L34.6 12.3L39.6 13.6L45.2 14.1L50.8 13.6L55.9 12.3L60.1 10.2L62.8 7.6ZM69.5 -7.5L68.8 -10.4L66.9 -13L64.2 -15.1L60.8 -16.5L57.2 -16.9L53.8 -16.5L50.7 -15.1L48.3 -13L46.8 -10.4L46.3 -7.5L47 -4.6L48.7 -2L51.3 0.1L54.5 1.4L58.1 1.9L61.7 1.4L64.9 0.1L67.5 -2L69.1 -4.6Z" fill="#ea5d2a"/>
<path d="M-151.4 -55.7H151.4V-33.8H-151.4Z" fill="#e44a36"/>
<path d="M-15.3 -37.6L-15.9 -39L-17.9 -40.3L-21.1 -41.3L-25.2 -42L-29.8 -42.2L-34.4 -42L-38.7 -41.3L-42.3 -40.3L-44.8 -39L-45.9 -37.6L-45.5 -36.1L-43.6 -34.8L-40.3 -33.8L-36.1 -33.1L-31.3 -32.9L-26.4 -33.1L-22 -33.8L-18.5 -34.8L-16.2 -36.1ZM-16.9 -44L-17.2 -45.5L-18.2 -46.7L-20 -47.7L-22.2 -48.4L-24.8 -48.6L-27.5 -48.4L-30.1 -47.7L-32.2 -46.7L-33.8 -45.5L-34.5 -44L-34.4 -42.6L-33.4 -41.3L-31.6 -40.3L-29.2 -39.7L-26.5 -39.4L-23.6 -39.7L-21 -40.3L-18.9 -41.3L-17.5 -42.6Z" fill="#f4923e"/>
<path d="M-23.1 -50.4L-23.1 -52L-24 -53.5L-25.7 -54.7L-27.9 -55.4L-30.5 -55.7L-33.2 -55.4L-35.9 -54.7L-38.3 -53.5L-40.1 -52L-41.2 -50.4L-41.4 -48.7L-40.6 -47.2L-38.9 -46L-36.4 -45.2L-33.6 -45L-30.6 -45.2L-27.8 -46L-25.5 -47.2L-23.8 -48.7Z" fill="#f6ad35"/>
<path d="M-25.8 -50.4L-25.9 -51.2L-26.4 -52L-27.3 -52.5L-28.5 -52.9L-30 -53L-31.5 -52.9L-32.9 -52.5L-34.2 -52L-35.1 -51.2L-35.6 -50.4L-35.6 -49.6L-35.2 -48.8L-34.2 -48.2L-33 -47.8L-31.5 -47.7L-29.9 -47.8L-28.4 -48.2L-27.1 -48.8L-26.3 -49.6Z" fill="#f9bd3a"/>
<path d="M-151.4 -63.9H151.4V-55.7H-151.4Z" fill="#c41e2c"/>
<path d="M-151.4 -71.2H151.4V-63.9H-151.4Z" fill="#9a1a22"/>
<path d="M-151.4 -75.8H151.4V-71.2H-151.4Z" fill="#6e1416"/>
<path d="M37.2 -75.4L36.1 -75.6L33.7 -75.6L30 -75.6L25.3 -75.6L20 -75.6L14.8 -75.6L10.1 -75.6L6.3 -75.6L3.9 -75.6L3.1 -75.4L4 -75L6.6 -74.7L10.6 -74.4L15.6 -74.2L21.2 -74.1L26.7 -74.2L31.5 -74.4L35 -74.7L37 -75ZM83.1 -74.7L82 -75L80.7 -75.3L78.5 -75.6L76.7 -75.6L74.8 -75.6L72.8 -75.6L71.2 -75.6L70.5 -75.3L70.5 -75L71.1 -74.7L72.4 -74.4L74.2 -74L76.4 -73.7L78.9 -73.5L81.2 -73.4L83 -73.5L84.3 -73.7L84.9 -74L84.2 -74.4Z" fill="#6b0a52"/>
<path d="M2.4 -62.3L2 -63.8L0.8 -65.1L-1 -66.1L-3.2 -66.7L-5.7 -67L-8.1 -66.7L-10.5 -66.1L-12.5 -65.1L-13.9 -63.8L-14.6 -62.3L-14.5 -60.8L-13.5 -59.4L-11.7 -58.3L-9.3 -57.6L-6.5 -57.4L-3.7 -57.6L-1.1 -58.3L0.8 -59.4L2.1 -60.8Z" fill="#e44a36"/>
<path d="M-75.2 30.1L-76.8 28.3L-80.6 26.8L-86.2 25.5L-93.1 24.7L-100.7 24.4L-108.1 24.7L-114.5 25.5L-119.4 26.8L-122.3 28.3L-122.6 30.1L-120.6 31.8L-116.5 33.4L-110.7 34.6L-103.8 35.4L-96.5 35.7L-89.5 35.4L-83.3 34.6L-78.6 33.4L-75.8 31.8ZM-67.2 51.3L-69.3 49.9L-73.9 48.7L-80.6 47.7L-88.6 47L-97.2 46.8L-105.5 47L-112.5 47.7L-117.5 48.7L-120.1 49.9L-119.9 51.3L-117 52.6L-111.9 53.9L-105.2 54.8L-97.5 55.4L-89.5 55.7L-81.9 55.4L-75.3 54.8L-70.4 53.9L-67.6 52.6ZM115.5 49.5L115.6 48.1L113.4 46.9L108.8 45.8L102.4 45.2L94.9 45L87.1 45.2L79.8 45.8L73.8 46.9L69.6 48.1L67.6 49.5L67.9 50.9L70.5 52.1L74.9 53.1L80.8 53.7L87.7 53.9L95 53.7L102.1 53.1L108.3 52.1L112.9 50.9Z" fill="#f8b637"/>
<path d="M-106.6 53.9L-107.9 53.1L-109.9 52.4L-112.4 51.8L-115.1 51.4L-117.8 51.3L-120.2 51.4L-122.1 51.8L-123.2 52.4L-122.5 53.1L-121.5 53.9L-120.5 54.7L-119.4 55.5L-116.9 56L-114.2 56.4L-111.6 56.5L-109.3 56.4L-107.6 56L-106.5 55.5L-106.1 54.7ZM117.1 51.3L117.6 50.3L117.1 49.4L115.7 48.7L113.3 48.3L110.4 48.1L107.2 48.3L104 48.7L101.2 49.4L99 50.3L97.7 51.3L97.3 52.2L97.8 53.1L99.2 53.8L101.4 54.2L104.1 54.4L107.2 54.2L110.3 53.8L113.2 53.1L115.6 52.2Z" fill="#fbd235"/>
<path d="M-151.4 56.5H151.4V75.8H-151.4Z" fill="#ea5d2a"/>
<path d="M-151.4 62.3H151.4V75.8H-151.4Z" fill="#e44a36"/>
<g clip-path="url(#ipl)">
<rect x="-151.4" y="-80" width="302.8" height="160" fill="#df2c2c"/>
<path d="M-56.6 37.6L-58.2 32.9L-60.1 28.7L-62.1 25.4L-64.3 23.3L-66.3 22.6L-68.2 23.3L-69.6 25.4L-70.3 28.7L-70.1 32.9L-68.8 37.6L-66.7 42.2L-64 46.3L-61.1 49.4L-58.4 51.5L-56.3 52.2L-55 51.5L-54.4 49.4L-54.6 46.3L-55.4 42.2ZM-70.9 -11.3L-71.1 -13L-71.9 -14.6L-73.2 -15.8L-74.9 -16.6L-76.9 -16.9L-78.9 -16.6L-80.9 -15.8L-82.5 -14.6L-83.6 -13L-84.1 -11.3L-83.9 -9.5L-83.1 -8L-81.7 -6.7L-79.9 -5.9L-77.9 -5.6L-75.8 -5.9L-73.9 -6.7L-72.4 -8L-71.4 -9.5ZM101.2 1.9L100.4 -0.2L97.7 -2L93.6 -3.4L88.5 -4.4L82.9 -4.7L77.3 -4.4L72.2 -3.4L68.2 -2L65.6 -0.2L64.7 1.9L65.6 3.9L68.1 5.7L72 7.2L77.1 8.1L82.7 8.5L88.3 8.1L93.4 7.2L97.6 5.7L100.2 3.9ZM128.6 39.4L129.8 37.4L130.1 35.6L129.7 34.1L128.5 33.2L126.8 32.9L124.6 33.2L122.3 34.1L120.1 35.6L118.2 37.4L116.5 39.4L115.4 41.4L114.9 43.2L115 44.7L115.9 45.6L117.5 45.9L119.5 45.6L121.9 44.7L124.4 43.2L126.8 41.4ZM-5.6 -50.4L-5.7 -51.8L-6.2 -53L-7.1 -54L-8.1 -54.6L-9.4 -54.8L-10.6 -54.6L-11.8 -54L-12.8 -53L-13.6 -51.8L-14 -50.4L-13.9 -49L-13.5 -47.8L-12.6 -46.8L-11.5 -46.1L-10.2 -45.9L-8.8 -46.1L-7.5 -46.8L-6.5 -47.8L-5.9 -49Z" fill="#e8553a"/>
<path d="M-151.4 -75.8H151.4V-37.6H-151.4ZM-78 -35.7L-77.7 -37.7L-78.4 -39.5L-80 -41L-82.5 -41.9L-85.5 -42.2L-88.9 -41.9L-92.4 -41L-95.5 -39.5L-98.1 -37.7L-99.6 -35.7L-100 -33.7L-99.2 -31.8L-97.4 -30.4L-94.6 -29.4L-91.3 -29.1L-87.8 -29.4L-84.4 -30.4L-81.5 -31.8L-79.3 -33.7ZM-49.6 7.5L-50.1 4.9L-51.3 2.5L-53.2 0.7L-55.5 -0.5L-58.1 -0.9L-60.7 -0.5L-63 0.7L-64.8 2.5L-65.9 4.9L-66.2 7.5L-65.6 10.1L-64.3 12.5L-62.3 14.4L-59.9 15.6L-57.3 16L-54.8 15.6L-52.7 14.4L-51 12.5L-49.9 10.1ZM13.8 -22.6L12.8 -24.9L10.2 -27L6.3 -28.6L1.4 -29.7L-4 -30.1L-9.3 -29.7L-14.3 -28.6L-18.2 -27L-20.9 -24.9L-21.8 -22.6L-21.1 -20.2L-18.6 -18.1L-14.7 -16.5L-9.7 -15.4L-4.1 -15L1.5 -15.4L6.5 -16.5L10.4 -18.1L12.9 -20.2ZM17.1 20.7L16.8 18.1L15.8 15.7L14.2 13.8L12.2 12.6L9.9 12.2L7.6 12.6L5.5 13.8L3.9 15.7L2.8 18.1L2.4 20.7L2.8 23.3L3.8 25.6L5.4 27.5L7.3 28.7L9.5 29.1L11.8 28.7L13.8 27.5L15.5 25.6L16.6 23.3ZM46.2 -28.2L45.1 -30.5L42.7 -32.6L39.3 -34.3L35.2 -35.3L30.9 -35.7L26.6 -35.3L22.9 -34.3L19.9 -32.6L18.1 -30.5L17.5 -28.2L18.4 -25.9L20.5 -23.8L23.8 -22.1L27.9 -21L32.5 -20.7L37 -21L41 -22.1L44 -23.8L45.8 -25.9ZM75.6 -33.8L74.1 -35.6L71.1 -37.1L66.9 -38.4L62 -39.2L56.7 -39.4L51.7 -39.2L47.3 -38.4L43.8 -37.1L41.8 -35.6L41.3 -33.8L42.4 -32.1L45.2 -30.5L49.3 -29.3L54.3 -28.5L59.8 -28.2L65.1 -28.5L69.8 -29.3L73.3 -30.5L75.3 -32.1ZM104.6 21.6L104.5 20.4L103.6 19.4L102.2 18.6L100.2 18L98 17.9L95.7 18L93.5 18.6L91.8 19.4L90.5 20.4L90 21.6L90.1 22.8L90.9 23.8L92.3 24.7L94.2 25.2L96.4 25.4L98.7 25.2L100.8 24.7L102.7 23.8L104 22.8Z" fill="#c41e2c"/>
<path d="M-6 -41.3L-6.4 -43L-7.5 -44.5L-9.4 -45.7L-11.8 -46.5L-14.4 -46.8L-17.1 -46.5L-19.6 -45.7L-21.7 -44.5L-23.2 -43L-23.9 -41.3L-23.7 -39.6L-22.7 -38L-20.8 -36.8L-18.3 -36L-15.4 -35.7L-12.6 -36L-9.9 -36.8L-7.9 -38L-6.5 -39.6ZM99.6 -35.7L98.4 -37.1L96.1 -38.4L93.2 -39.5L89.9 -40.1L86.5 -40.4L83.4 -40.1L80.8 -39.5L78.9 -38.4L77.9 -37.1L78 -35.7L79 -34.2L81.1 -32.9L83.9 -31.9L87.2 -31.2L90.6 -31L94 -31.2L96.8 -31.9L98.8 -32.9L99.7 -34.2ZM-94.3 -41.3L-93.1 -43.6L-92.4 -45.6L-92.2 -47.2L-92.6 -48.2L-93.6 -48.6L-95.2 -48.2L-97.3 -47.2L-99.4 -45.6L-101.5 -43.6L-103.2 -41.3L-104.4 -39L-105 -36.9L-104.8 -35.3L-104.1 -34.2L-102.8 -33.8L-101.2 -34.2L-99.4 -35.3L-97.6 -36.9L-95.8 -39Z" fill="#df2c2c"/>
<path d="M-151.4 -75.8H151.4V-57.4H-151.4ZM-58.7 -53.9L-58.3 -55.5L-59.1 -57L-60.8 -58.1L-63.5 -58.8L-66.9 -59L-70.6 -58.8L-74.5 -58.1L-78.1 -57L-81.1 -55.5L-83 -53.9L-83.8 -52.3L-83.2 -50.8L-81.3 -49.6L-78.3 -48.9L-74.5 -48.6L-70.4 -48.9L-66.4 -49.6L-62.9 -50.8L-60.3 -52.3ZM91 -57.4L88.3 -58.4L82.8 -59.3L75.1 -60.1L65.9 -60.5L56.1 -60.7L46.6 -60.5L38.1 -60.1L31.5 -59.3L27.2 -58.4L26 -57.4L27.9 -56.3L32.9 -55.4L40.6 -54.6L50.2 -54.1L60.7 -53.9L71 -54.1L80 -54.6L86.7 -55.4L90.5 -56.3Z" fill="#9a1a22"/>
<path d="M-151.4 -75.8H151.4V-65.4H-151.4ZM-47.7 -63.9L-47.7 -64.9L-49.1 -65.7L-51.7 -66.4L-55.2 -66.8L-59.5 -67L-64 -66.8L-68.5 -66.4L-72.5 -65.7L-75.6 -64.9L-77.5 -63.9L-77.9 -62.9L-76.7 -62L-74 -61.3L-70.2 -60.8L-65.5 -60.7L-60.5 -60.8L-55.9 -61.3L-51.9 -62L-49.1 -62.9Z" fill="#6e1416"/>
<path d="M-23.3 -63.9L-22.9 -65.8L-23.3 -67.5L-24.2 -68.7L-25.7 -69.5L-27.7 -69.8L-30 -69.5L-32.6 -68.7L-35.1 -67.5L-37.2 -65.8L-38.8 -63.9L-39.5 -61.9L-39.3 -60.1L-38.2 -58.6L-36.3 -57.7L-33.8 -57.4L-31.1 -57.7L-28.4 -58.6L-26.1 -60.1L-24.3 -61.9Z" fill="#c41e2c"/>
<path d="M-151.4 55.7H151.4V75.8H-151.4Z" fill="#df2c2c"/>
<path d="M74.6 69.8L74.4 68.5L69.1 67.3L58.9 66.3L45.1 65.7L29.1 65.4L12.9 65.7L-1.7 66.3L-12.8 67.3L-19.5 68.5L-21.3 69.8L-18.4 71.1L-11.5 72L-1.4 72.8L10.8 73.2L24.2 73.4L37.8 73.2L50.7 72.8L61.8 72L70.1 71.1Z" fill="#e8553a"/>
</g>
<rect x="-151.4" y="-80" width="302.8" height="160" fill="url(#stB)"/>
<use href="#ipland" fill="none" stroke="#1c0c08" stroke-width="1.05" stroke-linejoin="round"/>
<path d="M27.4 -42.7L28.1 -43.1L29.4 -43.9L30.5 -43.9L31.7 -43.6L31.9 -42.5L30.6 -41.7L30.1 -41.6L30.9 -40.9L32 -40.2L32.4 -39L32.9 -37.6L33.7 -36.6L33.9 -35.2L34.1 -34.7L32.6 -34.4L31 -35.1L30 -36.1L30.2 -36.9L30.5 -37.8L30.8 -37.9L30.1 -38.2L29.2 -39.2L28.2 -40.4L28.1 -41.3L27.3 -41.9Z" fill="none" stroke="#1c0c08" stroke-width="0.7"/>
</g></g>
<text x="141.6" y="402.6" font-size="15.4" fill="#1a1a1a" textLength="57.6" lengthAdjust="spacingAndGlyphs" stroke="#1a1a1a" stroke-width="0.4">RCP 2.6</text>
<text x="445.6" y="402.6" font-size="15.4" fill="#1a1a1a" textLength="57.6" lengthAdjust="spacingAndGlyphs" stroke="#1a1a1a" stroke-width="0.4">RCP 8.5</text>
<text x="79.9" y="424.7" font-size="14.4" fill="#1a1a1a" textLength="471.3" lengthAdjust="spacingAndGlyphs" stroke="#1a1a1a" stroke-width="0.4">Change in average surface temperature (1986−2005 to 2081−2100)</text>
<text x="286" y="446.3" font-size="8.8" fill="#1a1a1a" stroke="#1a1a1a" stroke-width="0.25">32</text>
<text x="598" y="446.4" font-size="8.8" fill="#1a1a1a" stroke="#1a1a1a" stroke-width="0.25">39</text>
<rect x="65.3" y="596.6" width="31.5" height="10.4" fill="#2f3b7d"/>
<rect x="96.6" y="596.6" width="31.5" height="10.4" fill="#4469b5"/>
<rect x="127.9" y="596.6" width="31.5" height="10.4" fill="#7088c9"/>
<rect x="159.2" y="596.6" width="31.5" height="10.4" fill="#9cb1df"/>
<rect x="190.5" y="596.6" width="31.5" height="10.4" fill="#c8d4ee"/>
<rect x="221.8" y="596.6" width="31.5" height="10.4" fill="#fbf5c5"/>
<rect x="253.1" y="596.6" width="31.5" height="10.4" fill="#fbe09a"/>
<rect x="284.4" y="596.6" width="31.5" height="10.4" fill="#f9cc68"/>
<rect x="315.7" y="596.6" width="31.5" height="10.4" fill="#f6ad35"/>
<rect x="347" y="596.6" width="31.5" height="10.4" fill="#f28a3a"/>
<rect x="378.3" y="596.6" width="31.5" height="10.4" fill="#ea5d2a"/>
<rect x="409.6" y="596.6" width="31.5" height="10.4" fill="#df2c2c"/>
<rect x="440.9" y="596.6" width="31.5" height="10.4" fill="#c41e2c"/>
<rect x="472.2" y="596.6" width="31.5" height="10.4" fill="#9a1a22"/>
<rect x="503.5" y="596.6" width="31.5" height="10.4" fill="#6e1416"/>
<rect x="534.8" y="596.6" width="31.5" height="10.4" fill="#6b0a52"/>
<path d="M96.6 596.6V607M127.9 596.6V607M159.2 596.6V607M190.5 596.6V607M221.8 596.6V607M253.1 596.6V607M284.4 596.6V607M315.7 596.6V607M347 596.6V607M378.3 596.6V607M409.6 596.6V607M440.9 596.6V607M472.2 596.6V607M503.5 596.6V607M534.8 596.6V607" stroke="#3a3020" stroke-width="0.7" stroke-opacity="0.75"/>
<text x="95.1" y="623.2" font-size="10.2" text-anchor="middle" fill="#1a1a1a" stroke="#1a1a1a" stroke-width="0.2">−2</text>
<text x="126.4" y="623.2" font-size="10.2" text-anchor="middle" fill="#1a1a1a" stroke="#1a1a1a" stroke-width="0.2">−1.5</text>
<text x="157.7" y="623.2" font-size="10.2" text-anchor="middle" fill="#1a1a1a" stroke="#1a1a1a" stroke-width="0.2">−1</text>
<text x="189" y="623.2" font-size="10.2" text-anchor="middle" fill="#1a1a1a" stroke="#1a1a1a" stroke-width="0.2">−0.5</text>
<text x="221.8" y="623.2" font-size="10.2" text-anchor="middle" fill="#1a1a1a" stroke="#1a1a1a" stroke-width="0.2">0</text>
<text x="253.1" y="623.2" font-size="10.2" text-anchor="middle" fill="#1a1a1a" stroke="#1a1a1a" stroke-width="0.2">0.5</text>
<text x="284.4" y="623.2" font-size="10.2" text-anchor="middle" fill="#1a1a1a" stroke="#1a1a1a" stroke-width="0.2">1</text>
<text x="315.7" y="623.2" font-size="10.2" text-anchor="middle" fill="#1a1a1a" stroke="#1a1a1a" stroke-width="0.2">1.5</text>
<text x="347" y="623.2" font-size="10.2" text-anchor="middle" fill="#1a1a1a" stroke="#1a1a1a" stroke-width="0.2">2</text>
<text x="378.3" y="623.2" font-size="10.2" text-anchor="middle" fill="#1a1a1a" stroke="#1a1a1a" stroke-width="0.2">3</text>
<text x="409.6" y="623.2" font-size="10.2" text-anchor="middle" fill="#1a1a1a" stroke="#1a1a1a" stroke-width="0.2">4</text>
<text x="440.9" y="623.2" font-size="10.2" text-anchor="middle" fill="#1a1a1a" stroke="#1a1a1a" stroke-width="0.2">5</text>
<text x="472.2" y="623.2" font-size="10.2" text-anchor="middle" fill="#1a1a1a" stroke="#1a1a1a" stroke-width="0.2">7</text>
<text x="503.5" y="623.2" font-size="10.2" text-anchor="middle" fill="#1a1a1a" stroke="#1a1a1a" stroke-width="0.2">9</text>
<text x="534.8" y="623.2" font-size="10.2" text-anchor="middle" fill="#1a1a1a" stroke="#1a1a1a" stroke-width="0.2">11</text>
<text x="574.5" y="607.6" font-size="10.8" fill="#1a1a1a">(°C)</text>
<path d="M193.7 739.5V923.7H440.4" fill="none" stroke="#777" stroke-width="1.3"/>
<path d="M190.2 923.7H193.7" stroke="#777" stroke-width="1.2"/>
<text x="180.9" y="928.9" font-size="15.4" text-anchor="end" fill="#111">0</text>
<path d="M190.2 882.1H193.7" stroke="#777" stroke-width="1.2"/>
<text x="180.9" y="887.3" font-size="15.4" text-anchor="end" fill="#111">2</text>
<path d="M190.2 840.5H193.7" stroke="#777" stroke-width="1.2"/>
<text x="180.9" y="845.7" font-size="15.4" text-anchor="end" fill="#111">4</text>
<path d="M190.2 798.9H193.7" stroke="#777" stroke-width="1.2"/>
<text x="180.9" y="804.1" font-size="15.4" text-anchor="end" fill="#111">6</text>
<path d="M190.2 757.3H193.7" stroke="#777" stroke-width="1.2"/>
<text x="180.9" y="762.5" font-size="15.4" text-anchor="end" fill="#111">8</text>
<path d="M193.7 923.7V927.2" stroke="#777" stroke-width="1.2"/>
<text x="193.7" y="949.2" font-size="15" text-anchor="middle" fill="#111">0</text>
<path d="M248.8 923.7V927.2" stroke="#777" stroke-width="1.2"/>
<text x="248.8" y="949.2" font-size="15" text-anchor="middle" fill="#111">10</text>
<path d="M303.9 923.7V927.2" stroke="#777" stroke-width="1.2"/>
<text x="303.9" y="949.2" font-size="15" text-anchor="middle" fill="#111">20</text>
<path d="M359 923.7V927.2" stroke="#777" stroke-width="1.2"/>
<text x="359" y="949.2" font-size="15" text-anchor="middle" fill="#111">30</text>
<path d="M414.1 923.7V927.2" stroke="#777" stroke-width="1.2"/>
<text x="414.1" y="949.2" font-size="15" text-anchor="middle" fill="#111">40</text>
<polyline points="193.7,918.6 199.2,918.2 204.6,917.8 210.1,917.4 215.5,917 221,916.5 226.4,916 231.9,915.4 237.3,914.8 242.8,914.2 248.2,913.6 253.7,912.9 259.2,912.1 264.6,911.3 270.1,910.5 275.5,909.6 281,908.7 286.4,907.8 291.9,906.7 297.3,905.6 302.8,904.5 308.3,903.3 313.7,902 319.2,900.6 324.6,899.2 330.1,897.7 335.5,896.2 341,894.5 346.4,892.8 351.9,890.9 357.3,889 362.8,887 368.3,884.9 373.7,882.6 379.2,880.3 384.6,877.8 390.1,875.2 395.5,872.5 401,869.7 406.4,866.7 411.9,863.6" fill="none" stroke="#8a8a8a" stroke-width="2.2" stroke-linecap="round"/>
<polyline points="193.7,911 199.2,910.1 204.6,909 210.1,908 215.5,906.8 221,905.6 226.4,904.3 231.9,903 237.3,901.5 242.8,900 248.2,898.3 253.7,896.6 259.2,894.8 264.6,892.8 270.1,890.7 275.5,888.6 281,886.3 286.4,883.8 291.9,881.3 297.3,878.5 302.8,875.7 308.3,872.6 313.7,869.4 319.2,866.1 324.6,862.5 330.1,858.8 335.5,854.8 341,850.7 346.4,846.4 351.9,841.8 357.3,837 362.8,831.9 368.3,826.6 373.7,821 379.2,815.1 384.6,809 390.1,802.5 395.5,795.8 401,788.7 406.4,781.3 411.9,773.5" fill="none" stroke="#e8141c" stroke-width="2.3" stroke-linecap="round"/>
<path d="M349.6 842.5V891.5" stroke="#555" stroke-width="1.2"/>
<text x="355.5" y="866.5" font-size="16" font-weight="bold" textLength="34.5" lengthAdjust="spacingAndGlyphs">VPD</text>
<text x="396.5" y="771.5" font-size="16.8" fill="#111" textLength="74" lengthAdjust="spacingAndGlyphs">Saturated</text>
<text x="417" y="858.8" font-size="16.8" fill="#111" textLength="47.5" lengthAdjust="spacingAndGlyphs">Actual</text>
<text x="124.4" y="751.4" font-size="16.6" font-weight="bold">A</text>
<text x="134.6" y="901" font-size="16.5" font-weight="bold" textLength="135.5" lengthAdjust="spacingAndGlyphs" transform="rotate(-90 134.6 901)">Vapour pressure</text>
<text x="155.2" y="853.5" font-size="15.5" fill="#111" textLength="44" lengthAdjust="spacingAndGlyphs" transform="rotate(-90 155.2 853.5)">(KPa)</text>
<text x="265" y="971.8" font-size="16.5" font-weight="bold" textLength="136" lengthAdjust="spacingAndGlyphs">Temperature (<tspan font-size="10" dy="-6">0</tspan><tspan dy="6">C)</tspan></text>
<rect x="749.6" y="89.2" width="235.5" height="197.2" fill="#fff" stroke="#000" stroke-width="2.9"/>
<path d="M831 90V286M908.8 90V286M750 155.6H985M750 220.7H985" stroke="#5a5a5a" stroke-width="1.1" fill="none"/>
<text x="869.4" y="128.9" font-size="16.3" text-anchor="middle" fill="#111" textLength="62.4" lengthAdjust="spacingAndGlyphs">Watered</text>
<text x="946" y="118.6" font-size="16.3" text-anchor="middle" fill="#111" textLength="19.6" lengthAdjust="spacingAndGlyphs">No</text>
<text x="946.2" y="138.1" font-size="16.3" text-anchor="middle" fill="#111" textLength="44.6" lengthAdjust="spacingAndGlyphs">Water</text>
<text x="790.1" y="181.7" font-size="16.3" text-anchor="middle" fill="#111" textLength="59.2" lengthAdjust="spacingAndGlyphs">Ambient</text>
<text x="791" y="205.7" font-size="16.3" text-anchor="middle" fill="#111" textLength="42.5" lengthAdjust="spacingAndGlyphs">Temp.</text>
<text x="790.3" y="259.7" font-size="16.3" text-anchor="middle" fill="#111" textLength="34.9" lengthAdjust="spacingAndGlyphs">+4°C</text>
<use href="#tree" x="850.3" y="158.3"/>
<use href="#tree" x="886.5" y="158.3"/>
<use href="#tree" x="868.7" y="172"/>
<use href="#tree" x="850.3" y="189"/>
<use href="#tree" x="886.5" y="189"/>
<use href="#tree" x="850.3" y="222.9"/>
<use href="#tree" x="886.5" y="222.9"/>
<use href="#tree" x="868.7" y="236.6"/>
<use href="#tree" x="850.3" y="253.6"/>
<use href="#tree" x="886.5" y="253.6"/>
<use href="#tree" x="924.4" y="158.3"/>
<use href="#tree" x="960.6" y="158.3"/>
<use href="#tree" x="942.8" y="172"/>
<use href="#tree" x="924.4" y="189"/>
<use href="#tree" x="960.6" y="189"/>
<use href="#tree" x="924.4" y="222.9"/>
<use href="#tree" x="960.6" y="222.9"/>
<use href="#tree" x="942.8" y="236.6"/>
<use href="#tree" x="924.4" y="253.6"/>
<use href="#tree" x="960.6" y="253.6"/>
<rect x="1042.7" y="88.8" width="250.0" height="173.2" fill="#fff" stroke="#8a8a8a" stroke-width="1.3"/>
<rect x="1042.7" y="128.9" width="180" height="34.9" fill="#3345a2" stroke="#2a3575" stroke-width="0.8"/>
<rect x="1042.7" y="187.5" width="128.6" height="34" fill="#de3024" stroke="#a3271f" stroke-width="0.8"/>
<path d="M1222.7 146.6H1248M1248 144.2V149" stroke="#777" stroke-width="1.2" fill="none"/>
<path d="M1171.3 204.8H1190.5M1190.5 202.4V207.2" stroke="#777" stroke-width="1.2" fill="none"/>
<text x="1042.7" y="278.4" font-size="9.8" text-anchor="middle" fill="#222">0</text>
<text x="1078.4" y="278.4" font-size="9.8" text-anchor="middle" fill="#222">5</text>
<text x="1114.1" y="278.4" font-size="9.8" text-anchor="middle" fill="#222">10</text>
<text x="1149.8" y="278.4" font-size="9.8" text-anchor="middle" fill="#222">15</text>
<text x="1185.6" y="278.4" font-size="9.8" text-anchor="middle" fill="#222">20</text>
<text x="1221.3" y="278.4" font-size="9.8" text-anchor="middle" fill="#222">25</text>
<text x="1257" y="278.4" font-size="9.8" text-anchor="middle" fill="#222">30</text>
<text x="1292.7" y="278.4" font-size="9.8" text-anchor="middle" fill="#222">35</text>
<path d="M1042.7 262V265.5M1078.4 262V265.5M1114.1 262V265.5M1149.8 262V265.5M1185.6 262V265.5M1221.3 262V265.5M1257 262V265.5M1292.7 262V265.5M1039.2 146.6H1042.7M1039.2 204.8H1042.7" stroke="#8a8a8a" stroke-width="1.1" fill="none"/>
<text x="1034.5" y="150" font-size="10.5" text-anchor="end" fill="#222" textLength="40.5" lengthAdjust="spacingAndGlyphs">Ambient</text>
<text x="1034.5" y="208.3" font-size="10.5" text-anchor="end" fill="#222" textLength="24.2" lengthAdjust="spacingAndGlyphs">+4°C</text>
<text x="1167.7" y="296.9" font-size="13.2" text-anchor="middle" fill="#222" textLength="137.5" lengthAdjust="spacingAndGlyphs" stroke="#222" stroke-width="0.3">Time to death (weeks)</text>
<rect x="884.9" y="438.2" width="310.3" height="218" fill="#fff" stroke="#111" stroke-width="2"/>
<path d="M991.2 608C994 610.3 1002.5 618.1 1008 622C1013.5 625.9 1018.5 628.6 1024.3 631.3C1030.1 634 1035.9 636.2 1042.9 638.3C1049.9 640.4 1057.6 642.4 1066.2 644.1C1074.8 645.9 1089.9 648 1094.6 648.8V656.2H991.2Z" fill="#e12a2d"/>
<path d="M1094.6 648.8C1099.6 649.3 1115.6 651 1124.4 651.8C1133.2 652.6 1139.8 652.9 1147.6 653.4C1155.3 653.9 1167 654.4 1170.9 654.6V656.2H1094.6Z" fill="#1e78c2"/>
<path d="M991.5 456V608M991.5 609.5H896" stroke="#e6323a" stroke-dasharray="2.2 2.3" stroke-width="2" fill="none"/>
<path d="M991.2 610V655" stroke="#f4a0a0" stroke-width="1.2" stroke-dasharray="1.5 2.5" fill="none"/>
<path d="M1094.5 456V648M1094.5 647.5H896" stroke="#2a7fc6" stroke-dasharray="2.2 2.3" stroke-width="2" fill="none"/>
<path d="M887.7 609.5L897.3 604.7V614.3Z" fill="#e12a2d"/>
<path d="M887.7 647.5L897.3 642.7V652.3Z" fill="#1e78c2"/>
<path d="M923.1 456.8C924.2 461.2 927.5 474.4 930 483.5C932.5 492.6 935.3 502.6 938.2 511.5C941.1 520.4 944.4 529.2 947.5 537C950.6 544.8 953.3 551 956.8 558C960.3 565 964.5 572.8 968.4 579C972.3 585.2 976.2 590.4 980 595.2C983.8 600 986.5 603.5 991.2 608C995.9 612.5 1002.5 618.1 1008 622C1013.5 625.9 1018.5 628.6 1024.3 631.3C1030.1 634 1035.9 636.2 1042.9 638.3C1049.9 640.4 1057.6 642.4 1066.2 644.1C1074.8 645.9 1084.9 647.5 1094.6 648.8C1104.3 650.1 1115.6 651 1124.4 651.8C1133.2 652.6 1139.8 652.9 1147.6 653.4C1155.3 653.9 1167 654.4 1170.9 654.6" fill="none" stroke="#0a0a0a" stroke-width="2.6" stroke-linecap="butt"/>
<text x="984" y="551" font-size="12.6" fill="#222" textLength="46.5" lengthAdjust="spacingAndGlyphs" transform="rotate(-90 984 551)">Warmer</text>
<text x="1005.7" y="588.2" font-size="12.6" fill="#222" textLength="114" lengthAdjust="spacingAndGlyphs" transform="rotate(-90 1005.7 588.2)">Mortality Threshold</text>
<text x="1086.7" y="555.7" font-size="12.6" fill="#222" textLength="38.4" lengthAdjust="spacingAndGlyphs" transform="rotate(-90 1086.7 555.7)">Cooler</text>
<text x="1110.9" y="588.2" font-size="12.6" fill="#222" textLength="115" lengthAdjust="spacingAndGlyphs" transform="rotate(-90 1110.9 588.2)">Mortality Threshold</text>
<text x="869.9" y="608.8" font-size="14.2" fill="#222" textLength="114.8" lengthAdjust="spacingAndGlyphs" transform="rotate(-90 869.9 608.8)"># Drought events</text>
<text x="875.9" y="460.4" font-size="12.6" fill="#222" textLength="31.3" lengthAdjust="spacingAndGlyphs" transform="rotate(-90 875.9 460.4)">many</text>
<text x="875.9" y="660" font-size="12.6" fill="#222" textLength="20" lengthAdjust="spacingAndGlyphs" transform="rotate(-90 875.9 660)">few</text>
<text x="881.5" y="677.9" font-size="12.6" fill="#222" textLength="29" lengthAdjust="spacingAndGlyphs">short</text>
<text x="984.6" y="677.9" font-size="14.2" fill="#222" textLength="116" lengthAdjust="spacingAndGlyphs">Drought duration</text>
<text x="1168.4" y="677.9" font-size="12.6" fill="#222" textLength="25.4" lengthAdjust="spacingAndGlyphs">long</text>
<rect x="882.4" y="786" width="328.1" height="228.4" fill="#fff" stroke="#6e6e6e" stroke-width="1.3"/>
<path d="M1174.7 786V1014.4M1182.9 786V1014.4" stroke="#8a8a8a" stroke-width="1.5" stroke-dasharray="4.5 2.5" fill="none"/>
<path d="M882.4 994.6C888.2 994.3 906.6 993.8 917.3 992.6C927.9 991.4 936.7 989.9 946.4 987.7C956.1 985.4 965.8 983 975.5 979.2C985.2 975.4 995.8 970.1 1004.5 964.7C1013.3 959.3 1021.9 952.1 1027.8 946.9C1033.7 941.8 1036.8 938.2 1040 933.8C1043.2 929.4 1045.3 925.1 1047 920.5C1048.8 915.8 1049.7 910.8 1050.5 905.9C1051.3 901.1 1051.2 896.7 1052 891.4C1052.7 886 1053.3 879.7 1054.9 873.9C1056.5 868.1 1058.8 862 1061.6 856.5C1064.4 850.9 1067.7 845.5 1071.7 840.5C1075.8 835.4 1080.7 830.3 1086 826.2C1091.3 822.1 1096.7 818.9 1103.5 815.7C1110.2 812.5 1119 809.3 1126.7 807C1134.5 804.7 1142 803.3 1150 802.1C1158 800.8 1170.6 800.1 1174.7 799.7" fill="none" stroke="#3f62c2" stroke-width="1.7"/>
<path d="M1182.9 990.3L1209.8 988.8" stroke="#3f62c2" stroke-width="1.7" fill="none"/>
<path d="M1174.7 798.3L1182.9 990.3" stroke="#c62828" stroke-width="1.7" fill="none"/>
<text x="1027.8" y="882.6" font-size="11.3" text-anchor="middle" fill="#3f62c2">Natality</text>
<text x="1024" y="895.7" font-size="11.3" text-anchor="middle" fill="#3f62c2">and</text>
<text x="1027" y="908.8" font-size="11.3" text-anchor="middle" fill="#3f62c2">Growth</text>
<text x="1125.3" y="898.6" font-size="11.5" fill="#c62828" textLength="44.5" lengthAdjust="spacingAndGlyphs">Mortality</text>
<text x="851" y="955.4" font-size="11.6" fill="#222" textLength="81.4" lengthAdjust="spacingAndGlyphs" transform="rotate(-90 851 955.4)">Forest Biomass</text>
<text x="862.6" y="920.5" font-size="11.6" fill="#222" transform="rotate(-90 862.6 920.5)">or</text>
<text x="874" y="963.5" font-size="11.6" fill="#222" textLength="99.8" lengthAdjust="spacingAndGlyphs" transform="rotate(-90 874 963.5)">Ecosystem Carbon</text>
<path d="M860 871V833" stroke="#111" stroke-width="1.3"/>
<path d="M860 828.6L857.6 834.4H862.4Z" fill="#111"/>
<text x="1017.6" y="1028.2" font-size="11.3" fill="#222" textLength="25.8" lengthAdjust="spacingAndGlyphs">Time</text>
<path d="M1049.6 1025.2H1086" stroke="#111" stroke-width="1.3"/>
<path d="M1090.3 1025.2L1084.5 1022.8V1027.6Z" fill="#111"/>
<polygon points="20.6,18.8 633.6,18.8 618.4,79.2 35.8,79.2" fill="#f3f2f0" stroke="#201c1c" stroke-width="1.8" stroke-linejoin="round" filter="url(#sh)"/>
<polygon points="20.6,319.5 633.8,319.5 619.2,377 35.4,377" fill="#f3f2f0" stroke="#201c1c" stroke-width="1.8" stroke-linejoin="round" filter="url(#sh)"/>
<polygon points="20.6,658.2 633.8,658.2 617,724.8 37.5,724.8" fill="#f3f2f0" stroke="#201c1c" stroke-width="1.8" stroke-linejoin="round" filter="url(#sh)"/>
<polygon points="718.4,16 1351.4,16 1334.8,82 735,82" fill="#f3f2f0" stroke="#201c1c" stroke-width="1.8" stroke-linejoin="round" filter="url(#sh)"/>
<polygon points="719.5,354.8 1351.4,354.8 1334.8,423 736.5,423" fill="#f3f2f0" stroke="#201c1c" stroke-width="1.8" stroke-linejoin="round" filter="url(#sh)"/>
<polygon points="718.2,714 1351.4,714 1334.8,778.2 734.6,778.2" fill="#f3f2f0" stroke="#201c1c" stroke-width="1.8" stroke-linejoin="round" filter="url(#sh)"/>
<text x="77" y="62.8" font-size="27.4" textLength="483" lengthAdjust="spacingAndGlyphs">Tree-killing droughts occur everywhere</text>
<text x="114" y="359" font-size="27.4" textLength="381" lengthAdjust="spacingAndGlyphs">Hotter droughts from warming</text>
<text x="86" y="683" font-size="27.4" textLength="480" lengthAdjust="spacingAndGlyphs">Nonlinear Vapor Pressure Deficit (VPD)</text>
<text x="268" y="719.2" font-size="27.4" textLength="114" lengthAdjust="spacingAndGlyphs">increases</text>
<text x="818" y="68.5" font-size="27.4" textLength="432" lengthAdjust="spacingAndGlyphs">Faster death from hotter drought</text>
<text x="794" y="394.3" font-size="27.4" textLength="490" lengthAdjust="spacingAndGlyphs">Increased frequency of lethal drought</text>
<text x="871" y="757" font-size="27.4" textLength="325" lengthAdjust="spacingAndGlyphs">Death faster than growth</text>
<text x="93" y="310.4" font-size="18.2" font-style="italic" textLength="455" lengthAdjust="spacingAndGlyphs">Allen et al. 2010; updated in IPCC 2014, then in Allen et</text>
<text x="284" y="645" font-size="18.2" font-style="italic" textLength="82" lengthAdjust="spacingAndGlyphs">IPCC 2013</text>
<text x="121.8" y="991.8" font-size="18.2" font-style="italic" textLength="345" lengthAdjust="spacingAndGlyphs">Breshears et al. 2013 Frontiers in Plant Sci</text>
<text x="738" y="321" font-size="18.2" font-style="italic" textLength="599" lengthAdjust="spacingAndGlyphs">Based on Adams et al. 2009 PNAS, see also Will et al. 2013 New Phyt,</text>
<text x="766" y="346.5" font-size="18.2" font-style="italic" textLength="543" lengthAdjust="spacingAndGlyphs">Duane et al. 2014 Plant Cell &amp; Env, Duane et al. 2015 Tree Phys</text>
<text x="728" y="699.8" font-size="18.2" font-style="italic" textLength="626" lengthAdjust="spacingAndGlyphs">Generalized from Adams et al. 2009 PNAS, in Allen et al. 2015 Ecosphere</text>
<text x="912.3" y="1048.5" font-size="18.2" font-style="italic" textLength="295" lengthAdjust="spacingAndGlyphs">Allen et al. 2010 Forest Ecol Mgmt</text>
</svg>
</body></html>
